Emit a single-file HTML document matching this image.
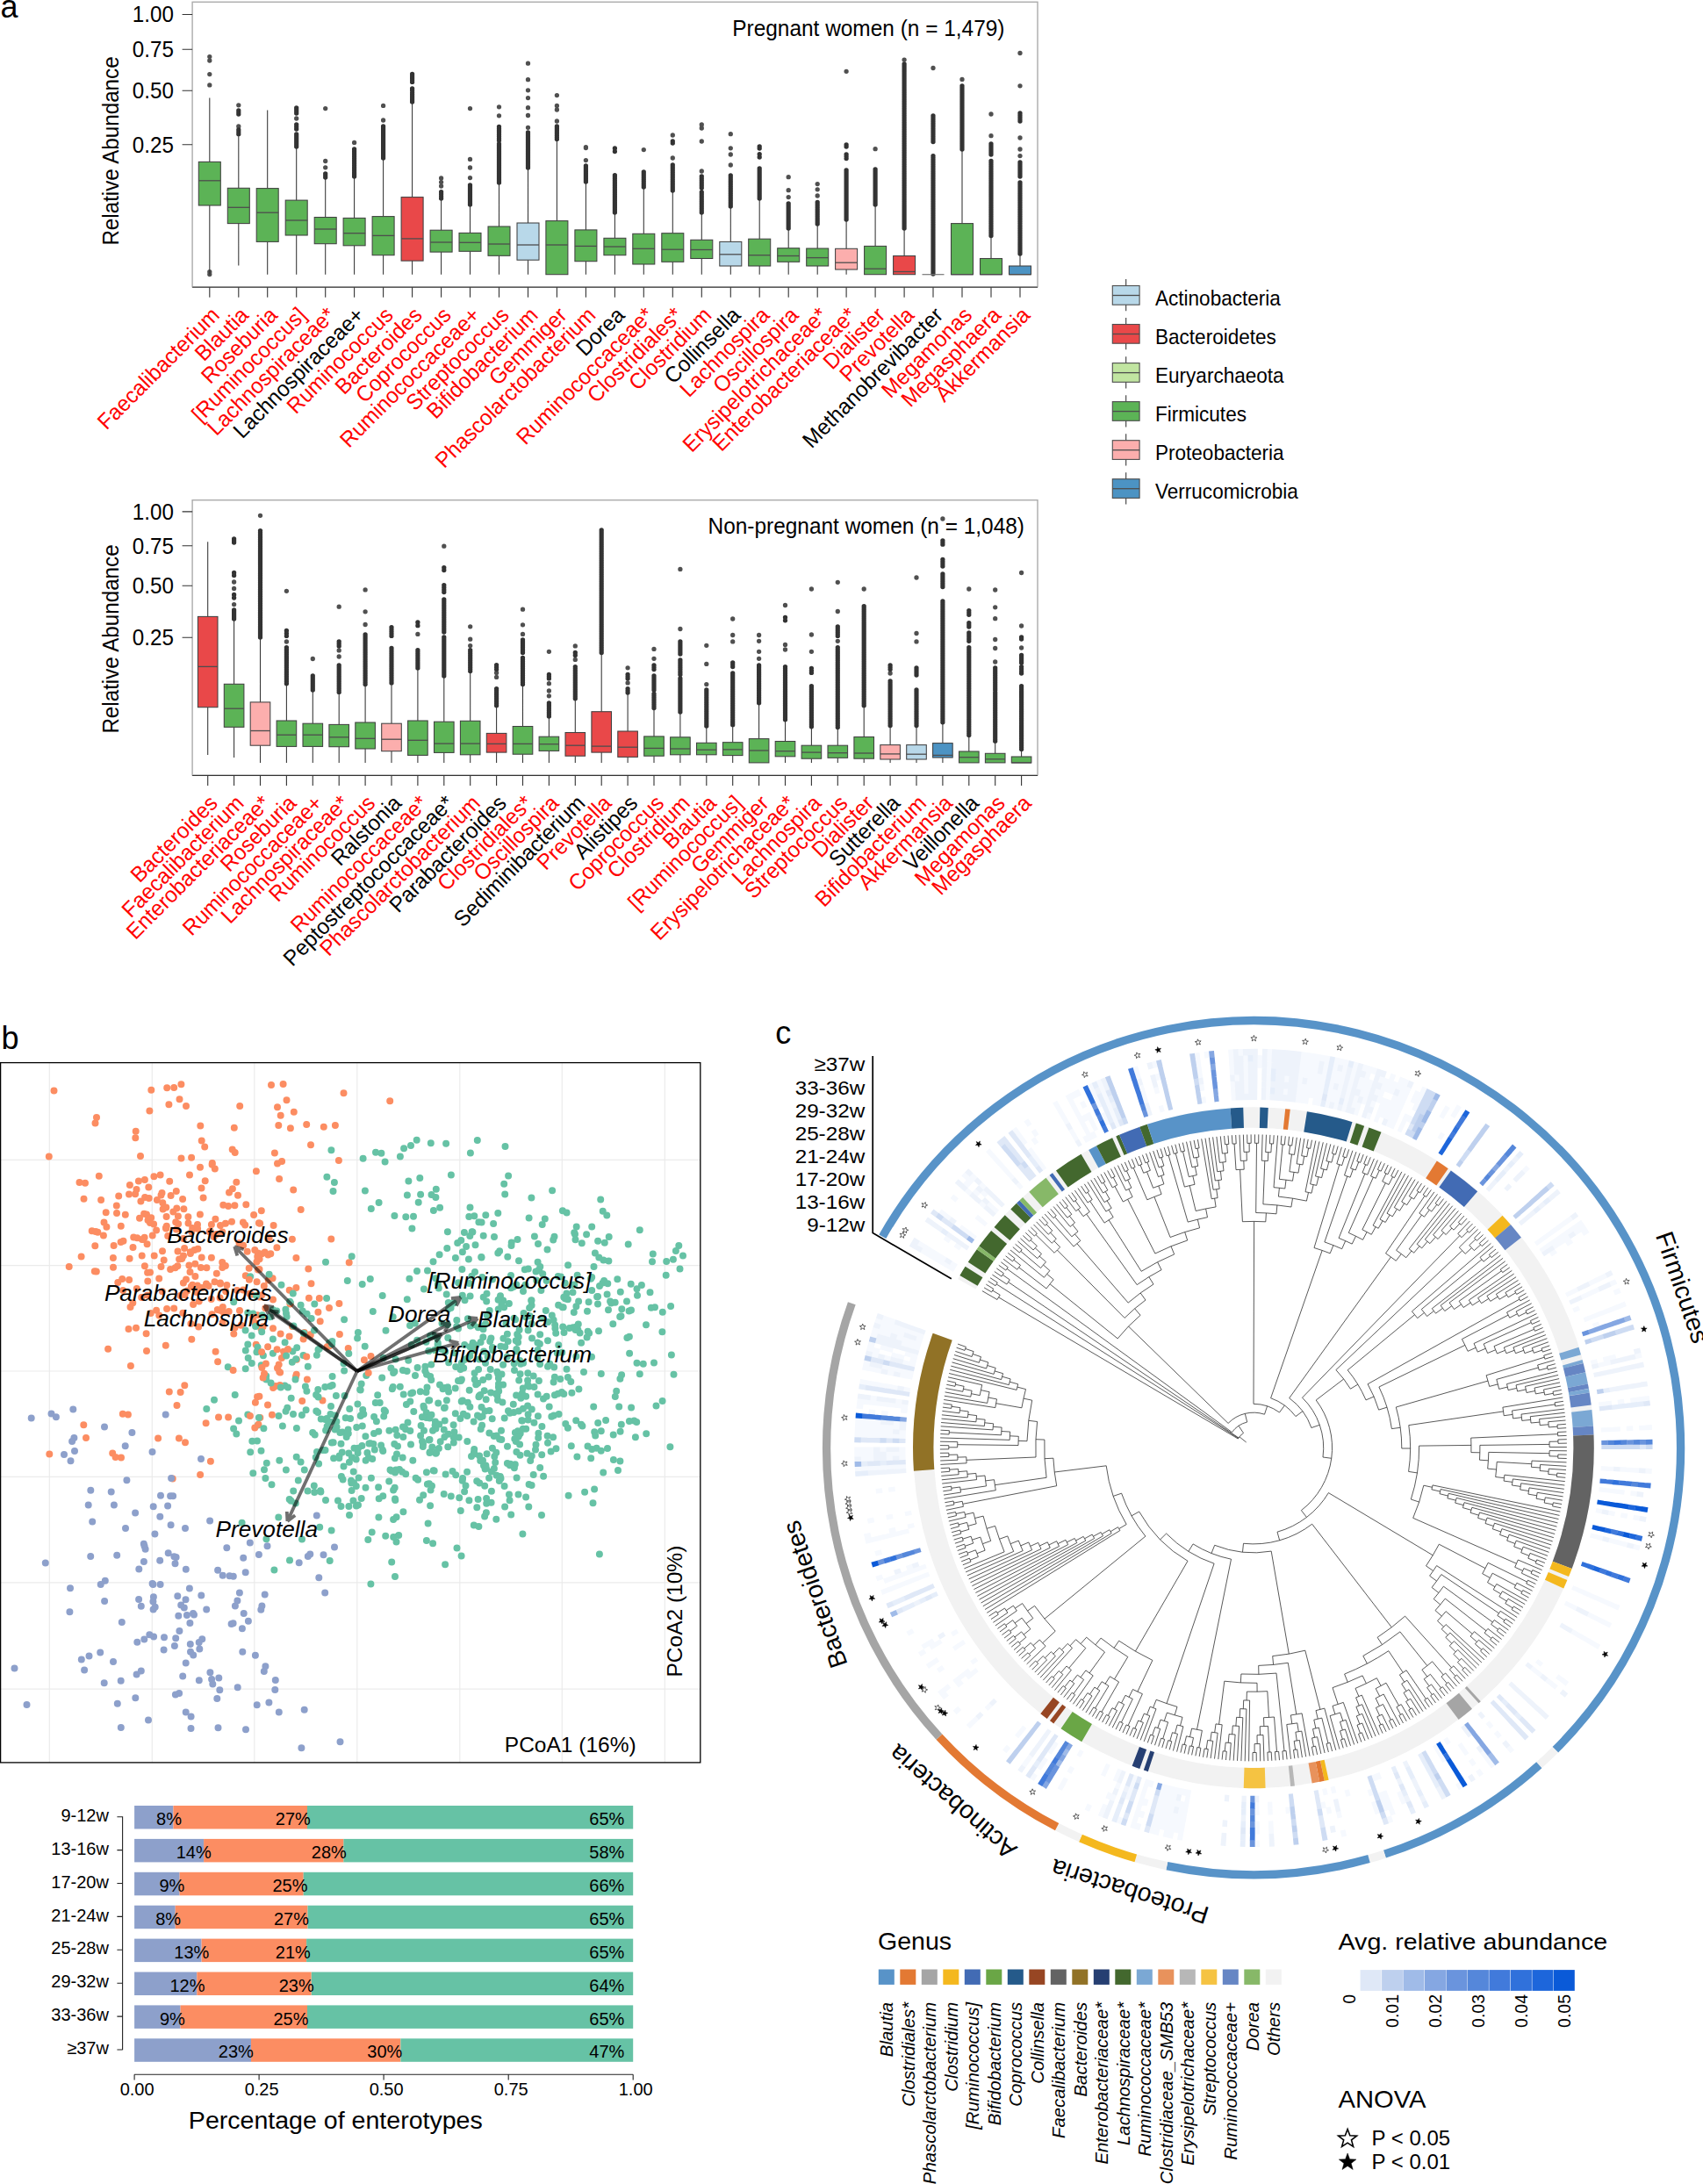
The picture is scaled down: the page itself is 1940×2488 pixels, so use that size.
<!DOCTYPE html>
<html><head><meta charset="utf-8"><title>Figure</title>
<style>html,body{margin:0;padding:0;background:#fff}svg{display:block}text{font-family:"Liberation Sans",Arial,sans-serif}</style>
</head><body>
<svg width="1940" height="2488" viewBox="0 0 1940 2488">
<rect width="1940" height="2488" fill="#fff"/>
<text x="0.5" y="19.5" font-size="36">a</text>
<rect x="219.1" y="2.3" width="962.9" height="324.5" fill="none" stroke="#ababab" stroke-width="1.4"/>
<line x1="219.1" y1="327.3" x2="1182" y2="327.3" stroke="#333" stroke-width="1.1"/>
<text transform="translate(197.9 25.4) scale(0.968 1)" font-size="25" text-anchor="end">1.00</text>
<text transform="translate(197.9 65.2) scale(0.968 1)" font-size="25" text-anchor="end">0.75</text>
<text transform="translate(197.9 112.2) scale(0.968 1)" font-size="25" text-anchor="end">0.50</text>
<text transform="translate(197.9 173.6) scale(0.968 1)" font-size="25" text-anchor="end">0.25</text>
<path d="M207.6 16.5H219.1M207.6 56.2H219.1M207.6 103.3H219.1M207.6 164.7H219.1M238.8 327.3V338.8M271.8 327.3V338.8M304.7 327.3V338.8M337.7 327.3V338.8M370.7 327.3V338.8M403.6 327.3V338.8M436.6 327.3V338.8M469.6 327.3V338.8M502.6 327.3V338.8M535.5 327.3V338.8M568.5 327.3V338.8M601.5 327.3V338.8M634.4 327.3V338.8M667.4 327.3V338.8M700.4 327.3V338.8M733.3 327.3V338.8M766.3 327.3V338.8M799.3 327.3V338.8M832.3 327.3V338.8M865.2 327.3V338.8M898.2 327.3V338.8M931.2 327.3V338.8M964.1 327.3V338.8M997.1 327.3V338.8M1030.1 327.3V338.8M1063 327.3V338.8M1096 327.3V338.8M1129 327.3V338.8M1162 327.3V338.8" stroke="#333" stroke-width="1.1" fill="none"/>
<path d="M238.8 111.6V184.4M238.8 234V312.7M271.8 152.7V214.3M271.8 254.6V302.4M304.7 125.4V214.6M304.7 275.4V312.7M337.7 167.4V228.1M337.7 268V312.7M370.7 202.6V247.5M370.7 277.7V312.7M403.6 201V248.4M403.6 279.8V312.7M436.6 180.6V246.6M436.6 290.7V312.7M469.6 116V224.6M469.6 297.1V312.7M502.6 226V262.2M502.6 287.1V312.7M535.5 233.4V265.4M535.5 286.3V312.7M568.5 208.5V258M568.5 291.3V312.7M601.5 190.8V254M601.5 296.2V312.7M634.4 158.5V251.6M667.4 207V261.9M667.4 297.7V312.7M700.4 242.2V271.3M700.4 290.7V312.7M733.3 213.4V266.3M733.3 301V312.7M766.3 217.3V265.7M766.3 298.3V312.7M799.3 242.2V273.3M799.3 294.5V312.7M832.3 234.9V275.4M832.3 303V312.7M865.2 226V272.2M865.2 303V312.7M898.2 259.8V282.7M898.2 298.3V312.7M931.2 254.8V283M931.2 303V312.7M964.1 249.6V283.3M964.1 307V312.7M997.1 233.4V280.4M1030.1 259.8V291.5M1096 169.7V254.6M1129 268.6V294.5M1162 289.2V303" stroke="#333" stroke-width="1.05" fill="none"/>
<path d="M271.8 126h0M271.8 128h0M271.8 130h0M271.8 148h0M271.8 150.3h0M271.8 152.7h0M337.7 123h0M337.7 125h0M337.7 127h0M337.7 129h0M337.7 142h0M337.7 144.5h0M337.7 147h0M337.7 153h0M337.7 155h0M337.7 157h0M337.7 159h0M337.7 161h0M337.7 163h0M337.7 165h0M337.7 167h0M370.7 198h0M370.7 200h0M370.7 202h0M403.6 170h0M403.6 172.1h0M403.6 174.1h0M403.6 176.2h0M403.6 178.3h0M403.6 180.3h0M403.6 182.4h0M403.6 184.5h0M403.6 186.5h0M403.6 188.6h0M403.6 190.7h0M403.6 192.7h0M403.6 194.8h0M403.6 196.9h0M403.6 198.9h0M403.6 201h0M436.6 144h0M436.6 146h0M436.6 148h0M436.6 150h0M436.6 152h0M436.6 154h0M436.6 156h0M436.6 158h0M436.6 160h0M436.6 162h0M436.6 164h0M436.6 166h0M436.6 168h0M436.6 170h0M436.6 172h0M436.6 174h0M436.6 176h0M436.6 178h0M436.6 180h0M469.6 84.5h0M469.6 86.7h0M469.6 89h0M469.6 91.2h0M469.6 93.4h0M469.6 101h0M469.6 103.1h0M469.6 105.3h0M469.6 107.4h0M469.6 109.6h0M469.6 111.7h0M469.6 113.9h0M469.6 116h0M502.6 218.7h0M502.6 221.1h0M502.6 223.6h0M502.6 226h0M535.5 211h0M535.5 213h0M535.5 215h0M535.5 217h0M535.5 219h0M535.5 221h0M535.5 223h0M535.5 225h0M535.5 227h0M535.5 229h0M535.5 231h0M535.5 233h0M568.5 144.5h0M568.5 146.7h0M568.5 148.9h0M568.5 151.1h0M568.5 153.4h0M568.5 155.6h0M568.5 157.8h0M568.5 160h0M568.5 164h0M568.5 166h0M568.5 168h0M568.5 170h0M568.5 172h0M568.5 174h0M568.5 176h0M568.5 178h0M568.5 180h0M568.5 182h0M568.5 184h0M568.5 186h0M568.5 188h0M568.5 190h0M568.5 192h0M568.5 194h0M568.5 196h0M568.5 198h0M568.5 200h0M568.5 202h0M568.5 204h0M568.5 206h0M568.5 208h0M601.5 151h0M601.5 153h0M601.5 155h0M601.5 157h0M601.5 159h0M601.5 161h0M601.5 163h0M601.5 165h0M601.5 167h0M601.5 169h0M601.5 171h0M601.5 173h0M601.5 175h0M601.5 177h0M601.5 179h0M601.5 181h0M601.5 183h0M601.5 185h0M601.5 187h0M601.5 189h0M601.5 191h0M634.4 144h0M634.4 146.1h0M634.4 148.1h0M634.4 150.2h0M634.4 152.3h0M634.4 154.4h0M634.4 156.4h0M634.4 158.5h0M667.4 189h0M667.4 191h0M667.4 193h0M667.4 195h0M667.4 197h0M667.4 199h0M667.4 201h0M667.4 203h0M667.4 205h0M667.4 207h0M700.4 169h0M700.4 172.6h0M700.4 199.6h0M700.4 201.6h0M700.4 203.6h0M700.4 205.7h0M700.4 207.7h0M700.4 209.7h0M700.4 211.7h0M700.4 213.7h0M700.4 215.8h0M700.4 217.8h0M700.4 219.8h0M700.4 221.8h0M700.4 223.8h0M700.4 225.8h0M700.4 227.9h0M700.4 229.9h0M700.4 231.9h0M700.4 233.9h0M700.4 235.9h0M700.4 238h0M700.4 240h0M700.4 242h0M733.3 196h0M733.3 198.1h0M733.3 200.2h0M733.3 202.4h0M733.3 204.5h0M733.3 206.6h0M733.3 208.8h0M733.3 210.9h0M733.3 213h0M766.3 161h0M766.3 163h0M766.3 188h0M766.3 190.1h0M766.3 192.1h0M766.3 194.2h0M766.3 196.3h0M766.3 198.4h0M766.3 200.4h0M766.3 202.5h0M766.3 204.6h0M766.3 206.6h0M766.3 208.7h0M766.3 210.8h0M766.3 212.9h0M766.3 214.9h0M766.3 217h0M799.3 201h0M799.3 203.2h0M799.3 205.3h0M799.3 207.5h0M799.3 209.7h0M799.3 211.8h0M799.3 214h0M799.3 219h0M799.3 221.1h0M799.3 223.2h0M799.3 225.3h0M799.3 227.4h0M799.3 229.5h0M799.3 231.5h0M799.3 233.6h0M799.3 235.7h0M799.3 237.8h0M799.3 239.9h0M799.3 242h0M832.3 200h0M832.3 202.1h0M832.3 204.1h0M832.3 206.2h0M832.3 208.2h0M832.3 210.3h0M832.3 212.4h0M832.3 214.4h0M832.3 216.5h0M832.3 218.5h0M832.3 220.6h0M832.3 222.6h0M832.3 224.7h0M832.3 226.8h0M832.3 228.8h0M832.3 230.9h0M832.3 232.9h0M832.3 235h0M865.2 167h0M865.2 169h0M865.2 175.6h0M865.2 179h0M865.2 192h0M865.2 194h0M865.2 196h0M865.2 198h0M865.2 200h0M865.2 202h0M865.2 204h0M865.2 206h0M865.2 208h0M865.2 210h0M865.2 212h0M865.2 214h0M865.2 216h0M865.2 218h0M865.2 220h0M865.2 222h0M865.2 224h0M865.2 226h0M898.2 232h0M898.2 234h0M898.2 236h0M898.2 238h0M898.2 240h0M898.2 242h0M898.2 244h0M898.2 246h0M898.2 248h0M898.2 250h0M898.2 252h0M898.2 254h0M898.2 256h0M898.2 258h0M898.2 260h0M931.2 230.5h0M931.2 232.5h0M931.2 234.6h0M931.2 236.6h0M931.2 238.7h0M931.2 240.7h0M931.2 242.8h0M931.2 244.8h0M931.2 246.8h0M931.2 248.9h0M931.2 250.9h0M931.2 253h0M931.2 255h0M964.1 165h0M964.1 167h0M964.1 176h0M964.1 178.3h0M964.1 180.6h0M964.1 194h0M964.1 196h0M964.1 198h0M964.1 200h0M964.1 202h0M964.1 204h0M964.1 206h0M964.1 208h0M964.1 210h0M964.1 212h0M964.1 214h0M964.1 216h0M964.1 218h0M964.1 220h0M964.1 222h0M964.1 224h0M964.1 226h0M964.1 228h0M964.1 230h0M964.1 232h0M964.1 234h0M964.1 236h0M964.1 238h0M964.1 240h0M964.1 242h0M964.1 244h0M964.1 246h0M964.1 248h0M964.1 250h0M997.1 193h0M997.1 195h0M997.1 197h0M997.1 199h0M997.1 201h0M997.1 203h0M997.1 205h0M997.1 207h0M997.1 209h0M997.1 211h0M997.1 213h0M997.1 215h0M997.1 217h0M997.1 219h0M997.1 221h0M997.1 223h0M997.1 225h0M997.1 227h0M997.1 229h0M997.1 231h0M997.1 233h0M1030.1 73h0M1030.1 75h0M1030.1 77h0M1030.1 79h0M1030.1 81h0M1030.1 83.1h0M1030.1 85.1h0M1030.1 87.1h0M1030.1 89.1h0M1030.1 91.1h0M1030.1 93.1h0M1030.1 95.1h0M1030.1 97.1h0M1030.1 99.1h0M1030.1 101.2h0M1030.1 103.2h0M1030.1 105.2h0M1030.1 107.2h0M1030.1 109.2h0M1030.1 111.2h0M1030.1 113.2h0M1030.1 115.2h0M1030.1 117.2h0M1030.1 119.2h0M1030.1 121.3h0M1030.1 123.3h0M1030.1 125.3h0M1030.1 127.3h0M1030.1 129.3h0M1030.1 131.3h0M1030.1 133.3h0M1030.1 135.3h0M1030.1 137.3h0M1030.1 139.4h0M1030.1 141.4h0M1030.1 143.4h0M1030.1 145.4h0M1030.1 147.4h0M1030.1 149.4h0M1030.1 151.4h0M1030.1 153.4h0M1030.1 155.4h0M1030.1 157.5h0M1030.1 159.5h0M1030.1 161.5h0M1030.1 163.5h0M1030.1 165.5h0M1030.1 167.5h0M1030.1 169.5h0M1030.1 171.5h0M1030.1 173.5h0M1030.1 175.5h0M1030.1 177.6h0M1030.1 179.6h0M1030.1 181.6h0M1030.1 183.6h0M1030.1 185.6h0M1030.1 187.6h0M1030.1 189.6h0M1030.1 191.6h0M1030.1 193.6h0M1030.1 195.7h0M1030.1 197.7h0M1030.1 199.7h0M1030.1 201.7h0M1030.1 203.7h0M1030.1 205.7h0M1030.1 207.7h0M1030.1 209.7h0M1030.1 211.7h0M1030.1 213.8h0M1030.1 215.8h0M1030.1 217.8h0M1030.1 219.8h0M1030.1 221.8h0M1030.1 223.8h0M1030.1 225.8h0M1030.1 227.8h0M1030.1 229.8h0M1030.1 231.8h0M1030.1 233.9h0M1030.1 235.9h0M1030.1 237.9h0M1030.1 239.9h0M1030.1 241.9h0M1030.1 243.9h0M1030.1 245.9h0M1030.1 247.9h0M1030.1 249.9h0M1030.1 252h0M1030.1 254h0M1030.1 256h0M1030.1 258h0M1030.1 260h0M1063 132h0M1063 134.1h0M1063 136.2h0M1063 138.3h0M1063 140.4h0M1063 142.5h0M1063 144.6h0M1063 146.8h0M1063 148.9h0M1063 151h0M1063 153.1h0M1063 155.2h0M1063 157.3h0M1063 159.4h0M1063 161.5h0M1063 177.6h0M1063 179.6h0M1063 181.6h0M1063 183.6h0M1063 185.6h0M1063 187.6h0M1063 189.6h0M1063 191.6h0M1063 193.6h0M1063 195.7h0M1063 197.7h0M1063 199.7h0M1063 201.7h0M1063 203.7h0M1063 205.7h0M1063 207.7h0M1063 209.7h0M1063 211.7h0M1063 213.7h0M1063 215.7h0M1063 217.7h0M1063 219.7h0M1063 221.7h0M1063 223.7h0M1063 225.7h0M1063 227.7h0M1063 229.8h0M1063 231.8h0M1063 233.8h0M1063 235.8h0M1063 237.8h0M1063 239.8h0M1063 241.8h0M1063 243.8h0M1063 245.8h0M1063 247.8h0M1063 249.8h0M1063 251.8h0M1063 253.8h0M1063 255.8h0M1063 257.8h0M1063 259.8h0M1063 261.9h0M1063 263.9h0M1063 265.9h0M1063 267.9h0M1063 269.9h0M1063 271.9h0M1063 273.9h0M1063 275.9h0M1063 277.9h0M1063 279.9h0M1063 281.9h0M1063 283.9h0M1063 285.9h0M1063 287.9h0M1063 289.9h0M1063 291.9h0M1063 293.9h0M1063 296h0M1063 298h0M1063 300h0M1063 302h0M1063 304h0M1063 306h0M1063 308h0M1063 310h0M1063 312h0M1096 98h0M1096 100h0M1096 102h0M1096 104h0M1096 106h0M1096 108h0M1096 110h0M1096 112h0M1096 114h0M1096 116h0M1096 118h0M1096 120h0M1096 122h0M1096 124h0M1096 126h0M1096 128h0M1096 130h0M1096 132h0M1096 134h0M1096 136h0M1096 138h0M1096 140h0M1096 142h0M1096 144h0M1096 146h0M1096 148h0M1096 150h0M1096 152h0M1096 154h0M1096 156h0M1096 158h0M1096 160h0M1096 162h0M1096 164h0M1096 166h0M1096 168h0M1096 170h0M1129 164h0M1129 166h0M1129 168h0M1129 170h0M1129 172h0M1129 174h0M1129 176h0M1129 183.5h0M1129 185.5h0M1129 187.6h0M1129 189.6h0M1129 191.6h0M1129 193.6h0M1129 195.7h0M1129 197.7h0M1129 199.7h0M1129 201.7h0M1129 203.8h0M1129 205.8h0M1129 207.8h0M1129 209.8h0M1129 211.9h0M1129 213.9h0M1129 215.9h0M1129 217.9h0M1129 220h0M1129 222h0M1129 224h0M1129 226.1h0M1129 228.1h0M1129 230.1h0M1129 232.1h0M1129 234.2h0M1129 236.2h0M1129 238.2h0M1129 240.2h0M1129 242.3h0M1129 244.3h0M1129 246.3h0M1129 248.3h0M1129 250.4h0M1129 252.4h0M1129 254.4h0M1129 256.4h0M1129 258.5h0M1129 260.5h0M1129 262.5h0M1129 264.5h0M1129 266.6h0M1129 268.6h0M1162 129h0M1162 131.2h0M1162 133.5h0M1162 135.8h0M1162 138h0M1162 185h0M1162 187h0M1162 189h0M1162 191h0M1162 193h0M1162 195h0M1162 197h0M1162 199h0M1162 201h0M1162 208h0M1162 210h0M1162 212.1h0M1162 214.1h0M1162 216.1h0M1162 218.1h0M1162 220.2h0M1162 222.2h0M1162 224.2h0M1162 226.2h0M1162 228.2h0M1162 230.3h0M1162 232.3h0M1162 234.3h0M1162 236.3h0M1162 238.4h0M1162 240.4h0M1162 242.4h0M1162 244.4h0M1162 246.5h0M1162 248.5h0M1162 250.5h0M1162 252.6h0M1162 254.6h0M1162 256.6h0M1162 258.6h0M1162 260.6h0M1162 262.7h0M1162 264.7h0M1162 266.7h0M1162 268.8h0M1162 270.8h0M1162 272.8h0M1162 274.8h0M1162 276.9h0M1162 278.9h0M1162 280.9h0M1162 282.9h0M1162 284.9h0M1162 287h0M1162 289h0" stroke="#333" stroke-width="5.3" stroke-linecap="round" fill="none"/>
<path d="M238.8 64.6h0M238.8 69h0M238.8 84.6h0M238.8 96.9h0M238.8 309.7h0M238.8 312.5h0M271.8 119.8h0M271.8 144h0M337.7 135h0M370.7 123.6h0M370.7 183.5h0M370.7 190.8h0M403.6 162.4h0M436.6 120.4h0M436.6 137h0M502.6 203h0M502.6 207.6h0M502.6 212h0M535.5 123.6h0M535.5 181.4h0M535.5 191h0M535.5 202.6h0M568.5 121.8h0M568.5 131.8h0M601.5 72.2h0M601.5 90.7h0M601.5 102.8h0M601.5 111.6h0M601.5 122.7h0M601.5 131.5h0M601.5 145.3h0M634.4 108.6h0M634.4 120.4h0M634.4 125h0M634.4 138h0M667.4 167.6h0M667.4 168.5h0M667.4 182.6h0M733.3 170.6h0M766.3 154h0M766.3 180h0M799.3 142h0M799.3 146h0M799.3 161h0M799.3 195h0M832.3 152.7h0M832.3 168.8h0M832.3 176h0M832.3 188h0M898.2 201.7h0M898.2 216.7h0M898.2 224.6h0M931.2 209.6h0M931.2 215.8h0M931.2 223h0M964.1 81.3h0M997.1 169.7h0M1030.1 68.1h0M1063 77.5h0M1096 90.4h0M1129 130h0M1129 154.7h0M1162 60.5h0M1162 97.8h0M1162 157h0M1162 170h0M1162 177.6h0" stroke="#333" stroke-opacity="0.86" stroke-width="5.3" stroke-linecap="round" fill="none"/>
<rect x="226.3" y="184.4" width="25" height="49.6" fill="#5CB356" stroke="#404040" stroke-width="1.05"/>
<path d="M226.3 205.8H251.3" stroke="#4d4d4d" stroke-width="1.3"/>
<rect x="259.3" y="214.3" width="25" height="40.3" fill="#5CB356" stroke="#404040" stroke-width="1.05"/>
<path d="M259.3 236.3H284.3" stroke="#4d4d4d" stroke-width="1.3"/>
<rect x="292.2" y="214.6" width="25" height="60.8" fill="#5CB356" stroke="#404040" stroke-width="1.05"/>
<path d="M292.2 242.2H317.2" stroke="#4d4d4d" stroke-width="1.3"/>
<rect x="325.2" y="228.1" width="25" height="39.9" fill="#5CB356" stroke="#404040" stroke-width="1.05"/>
<path d="M325.2 251H350.2" stroke="#4d4d4d" stroke-width="1.3"/>
<rect x="358.2" y="247.5" width="25" height="30.2" fill="#5CB356" stroke="#404040" stroke-width="1.05"/>
<path d="M358.2 261H383.2" stroke="#4d4d4d" stroke-width="1.3"/>
<rect x="391.1" y="248.4" width="25" height="31.4" fill="#5CB356" stroke="#404040" stroke-width="1.05"/>
<path d="M391.1 265.7H416.1" stroke="#4d4d4d" stroke-width="1.3"/>
<rect x="424.1" y="246.6" width="25" height="44.1" fill="#5CB356" stroke="#404040" stroke-width="1.05"/>
<path d="M424.1 268.4H449.1" stroke="#4d4d4d" stroke-width="1.3"/>
<rect x="457.1" y="224.6" width="25" height="72.5" fill="#E94849" stroke="#404040" stroke-width="1.05"/>
<path d="M457.1 271.9H482.1" stroke="#4d4d4d" stroke-width="1.3"/>
<rect x="490.1" y="262.2" width="25" height="24.9" fill="#5CB356" stroke="#404040" stroke-width="1.05"/>
<path d="M490.1 276H515.1" stroke="#4d4d4d" stroke-width="1.3"/>
<rect x="523" y="265.4" width="25" height="20.9" fill="#5CB356" stroke="#404040" stroke-width="1.05"/>
<path d="M523 276.3H548" stroke="#4d4d4d" stroke-width="1.3"/>
<rect x="556" y="258" width="25" height="33.3" fill="#5CB356" stroke="#404040" stroke-width="1.05"/>
<path d="M556 278H581" stroke="#4d4d4d" stroke-width="1.3"/>
<rect x="589" y="254" width="25" height="42.2" fill="#B8D8E9" stroke="#404040" stroke-width="1.05"/>
<path d="M589 279H614" stroke="#4d4d4d" stroke-width="1.3"/>
<rect x="621.9" y="251.6" width="25" height="61.1" fill="#5CB356" stroke="#404040" stroke-width="1.05"/>
<path d="M621.9 279H646.9" stroke="#4d4d4d" stroke-width="1.3"/>
<rect x="654.9" y="261.9" width="25" height="35.8" fill="#5CB356" stroke="#404040" stroke-width="1.05"/>
<path d="M654.9 280.4H679.9" stroke="#4d4d4d" stroke-width="1.3"/>
<rect x="687.9" y="271.3" width="25" height="19.4" fill="#5CB356" stroke="#404040" stroke-width="1.05"/>
<path d="M687.9 281H712.9" stroke="#4d4d4d" stroke-width="1.3"/>
<rect x="720.8" y="266.3" width="25" height="34.7" fill="#5CB356" stroke="#404040" stroke-width="1.05"/>
<path d="M720.8 283.3H745.8" stroke="#4d4d4d" stroke-width="1.3"/>
<rect x="753.8" y="265.7" width="25" height="32.6" fill="#5CB356" stroke="#404040" stroke-width="1.05"/>
<path d="M753.8 284.2H778.8" stroke="#4d4d4d" stroke-width="1.3"/>
<rect x="786.8" y="273.3" width="25" height="21.2" fill="#5CB356" stroke="#404040" stroke-width="1.05"/>
<path d="M786.8 284.5H811.8" stroke="#4d4d4d" stroke-width="1.3"/>
<rect x="819.8" y="275.4" width="25" height="27.6" fill="#B8D8E9" stroke="#404040" stroke-width="1.05"/>
<path d="M819.8 289.8H844.8" stroke="#4d4d4d" stroke-width="1.3"/>
<rect x="852.7" y="272.2" width="25" height="30.8" fill="#5CB356" stroke="#404040" stroke-width="1.05"/>
<path d="M852.7 290.7H877.7" stroke="#4d4d4d" stroke-width="1.3"/>
<rect x="885.7" y="282.7" width="25" height="15.6" fill="#5CB356" stroke="#404040" stroke-width="1.05"/>
<path d="M885.7 291.5H910.7" stroke="#4d4d4d" stroke-width="1.3"/>
<rect x="918.7" y="283" width="25" height="20" fill="#5CB356" stroke="#404040" stroke-width="1.05"/>
<path d="M918.7 293.6H943.7" stroke="#4d4d4d" stroke-width="1.3"/>
<rect x="951.6" y="283.3" width="25" height="23.7" fill="#FCAEAD" stroke="#404040" stroke-width="1.05"/>
<path d="M951.6 299.2H976.6" stroke="#4d4d4d" stroke-width="1.3"/>
<rect x="984.6" y="280.4" width="25" height="32.3" fill="#5CB356" stroke="#404040" stroke-width="1.05"/>
<path d="M984.6 306.2H1009.6" stroke="#4d4d4d" stroke-width="1.3"/>
<rect x="1017.6" y="291.5" width="25" height="21.2" fill="#E94849" stroke="#404040" stroke-width="1.05"/>
<path d="M1017.6 309.5H1042.6" stroke="#4d4d4d" stroke-width="1.3"/>
<path d="M1050.5 312.7H1075.5" stroke="#777" stroke-width="1.2"/>
<rect x="1083.5" y="254.6" width="25" height="58.1" fill="#5CB356" stroke="#404040" stroke-width="1.05"/>
<path d="M1083.5 312.7H1108.5" stroke="#4d4d4d" stroke-width="1.3"/>
<rect x="1116.5" y="294.5" width="25" height="18.2" fill="#5CB356" stroke="#404040" stroke-width="1.05"/>
<path d="M1116.5 312.7H1141.5" stroke="#4d4d4d" stroke-width="1.3"/>
<rect x="1149.5" y="303" width="25" height="9.7" fill="#4C93C3" stroke="#404040" stroke-width="1.05"/>
<path d="M1149.5 312.7H1174.5" stroke="#4d4d4d" stroke-width="1.3"/>
<text transform="translate(251.5 360.5) rotate(-45) scale(0.968 1)" font-size="25" text-anchor="end" fill="#FF0000">Faecalibacterium</text>
<text transform="translate(284.5 360.5) rotate(-45) scale(0.968 1)" font-size="25" text-anchor="end" fill="#FF0000">Blautia</text>
<text transform="translate(317.4 360.5) rotate(-45) scale(0.968 1)" font-size="25" text-anchor="end" fill="#FF0000">Roseburia</text>
<text transform="translate(350.4 360.5) rotate(-45) scale(0.968 1)" font-size="25" text-anchor="end" fill="#FF0000">[Ruminococcus]</text>
<text transform="translate(383.4 360.5) rotate(-45) scale(0.968 1)" font-size="25" text-anchor="end" fill="#FF0000">Lachnospiraceae*</text>
<text transform="translate(416.3 360.5) rotate(-45) scale(0.968 1)" font-size="25" text-anchor="end" fill="#000">Lachnospiraceae+</text>
<text transform="translate(449.3 360.5) rotate(-45) scale(0.968 1)" font-size="25" text-anchor="end" fill="#FF0000">Ruminococcus</text>
<text transform="translate(482.3 360.5) rotate(-45) scale(0.968 1)" font-size="25" text-anchor="end" fill="#FF0000">Bacteroides</text>
<text transform="translate(515.3 360.5) rotate(-45) scale(0.968 1)" font-size="25" text-anchor="end" fill="#FF0000">Coprococcus</text>
<text transform="translate(548.2 360.5) rotate(-45) scale(0.968 1)" font-size="25" text-anchor="end" fill="#FF0000">Ruminococcaceae+</text>
<text transform="translate(581.2 360.5) rotate(-45) scale(0.968 1)" font-size="25" text-anchor="end" fill="#FF0000">Streptococcus</text>
<text transform="translate(614.2 360.5) rotate(-45) scale(0.968 1)" font-size="25" text-anchor="end" fill="#FF0000">Bifidobacterium</text>
<text transform="translate(647.1 360.5) rotate(-45) scale(0.968 1)" font-size="25" text-anchor="end" fill="#FF0000">Gemmiger</text>
<text transform="translate(680.1 360.5) rotate(-45) scale(0.968 1)" font-size="25" text-anchor="end" fill="#FF0000">Phascolarctobacterium</text>
<text transform="translate(713.1 360.5) rotate(-45) scale(0.968 1)" font-size="25" text-anchor="end" fill="#000">Dorea</text>
<text transform="translate(746 360.5) rotate(-45) scale(0.968 1)" font-size="25" text-anchor="end" fill="#FF0000">Ruminococcaceae*</text>
<text transform="translate(779 360.5) rotate(-45) scale(0.968 1)" font-size="25" text-anchor="end" fill="#FF0000">Clostridiales*</text>
<text transform="translate(812 360.5) rotate(-45) scale(0.968 1)" font-size="25" text-anchor="end" fill="#FF0000">Clostridium</text>
<text transform="translate(845 360.5) rotate(-45) scale(0.968 1)" font-size="25" text-anchor="end" fill="#000">Collinsella</text>
<text transform="translate(877.9 360.5) rotate(-45) scale(0.968 1)" font-size="25" text-anchor="end" fill="#FF0000">Lachnospira</text>
<text transform="translate(910.9 360.5) rotate(-45) scale(0.968 1)" font-size="25" text-anchor="end" fill="#FF0000">Oscillospira</text>
<text transform="translate(943.9 360.5) rotate(-45) scale(0.968 1)" font-size="25" text-anchor="end" fill="#FF0000">Erysipelotrichaceae*</text>
<text transform="translate(976.8 360.5) rotate(-45) scale(0.968 1)" font-size="25" text-anchor="end" fill="#FF0000">Enterobacteriaceae*</text>
<text transform="translate(1009.8 360.5) rotate(-45) scale(0.968 1)" font-size="25" text-anchor="end" fill="#FF0000">Dialister</text>
<text transform="translate(1042.8 360.5) rotate(-45) scale(0.968 1)" font-size="25" text-anchor="end" fill="#FF0000">Prevotella</text>
<text transform="translate(1075.8 360.5) rotate(-45) scale(0.968 1)" font-size="25" text-anchor="end" fill="#000">Methanobrevibacter</text>
<text transform="translate(1108.7 360.5) rotate(-45) scale(0.968 1)" font-size="25" text-anchor="end" fill="#FF0000">Megamonas</text>
<text transform="translate(1141.7 360.5) rotate(-45) scale(0.968 1)" font-size="25" text-anchor="end" fill="#FF0000">Megasphaera</text>
<text transform="translate(1174.7 360.5) rotate(-45) scale(0.968 1)" font-size="25" text-anchor="end" fill="#FF0000">Akkermansia</text>
<text transform="translate(1144.5 41) scale(0.966 1)" font-size="25.3" text-anchor="end">Pregnant women (n = 1,479)</text>
<text transform="translate(134.6 172) rotate(-90) scale(0.968 1)" font-size="25" text-anchor="middle">Relative Abundance</text>
<rect x="219.1" y="569.7" width="962.9" height="313.3" fill="none" stroke="#ababab" stroke-width="1.4"/>
<line x1="219.1" y1="883.5" x2="1182" y2="883.5" stroke="#333" stroke-width="1.1"/>
<text transform="translate(197.9 591.9) scale(0.968 1)" font-size="25" text-anchor="end">1.00</text>
<text transform="translate(197.9 630.7) scale(0.968 1)" font-size="25" text-anchor="end">0.75</text>
<text transform="translate(197.9 676.2) scale(0.968 1)" font-size="25" text-anchor="end">0.50</text>
<text transform="translate(197.9 735.2) scale(0.968 1)" font-size="25" text-anchor="end">0.25</text>
<path d="M207.6 582.9H219.1M207.6 621.7H219.1M207.6 667.2H219.1M207.6 726.2H219.1M236.7 883.5V895M266.6 883.5V895M296.5 883.5V895M326.4 883.5V895M356.3 883.5V895M386.2 883.5V895M416.1 883.5V895M446 883.5V895M475.9 883.5V895M505.8 883.5V895M535.7 883.5V895M565.6 883.5V895M595.5 883.5V895M625.4 883.5V895M655.3 883.5V895M685.2 883.5V895M715.1 883.5V895M745 883.5V895M774.9 883.5V895M804.8 883.5V895M834.7 883.5V895M864.6 883.5V895M894.5 883.5V895M924.4 883.5V895M954.3 883.5V895M984.2 883.5V895M1014.1 883.5V895M1044 883.5V895M1073.9 883.5V895M1103.8 883.5V895M1133.7 883.5V895M1163.6 883.5V895" stroke="#333" stroke-width="1.1" fill="none"/>
<path d="M236.7 617.3V702.4M236.7 805.7V860M266.6 705.3V779.3M266.6 828.3V863M296.5 725.9V799.9M296.5 849.2V868.9M326.4 778.7V821M326.4 850.4V868.9M356.3 786V824.2M356.3 850.4V868.9M386.2 788.4V825.4M386.2 850.7V868.9M416.1 779.6V823M416.1 853V868.9M446 777.9V824.2M446 855.7V868.9M475.9 762V821M475.9 860.4V868.9M505.8 769.9V822.2M505.8 857.4V868.9M535.7 764.6V821.3M535.7 859.8V868.9M565.6 803.7V835.4M565.6 857.1V868.9M595.5 779.6V827.5M595.5 859.2V868.9M625.4 816V839.2M625.4 855.4V868.9M655.3 795.8V834.5M655.3 861.2V868.9M685.2 743.5V810.7M685.2 857.1V868.9M715.1 789V833M715.1 862.4V868.9M745 806.6V838.9M745 861.2V868.9M774.9 811V839.8M774.9 859.8V868.9M804.8 827.2V846.3M804.8 859.8V868.9M834.7 825.7V845.7M834.7 860.6V868.9M864.6 800.8V841.6M894.5 819.8V844.5M894.5 861.8V868.9M924.4 827.8V849.2M924.4 864.2V868.9M954.3 828.6V849.2M954.3 863.3V868.9M984.2 803.7V839.5M984.2 864.2V868.9M1014.1 826.6V848.6M1014.1 865V868.9M1044 826.6V848.6M1044 865V868.9M1073.9 822.8V846.6M1073.9 863V868.9M1103.8 837.5V856M1133.7 844.2V858.3M1163.6 853.6V862" stroke="#333" stroke-width="1.05" fill="none"/>
<path d="M266.6 614h0M266.6 616h0M266.6 618h0M266.6 652.5h0M266.6 655.4h0M266.6 677.4h0M266.6 681h0M266.6 695h0M266.6 697h0M266.6 699h0M266.6 701h0M266.6 703h0M266.6 705h0M296.5 604.6h0M296.5 606.6h0M296.5 608.6h0M296.5 610.7h0M296.5 612.7h0M296.5 614.7h0M296.5 616.7h0M296.5 618.8h0M296.5 620.8h0M296.5 622.8h0M296.5 624.8h0M296.5 626.9h0M296.5 628.9h0M296.5 630.9h0M296.5 632.9h0M296.5 635h0M296.5 637h0M296.5 639h0M296.5 641h0M296.5 643h0M296.5 645.1h0M296.5 647.1h0M296.5 649.1h0M296.5 651.1h0M296.5 653.2h0M296.5 655.2h0M296.5 657.2h0M296.5 659.2h0M296.5 661.3h0M296.5 663.3h0M296.5 665.3h0M296.5 667.3h0M296.5 669.3h0M296.5 671.4h0M296.5 673.4h0M296.5 675.4h0M296.5 677.4h0M296.5 679.5h0M296.5 681.5h0M296.5 683.5h0M296.5 685.5h0M296.5 687.6h0M296.5 689.6h0M296.5 691.6h0M296.5 693.6h0M296.5 695.6h0M296.5 697.7h0M296.5 699.7h0M296.5 701.7h0M296.5 703.7h0M296.5 705.8h0M296.5 707.8h0M296.5 709.8h0M296.5 711.8h0M296.5 713.9h0M296.5 715.9h0M296.5 717.9h0M296.5 719.9h0M296.5 722h0M296.5 724h0M296.5 726h0M326.4 718.5h0M326.4 721.5h0M326.4 724.4h0M326.4 737.6h0M326.4 739.7h0M326.4 741.7h0M326.4 743.8h0M326.4 745.8h0M326.4 747.9h0M326.4 749.9h0M326.4 752h0M326.4 754h0M326.4 756.1h0M326.4 758.2h0M326.4 760.2h0M326.4 762.3h0M326.4 764.3h0M326.4 766.4h0M326.4 768.4h0M326.4 770.5h0M326.4 772.5h0M326.4 774.6h0M326.4 776.6h0M326.4 778.7h0M356.3 770h0M356.3 772h0M356.3 774h0M356.3 776h0M356.3 778h0M356.3 780h0M356.3 782h0M356.3 784h0M356.3 786h0M386.2 731h0M386.2 733.5h0M386.2 736h0M386.2 758h0M386.2 760h0M386.2 762.1h0M386.2 764.1h0M386.2 766.1h0M386.2 768.1h0M386.2 770.2h0M386.2 772.2h0M386.2 774.2h0M386.2 776.2h0M386.2 778.3h0M386.2 780.3h0M386.2 782.3h0M386.2 784.3h0M386.2 786.4h0M386.2 788.4h0M416.1 723h0M416.1 725h0M416.1 727h0M416.1 729.1h0M416.1 731.1h0M416.1 733.1h0M416.1 735.1h0M416.1 737.1h0M416.1 739.2h0M416.1 741.2h0M416.1 743.2h0M416.1 745.2h0M416.1 747.3h0M416.1 749.3h0M416.1 751.3h0M416.1 753.3h0M416.1 755.3h0M416.1 757.4h0M416.1 759.4h0M416.1 761.4h0M416.1 763.4h0M416.1 765.5h0M416.1 767.5h0M416.1 769.5h0M416.1 771.5h0M416.1 773.5h0M416.1 775.6h0M416.1 777.6h0M416.1 779.6h0M446 714.7h0M446 717.1h0M446 719.5h0M446 722h0M446 724.4h0M446 738.5h0M446 740.6h0M446 742.6h0M446 744.7h0M446 746.8h0M446 748.9h0M446 750.9h0M446 753h0M446 755.1h0M446 757.2h0M446 759.2h0M446 761.3h0M446 763.4h0M446 765.5h0M446 767.5h0M446 769.6h0M446 771.7h0M446 773.8h0M446 775.8h0M446 777.9h0M475.9 709h0M475.9 712.7h0M475.9 740.6h0M475.9 742.6h0M475.9 744.7h0M475.9 746.7h0M475.9 748.8h0M475.9 750.8h0M475.9 752.8h0M475.9 754.9h0M475.9 756.9h0M475.9 759h0M475.9 761h0M505.8 646.6h0M505.8 649.5h0M505.8 666.6h0M505.8 669.2h0M505.8 671.9h0M505.8 674.5h0M505.8 683h0M505.8 685.1h0M505.8 687.1h0M505.8 689.2h0M505.8 691.2h0M505.8 693.3h0M505.8 695.3h0M505.8 697.4h0M505.8 699.4h0M505.8 701.5h0M505.8 703.6h0M505.8 705.6h0M505.8 707.7h0M505.8 709.7h0M505.8 711.8h0M505.8 713.8h0M505.8 715.9h0M505.8 717.9h0M505.8 720h0M505.8 726h0M505.8 728h0M505.8 730h0M505.8 732h0M505.8 734h0M505.8 736h0M505.8 738h0M505.8 740h0M505.8 742h0M505.8 744h0M505.8 746h0M505.8 748h0M505.8 750h0M505.8 752h0M505.8 754h0M505.8 756h0M505.8 758h0M505.8 760h0M505.8 762h0M505.8 764h0M505.8 766h0M505.8 768h0M505.8 770h0M535.7 740.6h0M535.7 742.6h0M535.7 744.6h0M535.7 746.6h0M535.7 748.6h0M535.7 750.6h0M535.7 752.6h0M535.7 754.6h0M535.7 756.6h0M535.7 758.6h0M535.7 760.6h0M535.7 762.6h0M535.7 764.6h0M565.6 757.6h0M565.6 760.1h0M565.6 762.6h0M565.6 784.6h0M565.6 786.7h0M565.6 788.8h0M565.6 791h0M565.6 793.1h0M565.6 795.2h0M565.6 797.3h0M565.6 799.5h0M565.6 801.6h0M565.6 803.7h0M595.5 728.8h0M595.5 730.9h0M595.5 733h0M595.5 735.1h0M595.5 737.2h0M595.5 739.3h0M595.5 741.4h0M595.5 743.5h0M595.5 749.4h0M595.5 751.4h0M595.5 753.4h0M595.5 755.4h0M595.5 757.5h0M595.5 759.5h0M595.5 761.5h0M595.5 763.5h0M595.5 765.5h0M595.5 767.5h0M595.5 769.5h0M595.5 771.5h0M595.5 773.6h0M595.5 775.6h0M595.5 777.6h0M595.5 779.6h0M625.4 768.5h0M625.4 770.7h0M625.4 772.9h0M625.4 800.8h0M625.4 803h0M625.4 805.1h0M625.4 807.3h0M625.4 809.5h0M625.4 811.7h0M625.4 813.8h0M625.4 816h0M655.3 743.5h0M655.3 746.4h0M655.3 759.6h0M655.3 761.6h0M655.3 763.6h0M655.3 765.6h0M655.3 767.6h0M655.3 769.7h0M655.3 771.7h0M655.3 773.7h0M655.3 775.7h0M655.3 777.7h0M655.3 779.7h0M655.3 781.7h0M655.3 783.7h0M655.3 785.7h0M655.3 787.8h0M655.3 789.8h0M655.3 791.8h0M655.3 793.8h0M655.3 795.8h0M685.2 604h0M685.2 606h0M685.2 608h0M685.2 610.1h0M685.2 612.1h0M685.2 614.1h0M685.2 616.1h0M685.2 618.2h0M685.2 620.2h0M685.2 622.2h0M685.2 624.2h0M685.2 626.2h0M685.2 628.3h0M685.2 630.3h0M685.2 632.3h0M685.2 634.3h0M685.2 636.3h0M685.2 638.4h0M685.2 640.4h0M685.2 642.4h0M685.2 644.4h0M685.2 646.5h0M685.2 648.5h0M685.2 650.5h0M685.2 652.5h0M685.2 654.5h0M685.2 656.6h0M685.2 658.6h0M685.2 660.6h0M685.2 662.6h0M685.2 664.7h0M685.2 666.7h0M685.2 668.7h0M685.2 670.7h0M685.2 672.7h0M685.2 674.8h0M685.2 676.8h0M685.2 678.8h0M685.2 680.8h0M685.2 682.8h0M685.2 684.9h0M685.2 686.9h0M685.2 688.9h0M685.2 690.9h0M685.2 693h0M685.2 695h0M685.2 697h0M685.2 699h0M685.2 701h0M685.2 703.1h0M685.2 705.1h0M685.2 707.1h0M685.2 709.1h0M685.2 711.2h0M685.2 713.2h0M685.2 715.2h0M685.2 717.2h0M685.2 719.2h0M685.2 721.3h0M685.2 723.3h0M685.2 725.3h0M685.2 727.3h0M685.2 729.3h0M685.2 731.4h0M685.2 733.4h0M685.2 735.4h0M685.2 737.4h0M685.2 739.5h0M685.2 741.5h0M685.2 743.5h0M715.1 768.5h0M715.1 770.8h0M715.1 773h0M715.1 784.6h0M715.1 786.8h0M715.1 789h0M745 758h0M745 760.3h0M745 762.6h0M745 770h0M745 772h0M745 774h0M745 776h0M745 778h0M745 780h0M745 782h0M745 784h0M745 786h0M745 790.5h0M745 792.5h0M745 794.5h0M745 796.5h0M745 798.5h0M745 800.6h0M745 802.6h0M745 804.6h0M745 806.6h0M774.9 730.9h0M774.9 732.9h0M774.9 734.9h0M774.9 736.9h0M774.9 739h0M774.9 741h0M774.9 743h0M774.9 745h0M774.9 752h0M774.9 754.1h0M774.9 756.1h0M774.9 758.2h0M774.9 760.2h0M774.9 762.3h0M774.9 764.4h0M774.9 766.4h0M774.9 768.5h0M774.9 773h0M774.9 775h0M774.9 777h0M774.9 779h0M774.9 781h0M774.9 783h0M774.9 785h0M774.9 787h0M774.9 789h0M774.9 791h0M774.9 793h0M774.9 795h0M774.9 797h0M774.9 799h0M774.9 801h0M774.9 803h0M774.9 805h0M774.9 807h0M774.9 809h0M774.9 811h0M804.8 786h0M804.8 788h0M804.8 790.1h0M804.8 792.1h0M804.8 794.2h0M804.8 796.2h0M804.8 798.3h0M804.8 800.4h0M804.8 802.4h0M804.8 804.5h0M804.8 806.5h0M804.8 808.5h0M804.8 810.6h0M804.8 812.6h0M804.8 814.7h0M804.8 816.8h0M804.8 818.8h0M804.8 820.9h0M804.8 822.9h0M804.8 825h0M804.8 827h0M834.7 755h0M834.7 757.3h0M834.7 759.6h0M834.7 767h0M834.7 769h0M834.7 771h0M834.7 773.1h0M834.7 775.1h0M834.7 777.1h0M834.7 779.1h0M834.7 781.2h0M834.7 783.2h0M834.7 785.2h0M834.7 787.2h0M834.7 789.3h0M834.7 791.3h0M834.7 793.3h0M834.7 795.3h0M834.7 797.4h0M834.7 799.4h0M834.7 801.4h0M834.7 803.4h0M834.7 805.5h0M834.7 807.5h0M834.7 809.5h0M834.7 811.5h0M834.7 813.6h0M834.7 815.6h0M834.7 817.6h0M834.7 819.6h0M834.7 821.7h0M834.7 823.7h0M834.7 825.7h0M864.6 758h0M864.6 760h0M864.6 762.1h0M864.6 764.1h0M864.6 766.2h0M864.6 768.2h0M864.6 770.2h0M864.6 772.3h0M864.6 774.3h0M864.6 776.3h0M864.6 778.4h0M864.6 780.4h0M864.6 782.5h0M864.6 784.5h0M864.6 786.5h0M864.6 788.6h0M864.6 790.6h0M864.6 792.6h0M864.6 794.7h0M864.6 796.7h0M864.6 798.8h0M864.6 800.8h0M894.5 703.3h0M894.5 706.8h0M894.5 759.6h0M894.5 761.6h0M894.5 763.6h0M894.5 765.6h0M894.5 767.6h0M894.5 769.6h0M894.5 771.6h0M894.5 773.6h0M894.5 775.7h0M894.5 777.7h0M894.5 779.7h0M894.5 781.7h0M894.5 783.7h0M894.5 785.7h0M894.5 787.7h0M894.5 789.7h0M894.5 791.7h0M894.5 793.7h0M894.5 795.7h0M894.5 797.7h0M894.5 799.7h0M894.5 801.7h0M894.5 803.7h0M894.5 805.8h0M894.5 807.8h0M894.5 809.8h0M894.5 811.8h0M894.5 813.8h0M894.5 815.8h0M894.5 817.8h0M894.5 819.8h0M924.4 761.4h0M924.4 763.9h0M924.4 766.4h0M924.4 781.7h0M924.4 783.7h0M924.4 785.7h0M924.4 787.7h0M924.4 789.7h0M924.4 791.7h0M924.4 793.7h0M924.4 795.7h0M924.4 797.7h0M924.4 799.7h0M924.4 801.7h0M924.4 803.7h0M924.4 805.8h0M924.4 807.8h0M924.4 809.8h0M924.4 811.8h0M924.4 813.8h0M924.4 815.8h0M924.4 817.8h0M924.4 819.8h0M924.4 821.8h0M924.4 823.8h0M924.4 825.8h0M924.4 827.8h0M954.3 714h0M954.3 716.1h0M954.3 718.2h0M954.3 720.2h0M954.3 722.3h0M954.3 724.4h0M954.3 737.6h0M954.3 739.7h0M954.3 741.9h0M954.3 744h0M954.3 746.2h0M954.3 748.3h0M954.3 750.5h0M954.3 752.6h0M954.3 754.8h0M954.3 756.9h0M954.3 759.1h0M954.3 761.2h0M954.3 763.4h0M954.3 765.5h0M954.3 767h0M954.3 769.1h0M954.3 771.1h0M954.3 773.2h0M954.3 775.2h0M954.3 777.3h0M954.3 779.3h0M954.3 781.4h0M954.3 783.4h0M954.3 785.5h0M954.3 787.5h0M954.3 789.6h0M954.3 791.6h0M954.3 793.7h0M954.3 795.7h0M954.3 797.8h0M954.3 799.9h0M954.3 801.9h0M954.3 804h0M954.3 806h0M954.3 808.1h0M954.3 810.1h0M954.3 812.2h0M954.3 814.2h0M954.3 816.3h0M954.3 818.3h0M954.3 820.4h0M954.3 822.4h0M954.3 824.5h0M954.3 826.5h0M954.3 828.6h0M984.2 690.7h0M984.2 692.7h0M984.2 694.7h0M984.2 696.8h0M984.2 698.8h0M984.2 700.8h0M984.2 702.8h0M984.2 704.8h0M984.2 706.8h0M984.2 708.9h0M984.2 710.9h0M984.2 712.9h0M984.2 714.9h0M984.2 716.9h0M984.2 719h0M984.2 721h0M984.2 723h0M984.2 725h0M984.2 727h0M984.2 729h0M984.2 731.1h0M984.2 733.1h0M984.2 735.1h0M984.2 737.1h0M984.2 739.1h0M984.2 741.1h0M984.2 743.2h0M984.2 745.2h0M984.2 747.2h0M984.2 749.2h0M984.2 751.2h0M984.2 753.3h0M984.2 755.3h0M984.2 757.3h0M984.2 759.3h0M984.2 761.3h0M984.2 763.3h0M984.2 765.4h0M984.2 767.4h0M984.2 769.4h0M984.2 771.4h0M984.2 773.4h0M984.2 775.5h0M984.2 777.5h0M984.2 779.5h0M984.2 781.5h0M984.2 783.5h0M984.2 785.5h0M984.2 787.6h0M984.2 789.6h0M984.2 791.6h0M984.2 793.6h0M984.2 795.6h0M984.2 797.6h0M984.2 799.7h0M984.2 801.7h0M984.2 803.7h0M1014.1 758h0M1014.1 760.3h0M1014.1 762.6h0M1014.1 775.8h0M1014.1 777.8h0M1014.1 779.9h0M1014.1 781.9h0M1014.1 783.9h0M1014.1 786h0M1014.1 788h0M1014.1 790h0M1014.1 792.1h0M1014.1 794.1h0M1014.1 796.1h0M1014.1 798.2h0M1014.1 800.2h0M1014.1 802.2h0M1014.1 804.2h0M1014.1 806.3h0M1014.1 808.3h0M1014.1 810.3h0M1014.1 812.4h0M1014.1 814.4h0M1014.1 816.4h0M1014.1 818.5h0M1014.1 820.5h0M1014.1 822.5h0M1014.1 824.6h0M1014.1 826.6h0M1044 761h0M1044 763h0M1044 765h0M1044 767h0M1044 769h0M1044 786h0M1044 788h0M1044 790.1h0M1044 792.1h0M1044 794.1h0M1044 796.1h0M1044 798.2h0M1044 800.2h0M1044 802.2h0M1044 804.3h0M1044 806.3h0M1044 808.3h0M1044 810.4h0M1044 812.4h0M1044 814.4h0M1044 816.5h0M1044 818.5h0M1044 820.5h0M1044 822.5h0M1044 824.6h0M1044 826.6h0M1073.9 615.8h0M1073.9 618h0M1073.9 620.2h0M1073.9 637.5h0M1073.9 640h0M1073.9 642.5h0M1073.9 645h0M1073.9 654h0M1073.9 656.1h0M1073.9 658.2h0M1073.9 660.3h0M1073.9 662.3h0M1073.9 664.4h0M1073.9 666.5h0M1073.9 668.6h0M1073.9 684.8h0M1073.9 686.8h0M1073.9 688.8h0M1073.9 690.8h0M1073.9 692.8h0M1073.9 694.8h0M1073.9 696.8h0M1073.9 698.8h0M1073.9 700.8h0M1073.9 702.8h0M1073.9 704.8h0M1073.9 706.8h0M1073.9 708.8h0M1073.9 710.8h0M1073.9 712.8h0M1073.9 714.8h0M1073.9 716.8h0M1073.9 718.8h0M1073.9 720.8h0M1073.9 722.8h0M1073.9 724.8h0M1073.9 726.8h0M1073.9 728.8h0M1073.9 730.8h0M1073.9 732.8h0M1073.9 734.8h0M1073.9 736.8h0M1073.9 738.8h0M1073.9 740.8h0M1073.9 742.8h0M1073.9 744.8h0M1073.9 746.8h0M1073.9 748.8h0M1073.9 750.8h0M1073.9 752.8h0M1073.9 754.8h0M1073.9 756.8h0M1073.9 758.8h0M1073.9 760.8h0M1073.9 762.8h0M1073.9 764.8h0M1073.9 766.8h0M1073.9 768.8h0M1073.9 770.8h0M1073.9 772.8h0M1073.9 774.8h0M1073.9 776.8h0M1073.9 778.8h0M1073.9 780.8h0M1073.9 782.8h0M1073.9 784.8h0M1073.9 786.8h0M1073.9 788.8h0M1073.9 790.8h0M1073.9 792.8h0M1073.9 794.8h0M1073.9 796.8h0M1073.9 798.8h0M1073.9 800.8h0M1073.9 802.8h0M1073.9 804.8h0M1073.9 806.8h0M1073.9 808.8h0M1073.9 810.8h0M1073.9 812.8h0M1073.9 814.8h0M1073.9 816.8h0M1073.9 818.8h0M1073.9 820.8h0M1073.9 822.8h0M1103.8 695.6h0M1103.8 698h0M1103.8 700.3h0M1103.8 709.7h0M1103.8 711.9h0M1103.8 714h0M1103.8 721h0M1103.8 723.3h0M1103.8 725.6h0M1103.8 728h0M1103.8 730.3h0M1103.8 737.6h0M1103.8 739.6h0M1103.8 741.7h0M1103.8 743.7h0M1103.8 745.8h0M1103.8 747.8h0M1103.8 749.8h0M1103.8 751.9h0M1103.8 753.9h0M1103.8 755.9h0M1103.8 758h0M1103.8 760h0M1103.8 762.1h0M1103.8 764.1h0M1103.8 766.1h0M1103.8 768.2h0M1103.8 770.2h0M1103.8 772.3h0M1103.8 774.3h0M1103.8 776.3h0M1103.8 778.4h0M1103.8 780.4h0M1103.8 782.5h0M1103.8 784.5h0M1103.8 786.5h0M1103.8 788.6h0M1103.8 790.6h0M1103.8 792.6h0M1103.8 794.7h0M1103.8 796.7h0M1103.8 798.8h0M1103.8 800.8h0M1103.8 802.8h0M1103.8 804.9h0M1103.8 806.9h0M1103.8 809h0M1103.8 811h0M1103.8 813h0M1103.8 815.1h0M1103.8 817.1h0M1103.8 819.2h0M1103.8 821.2h0M1103.8 823.2h0M1103.8 825.3h0M1103.8 827.3h0M1103.8 829.3h0M1103.8 831.4h0M1103.8 833.4h0M1103.8 835.5h0M1103.8 837.5h0M1133.7 761h0M1133.7 763.1h0M1133.7 765.2h0M1133.7 767.2h0M1133.7 769.3h0M1133.7 771.4h0M1133.7 773.5h0M1133.7 775.6h0M1133.7 777.7h0M1133.7 779.8h0M1133.7 781.8h0M1133.7 783.9h0M1133.7 786h0M1133.7 789h0M1133.7 791h0M1133.7 793.1h0M1133.7 795.1h0M1133.7 797.2h0M1133.7 799.2h0M1133.7 801.3h0M1133.7 803.3h0M1133.7 805.4h0M1133.7 807.4h0M1133.7 809.4h0M1133.7 811.5h0M1133.7 813.5h0M1133.7 815.6h0M1133.7 817.6h0M1133.7 819.7h0M1133.7 821.7h0M1133.7 823.8h0M1133.7 825.8h0M1133.7 827.8h0M1133.7 829.9h0M1133.7 831.9h0M1133.7 834h0M1133.7 836h0M1133.7 838.1h0M1133.7 840.1h0M1133.7 842.2h0M1133.7 844.2h0M1163.6 725.9h0M1163.6 728h0M1163.6 746.4h0M1163.6 748.5h0M1163.6 750.7h0M1163.6 752.9h0M1163.6 755h0M1163.6 759.6h0M1163.6 762.1h0M1163.6 764.5h0M1163.6 767h0M1163.6 781.7h0M1163.6 783.8h0M1163.6 785.8h0M1163.6 787.9h0M1163.6 789.9h0M1163.6 792h0M1163.6 794h0M1163.6 796.1h0M1163.6 798.1h0M1163.6 800.2h0M1163.6 802.2h0M1163.6 804.3h0M1163.6 806.4h0M1163.6 808.4h0M1163.6 810.5h0M1163.6 812.5h0M1163.6 814.6h0M1163.6 816.6h0M1163.6 818.7h0M1163.6 820.7h0M1163.6 822.8h0M1163.6 824.8h0M1163.6 826.9h0M1163.6 828.9h0M1163.6 831h0M1163.6 833.1h0M1163.6 835.1h0M1163.6 837.2h0M1163.6 839.2h0M1163.6 841.3h0M1163.6 843.3h0M1163.6 845.4h0M1163.6 847.4h0M1163.6 849.5h0M1163.6 851.5h0M1163.6 853.6h0" stroke="#333" stroke-width="5.3" stroke-linecap="round" fill="none"/>
<path d="M266.6 663h0M266.6 670.4h0M266.6 688.6h0M296.5 587.3h0M326.4 673.3h0M326.4 731h0M356.3 750.5h0M386.2 691.2h0M386.2 740.9h0M386.2 748h0M416.1 671.9h0M416.1 696.8h0M416.1 711.5h0M475.9 722.4h0M505.8 622.2h0M535.7 713.8h0M535.7 728.2h0M535.7 735.6h0M565.6 766.4h0M565.6 771.4h0M595.5 694.2h0M595.5 711.8h0M595.5 722.4h0M625.4 742.3h0M625.4 778.7h0M625.4 787h0M625.4 792.8h0M655.3 735.9h0M655.3 751.4h0M715.1 760.8h0M715.1 777.9h0M745 739.4h0M745 750.3h0M774.9 648.4h0M774.9 716.5h0M804.8 735.3h0M804.8 756.4h0M804.8 779.6h0M834.7 705h0M834.7 723.5h0M834.7 730.9h0M864.6 723.5h0M864.6 730.3h0M864.6 742.3h0M864.6 750.3h0M894.5 689.5h0M894.5 734.4h0M894.5 740h0M924.4 671h0M924.4 723h0M924.4 742.3h0M954.3 663.3h0M954.3 696.5h0M954.3 730.3h0M984.2 671h0M1014.1 767h0M1044 658h0M1044 721.5h0M1044 730.9h0M1073.9 591h0M1103.8 671h0M1133.7 672h0M1133.7 691.8h0M1133.7 704.7h0M1133.7 728.5h0M1133.7 738.5h0M1133.7 754h0M1163.6 652.5h0M1163.6 713h0M1163.6 738h0" stroke="#333" stroke-opacity="0.86" stroke-width="5.3" stroke-linecap="round" fill="none"/>
<rect x="225.4" y="702.4" width="22.6" height="103.3" fill="#E94849" stroke="#404040" stroke-width="1.05"/>
<path d="M225.4 759.4H248" stroke="#4d4d4d" stroke-width="1.3"/>
<rect x="255.3" y="779.3" width="22.6" height="49" fill="#5CB356" stroke="#404040" stroke-width="1.05"/>
<path d="M255.3 807.2H277.9" stroke="#4d4d4d" stroke-width="1.3"/>
<rect x="285.2" y="799.9" width="22.6" height="49.3" fill="#FCAEAD" stroke="#404040" stroke-width="1.05"/>
<path d="M285.2 832.5H307.8" stroke="#4d4d4d" stroke-width="1.3"/>
<rect x="315.1" y="821" width="22.6" height="29.4" fill="#5CB356" stroke="#404040" stroke-width="1.05"/>
<path d="M315.1 837.2H337.7" stroke="#4d4d4d" stroke-width="1.3"/>
<rect x="345" y="824.2" width="22.6" height="26.2" fill="#5CB356" stroke="#404040" stroke-width="1.05"/>
<path d="M345 837.2H367.6" stroke="#4d4d4d" stroke-width="1.3"/>
<rect x="374.9" y="825.4" width="22.6" height="25.3" fill="#5CB356" stroke="#404040" stroke-width="1.05"/>
<path d="M374.9 839.8H397.5" stroke="#4d4d4d" stroke-width="1.3"/>
<rect x="404.8" y="823" width="22.6" height="30" fill="#5CB356" stroke="#404040" stroke-width="1.05"/>
<path d="M404.8 841.3H427.4" stroke="#4d4d4d" stroke-width="1.3"/>
<rect x="434.7" y="824.2" width="22.6" height="31.5" fill="#FCAEAD" stroke="#404040" stroke-width="1.05"/>
<path d="M434.7 842.2H457.3" stroke="#4d4d4d" stroke-width="1.3"/>
<rect x="464.6" y="821" width="22.6" height="39.4" fill="#5CB356" stroke="#404040" stroke-width="1.05"/>
<path d="M464.6 843.3H487.2" stroke="#4d4d4d" stroke-width="1.3"/>
<rect x="494.5" y="822.2" width="22.6" height="35.2" fill="#5CB356" stroke="#404040" stroke-width="1.05"/>
<path d="M494.5 847.1H517.1" stroke="#4d4d4d" stroke-width="1.3"/>
<rect x="524.4" y="821.3" width="22.6" height="38.5" fill="#5CB356" stroke="#404040" stroke-width="1.05"/>
<path d="M524.4 847.1H547" stroke="#4d4d4d" stroke-width="1.3"/>
<rect x="554.3" y="835.4" width="22.6" height="21.7" fill="#E94849" stroke="#404040" stroke-width="1.05"/>
<path d="M554.3 847.4H576.9" stroke="#4d4d4d" stroke-width="1.3"/>
<rect x="584.2" y="827.5" width="22.6" height="31.7" fill="#5CB356" stroke="#404040" stroke-width="1.05"/>
<path d="M584.2 847.4H606.8" stroke="#4d4d4d" stroke-width="1.3"/>
<rect x="614.1" y="839.2" width="22.6" height="16.2" fill="#5CB356" stroke="#404040" stroke-width="1.05"/>
<path d="M614.1 847.7H636.7" stroke="#4d4d4d" stroke-width="1.3"/>
<rect x="644" y="834.5" width="22.6" height="26.7" fill="#E94849" stroke="#404040" stroke-width="1.05"/>
<path d="M644 849.2H666.6" stroke="#4d4d4d" stroke-width="1.3"/>
<rect x="673.9" y="810.7" width="22.6" height="46.4" fill="#E94849" stroke="#404040" stroke-width="1.05"/>
<path d="M673.9 850.1H696.5" stroke="#4d4d4d" stroke-width="1.3"/>
<rect x="703.8" y="833" width="22.6" height="29.4" fill="#E94849" stroke="#404040" stroke-width="1.05"/>
<path d="M703.8 851.2H726.4" stroke="#4d4d4d" stroke-width="1.3"/>
<rect x="733.7" y="838.9" width="22.6" height="22.3" fill="#5CB356" stroke="#404040" stroke-width="1.05"/>
<path d="M733.7 852.4H756.3" stroke="#4d4d4d" stroke-width="1.3"/>
<rect x="763.6" y="839.8" width="22.6" height="20" fill="#5CB356" stroke="#404040" stroke-width="1.05"/>
<path d="M763.6 853H786.2" stroke="#4d4d4d" stroke-width="1.3"/>
<rect x="793.5" y="846.3" width="22.6" height="13.5" fill="#5CB356" stroke="#404040" stroke-width="1.05"/>
<path d="M793.5 854.2H816.1" stroke="#4d4d4d" stroke-width="1.3"/>
<rect x="823.4" y="845.7" width="22.6" height="14.9" fill="#5CB356" stroke="#404040" stroke-width="1.05"/>
<path d="M823.4 853.9H846" stroke="#4d4d4d" stroke-width="1.3"/>
<rect x="853.3" y="841.6" width="22.6" height="27.3" fill="#5CB356" stroke="#404040" stroke-width="1.05"/>
<path d="M853.3 855H875.9" stroke="#4d4d4d" stroke-width="1.3"/>
<rect x="883.2" y="844.5" width="22.6" height="17.3" fill="#5CB356" stroke="#404040" stroke-width="1.05"/>
<path d="M883.2 855.7H905.8" stroke="#4d4d4d" stroke-width="1.3"/>
<rect x="913.1" y="849.2" width="22.6" height="15" fill="#5CB356" stroke="#404040" stroke-width="1.05"/>
<path d="M913.1 857.1H935.7" stroke="#4d4d4d" stroke-width="1.3"/>
<rect x="943" y="849.2" width="22.6" height="14.1" fill="#5CB356" stroke="#404040" stroke-width="1.05"/>
<path d="M943 857.7H965.6" stroke="#4d4d4d" stroke-width="1.3"/>
<rect x="972.9" y="839.5" width="22.6" height="24.7" fill="#5CB356" stroke="#404040" stroke-width="1.05"/>
<path d="M972.9 858H995.5" stroke="#4d4d4d" stroke-width="1.3"/>
<rect x="1002.8" y="848.6" width="22.6" height="16.4" fill="#FCAEAD" stroke="#404040" stroke-width="1.05"/>
<path d="M1002.8 858.9H1025.4" stroke="#4d4d4d" stroke-width="1.3"/>
<rect x="1032.7" y="848.6" width="22.6" height="16.4" fill="#B8D8E9" stroke="#404040" stroke-width="1.05"/>
<path d="M1032.7 859.2H1055.3" stroke="#4d4d4d" stroke-width="1.3"/>
<rect x="1062.6" y="846.6" width="22.6" height="16.4" fill="#4C93C3" stroke="#404040" stroke-width="1.05"/>
<path d="M1062.6 860.4H1085.2" stroke="#4d4d4d" stroke-width="1.3"/>
<rect x="1092.5" y="856" width="22.6" height="12.9" fill="#5CB356" stroke="#404040" stroke-width="1.05"/>
<path d="M1092.5 862.7H1115.1" stroke="#4d4d4d" stroke-width="1.3"/>
<rect x="1122.4" y="858.3" width="22.6" height="10.6" fill="#5CB356" stroke="#404040" stroke-width="1.05"/>
<path d="M1122.4 864.8H1145" stroke="#4d4d4d" stroke-width="1.3"/>
<rect x="1152.3" y="862" width="22.6" height="6.9" fill="#5CB356" stroke="#404040" stroke-width="1.05"/>
<path d="M1152.3 868.9H1174.9" stroke="#4d4d4d" stroke-width="1.3"/>
<text transform="translate(249.4 916.5) rotate(-45) scale(0.968 1)" font-size="25" text-anchor="end" fill="#FF0000">Bacteroides</text>
<text transform="translate(279.3 916.5) rotate(-45) scale(0.968 1)" font-size="25" text-anchor="end" fill="#FF0000">Faecalibacterium</text>
<text transform="translate(309.2 916.5) rotate(-45) scale(0.968 1)" font-size="25" text-anchor="end" fill="#FF0000">Enterobacteriaceae*</text>
<text transform="translate(339.1 916.5) rotate(-45) scale(0.968 1)" font-size="25" text-anchor="end" fill="#FF0000">Roseburia</text>
<text transform="translate(369 916.5) rotate(-45) scale(0.968 1)" font-size="25" text-anchor="end" fill="#FF0000">Ruminococcaceae+</text>
<text transform="translate(398.9 916.5) rotate(-45) scale(0.968 1)" font-size="25" text-anchor="end" fill="#FF0000">Lachnospiraceae*</text>
<text transform="translate(428.8 916.5) rotate(-45) scale(0.968 1)" font-size="25" text-anchor="end" fill="#FF0000">Ruminococcus</text>
<text transform="translate(458.7 916.5) rotate(-45) scale(0.968 1)" font-size="25" text-anchor="end" fill="#000">Ralstonia</text>
<text transform="translate(488.6 916.5) rotate(-45) scale(0.968 1)" font-size="25" text-anchor="end" fill="#FF0000">Ruminococcaceae*</text>
<text transform="translate(518.5 916.5) rotate(-45) scale(0.968 1)" font-size="25" text-anchor="end" fill="#000">Peptostreptococcaceae*</text>
<text transform="translate(548.4 916.5) rotate(-45) scale(0.968 1)" font-size="25" text-anchor="end" fill="#FF0000">Phascolarctobacterium</text>
<text transform="translate(578.3 916.5) rotate(-45) scale(0.968 1)" font-size="25" text-anchor="end" fill="#000">Parabacteroides</text>
<text transform="translate(608.2 916.5) rotate(-45) scale(0.968 1)" font-size="25" text-anchor="end" fill="#FF0000">Clostridiales*</text>
<text transform="translate(638.1 916.5) rotate(-45) scale(0.968 1)" font-size="25" text-anchor="end" fill="#FF0000">Oscillospira</text>
<text transform="translate(668 916.5) rotate(-45) scale(0.968 1)" font-size="25" text-anchor="end" fill="#000">Sediminibacterium</text>
<text transform="translate(697.9 916.5) rotate(-45) scale(0.968 1)" font-size="25" text-anchor="end" fill="#FF0000">Prevotella</text>
<text transform="translate(727.8 916.5) rotate(-45) scale(0.968 1)" font-size="25" text-anchor="end" fill="#000">Alistipes</text>
<text transform="translate(757.7 916.5) rotate(-45) scale(0.968 1)" font-size="25" text-anchor="end" fill="#FF0000">Coprococcus</text>
<text transform="translate(787.6 916.5) rotate(-45) scale(0.968 1)" font-size="25" text-anchor="end" fill="#FF0000">Clostridium</text>
<text transform="translate(817.5 916.5) rotate(-45) scale(0.968 1)" font-size="25" text-anchor="end" fill="#FF0000">Blautia</text>
<text transform="translate(847.4 916.5) rotate(-45) scale(0.968 1)" font-size="25" text-anchor="end" fill="#FF0000">[Ruminococcus]</text>
<text transform="translate(877.3 916.5) rotate(-45) scale(0.968 1)" font-size="25" text-anchor="end" fill="#FF0000">Gemmiger</text>
<text transform="translate(907.2 916.5) rotate(-45) scale(0.968 1)" font-size="25" text-anchor="end" fill="#FF0000">Erysipelotrichaceae*</text>
<text transform="translate(937.1 916.5) rotate(-45) scale(0.968 1)" font-size="25" text-anchor="end" fill="#FF0000">Lachnospira</text>
<text transform="translate(967 916.5) rotate(-45) scale(0.968 1)" font-size="25" text-anchor="end" fill="#FF0000">Streptococcus</text>
<text transform="translate(996.9 916.5) rotate(-45) scale(0.968 1)" font-size="25" text-anchor="end" fill="#FF0000">Dialister</text>
<text transform="translate(1026.8 916.5) rotate(-45) scale(0.968 1)" font-size="25" text-anchor="end" fill="#000">Sutterella</text>
<text transform="translate(1056.7 916.5) rotate(-45) scale(0.968 1)" font-size="25" text-anchor="end" fill="#FF0000">Bifidobacterium</text>
<text transform="translate(1086.6 916.5) rotate(-45) scale(0.968 1)" font-size="25" text-anchor="end" fill="#FF0000">Akkermansia</text>
<text transform="translate(1116.5 916.5) rotate(-45) scale(0.968 1)" font-size="25" text-anchor="end" fill="#000">Veillonella</text>
<text transform="translate(1146.4 916.5) rotate(-45) scale(0.968 1)" font-size="25" text-anchor="end" fill="#FF0000">Megamonas</text>
<text transform="translate(1176.3 916.5) rotate(-45) scale(0.968 1)" font-size="25" text-anchor="end" fill="#FF0000">Megasphaera</text>
<text transform="translate(1167 607.9) scale(0.966 1)" font-size="25.3" text-anchor="end">Non-pregnant women (n = 1,048)</text>
<text transform="translate(134.6 728) rotate(-90) scale(0.968 1)" font-size="25" text-anchor="middle">Relative Abundance</text>
<path d="M1282.7 318.1V354.3" stroke="#3a3a3a" stroke-width="1.1"/>
<rect x="1267.3" y="325.5" width="30.8" height="21.7" fill="#B8D8E9" stroke="#4d4d4d" stroke-width="1.1"/>
<path d="M1267.3 336.5H1298.1" stroke="#4d4d4d" stroke-width="1.3"/>
<text transform="translate(1316 347.6) scale(0.932 1)" font-size="24.2">Actinobacteria</text>
<path d="M1282.7 362.1V398.3" stroke="#3a3a3a" stroke-width="1.1"/>
<rect x="1267.3" y="369.5" width="30.8" height="21.7" fill="#E94849" stroke="#4d4d4d" stroke-width="1.1"/>
<path d="M1267.3 380.5H1298.1" stroke="#4d4d4d" stroke-width="1.3"/>
<text transform="translate(1316 391.6) scale(0.932 1)" font-size="24.2">Bacteroidetes</text>
<path d="M1282.7 406.2V442.4" stroke="#3a3a3a" stroke-width="1.1"/>
<rect x="1267.3" y="413.6" width="30.8" height="21.7" fill="#C1E5A1" stroke="#4d4d4d" stroke-width="1.1"/>
<path d="M1267.3 424.6H1298.1" stroke="#4d4d4d" stroke-width="1.3"/>
<text transform="translate(1316 435.7) scale(0.932 1)" font-size="24.2">Euryarchaeota</text>
<path d="M1282.7 450.2V486.4" stroke="#3a3a3a" stroke-width="1.1"/>
<rect x="1267.3" y="457.6" width="30.8" height="21.7" fill="#5CB356" stroke="#4d4d4d" stroke-width="1.1"/>
<path d="M1267.3 468.6H1298.1" stroke="#4d4d4d" stroke-width="1.3"/>
<text transform="translate(1316 479.7) scale(0.932 1)" font-size="24.2">Firmicutes</text>
<path d="M1282.7 494.3V530.5" stroke="#3a3a3a" stroke-width="1.1"/>
<rect x="1267.3" y="501.7" width="30.8" height="21.7" fill="#FCAEAD" stroke="#4d4d4d" stroke-width="1.1"/>
<path d="M1267.3 512.7H1298.1" stroke="#4d4d4d" stroke-width="1.3"/>
<text transform="translate(1316 523.8) scale(0.932 1)" font-size="24.2">Proteobacteria</text>
<path d="M1282.7 538.3V574.5" stroke="#3a3a3a" stroke-width="1.1"/>
<rect x="1267.3" y="545.7" width="30.8" height="21.7" fill="#4C93C3" stroke="#4d4d4d" stroke-width="1.1"/>
<path d="M1267.3 556.7H1298.1" stroke="#4d4d4d" stroke-width="1.3"/>
<text transform="translate(1316 567.8) scale(0.932 1)" font-size="24.2">Verrucomicrobia</text>
<text x="1.5" y="1194.7" font-size="36">b</text>
<path d="M56.3 1210.6V2007.9M173.3 1210.6V2007.9M289.8 1210.6V2007.9M406.8 1210.6V2007.9M523.8 1210.6V2007.9M640.3 1210.6V2007.9M757.3 1210.6V2007.9M0.6 1321.3H797.8M0.6 1441.7H797.8M0.6 1562H797.8M0.6 1682.4H797.8M0.6 1802.8H797.8M0.6 1924.1H797.8" stroke="#EBEBEB" stroke-width="1.2" fill="none"/>
<path d="M245.6 1539.7h0M151.3 1484.3h0M210.3 1578.3h0M351.9 1478.8h0M178.1 1492.7h0M264.7 1309.4h0M216.9 1426.2h0M163.3 1412.1h0M270 1470h0M61.5 1242.5h0M208.3 1495.7h0M349.2 1281.1h0M245.4 1388.7h0M214.5 1393.5h0M164.6 1409.7h0M256.9 1393.8h0M293.3 1498.2h0M138 1660.5h0M199.6 1444.3h0M167 1383.4h0M210.1 1421.9h0M354.5 1462.2h0M414.9 1549.3h0M175.4 1340.2h0M129 1443.7h0M241.6 1326.7h0M342.7 1378h0M290.9 1597.7h0M185.6 1377.6h0M139.2 1456.9h0M147.6 1433.7h0M180.1 1638.4h0M271 1361.8h0M204.5 1252.3h0M171 1449.6h0M168.1 1449.8h0M362.4 1494.8h0M318.1 1342.9h0M231.6 1364.5h0M377.3 1411.6h0M367.5 1595.5h0M297.8 1379.3h0M110 1272.9h0M212 1260h0M273 1493.1h0M193.2 1345.8h0M135.2 1362.6h0M117.9 1407.5h0M146.5 1514.1h0M253.2 1437.9h0M205.6 1585.9h0M228.3 1282.6h0M115.1 1366.9h0M397.7 1438.3h0M218.3 1525.8h0M55.8 1317.6h0M337.9 1548.7h0M155.8 1468h0M295.6 1434.2h0M239.5 1402.2h0M294.9 1393.2h0M346.8 1518.1h0M337.7 1565.8h0M194.1 1446.1h0M289.1 1383.9h0M293.8 1427.5h0M218.3 1403.3h0M120.7 1381.3h0M330.9 1285.3h0M329.6 1522.4h0M258.4 1464h0M175.1 1394.4h0M290 1506.7h0M321.1 1322.9h0M240.9 1432.8h0M250.8 1492.8h0M104.7 1402.2h0M208.9 1461.5h0M200.2 1392.2h0M227.9 1383.4h0M298 1475.4h0M264 1391.8h0M319.7 1270.8h0M219.2 1398.9h0M184.9 1471.3h0M260.1 1374h0" stroke="#FC8D62" stroke-width="8" stroke-linecap="round" fill="none"/>
<path d="M400.3 1689.5h0M567 1594.9h0M684.8 1565.1h0M592.2 1550h0M452 1656.6h0M327.3 1603.7h0M593.3 1592.7h0M598.9 1500.2h0M688.8 1415.7h0M463.8 1480.3h0M315.3 1493.4h0M379.5 1357h0M715.7 1417.4h0M679.6 1649.7h0M269.3 1633.4h0M451.6 1728.3h0M489.2 1595.2h0M612.6 1538h0M495.9 1619.6h0M479.1 1360.7h0M324.6 1529.2h0M570 1476.2h0M521.2 1416.1h0M350.5 1698.4h0M706.2 1500.1h0M532.8 1546.9h0M551.7 1584.3h0M462.3 1386.2h0M571.3 1639.9h0M541.5 1418.3h0M624 1556.7h0M693.7 1409.1h0M293.8 1623.6h0M537.4 1453.8h0M418.4 1654.9h0M425.4 1645h0M553.9 1723.2h0M588.5 1539.3h0M488.7 1640.5h0M585.6 1501.8h0M410.8 1613h0M288.3 1678.3h0M465.4 1345.5h0M478 1708.7h0M310.9 1541.7h0M557.1 1683.7h0M580.8 1669.3h0M582.7 1415.5h0M583.3 1466.6h0M589.5 1411.9h0M543.3 1717.3h0M337.2 1548.3h0M390 1631.4h0M698.9 1662.9h0M559.2 1586.6h0M344 1753.4h0M642.5 1517.9h0M324.4 1578.4h0M630.9 1612.6h0M503.5 1507.6h0M414.3 1611h0M616.4 1469.9h0M683 1465h0M538.2 1538.6h0M458.9 1561h0M403.5 1649.8h0M716.6 1493.5h0M478.3 1342h0M301 1674.3h0M592.6 1565.3h0M601.1 1572.6h0M432.7 1598h0M612.3 1546.7h0M407.9 1518h0M508.7 1474.6h0M485.7 1609.2h0M394.7 1637.1h0M631.9 1589.3h0M513.6 1490.1h0M681.1 1413.8h0M501.1 1375.8h0M532.2 1612.9h0M331 1484.2h0M605.5 1507.9h0M732.8 1553.7h0M569.6 1480.3h0M450 1795.9h0M496.5 1655.7h0M596 1470.9h0M702.2 1584.8h0M266.2 1483.2h0M573.1 1577.6h0M344.7 1493.6h0M538.6 1529.8h0M547.3 1588.9h0M358.3 1485.4h0M582 1452.9h0M471.3 1607.9h0M463.6 1562.1h0M329.7 1708.1h0M333.4 1539.4h0M334 1610.9h0M431.6 1370.1h0M519.2 1680.3h0M540.2 1650.9h0M631.9 1568.7h0M547.6 1529h0M435.8 1651.8h0M589.9 1630.3h0M543.2 1687.3h0M726 1475.8h0M725.5 1552.7h0M640.8 1489.3h0M677.1 1696.5h0M766.9 1434.8h0M422.9 1683.8h0M493.5 1437.3h0M510.3 1648.2h0M510.1 1508.9h0M463.9 1361.4h0M615.2 1520.2h0M526.9 1426.3h0M317.5 1613h0M655.5 1412.2h0M452.3 1635h0M416.6 1663.8h0M468 1645.4h0M339.8 1686.5h0M412.7 1463h0M325.9 1674.5h0M503.1 1537.1h0M417.2 1567.1h0M725.2 1619.9h0M518.9 1433h0M570.5 1684.3h0M660.6 1518.5h0M434.1 1646.6h0M553.4 1669.6h0M690.1 1617.9h0M591.1 1635h0M650.8 1647.2h0M449.4 1385h0M397.9 1665.7h0M545.9 1548.4h0M309.5 1691.2h0M506 1603.9h0M443.4 1629.8h0M602.6 1690.9h0M559.4 1524.5h0M510.9 1491.2h0M400 1686.8h0M605.4 1364.5h0M449.4 1562.4h0M705.2 1602.4h0M695.1 1482.4h0M328 1580.5h0M651.4 1586.7h0M360.9 1543.8h0M506.7 1618.4h0M674.2 1397.4h0M422.4 1804.6h0M321.9 1624.6h0M410.7 1583.6h0M625.7 1602.6h0M555.6 1545.5h0M773.3 1419h0M370.5 1652.1h0M586.9 1632.1h0M552.2 1692.7h0M468.2 1587.6h0M563.3 1659.3h0M374.3 1620.6h0M691.6 1474.5h0M436.3 1653.1h0M562.1 1394h0M439.2 1749.7h0M552.1 1727.6h0M510.8 1483.9h0M539.6 1619.6h0M656.7 1397.4h0M519.2 1556.9h0M624.3 1506.1h0M439 1608h0M522 1513.4h0M558.7 1560.1h0M647.6 1703.7h0M654.3 1463.5h0M507.2 1540h0M515.5 1676h0M286.7 1521.4h0M645.4 1473.4h0M545.4 1392.2h0M605.6 1487h0M483 1603.8h0M415.7 1533.7h0M356.2 1631.9h0M646.9 1480.2h0M704 1674.9h0M669.6 1516.8h0M730.9 1464h0M488.9 1690.3h0M412.4 1647h0M601.8 1445.6h0M479.6 1624.1h0M577.7 1545.8h0M506.3 1581.1h0M470.3 1663.8h0M486 1565.8h0M575.2 1360.5h0M434.4 1313.8h0M370.3 1579.9h0M639.9 1586h0M534.6 1462h0M621.8 1492.9h0M641.7 1489.3h0M636.1 1486.8h0M412.8 1624.5h0M365.4 1699.5h0M450.7 1628.8h0M332.8 1551.8h0M570.4 1533.8h0M743 1437.2h0M554.5 1473.8h0M563 1409.1h0M668.6 1523.5h0M303.2 1567.5h0M513.9 1338.5h0M615.2 1672h0M288.2 1496.5h0M656.2 1618.3h0M530.5 1692.4h0M337.9 1627.1h0M561.4 1538.1h0M415.9 1356.5h0M507.6 1679.6h0M376.8 1619.7h0M526.7 1686.7h0M527 1595.4h0M431.7 1707.2h0M754.6 1595.9h0M493.5 1521h0M392.1 1503.2h0M475.2 1526.8h0M578 1647.8h0M696.2 1484.6h0M597.8 1446.3h0M585.3 1608.9h0M586 1561.1h0M505.7 1702h0M619 1593.6h0M545.1 1560h0M646.9 1569.1h0M673.1 1456.8h0M601.3 1564.2h0" stroke="#66C2A5" stroke-width="8" stroke-linecap="round" fill="none"/>
<path d="M103.3 1697.8h0M114.7 1805.1h0M350.8 1772.9h0M114.2 1882.4h0M241.1 1913h0M194.1 1704.3h0M211.5 1822.2h0M165.6 1764.7h0M249.3 1911.5h0M138.8 1848h0M156.3 1870.8h0M191.1 1715.6h0M187 1865.3h0M103.2 1772.9h0M169 1959.4h0M301.7 1816.5h0M203.3 1840.7h0M229.3 1817.5h0M267.9 1829.6h0M173.6 1804.1h0M209.8 1831.6h0M119.8 1800.8h0M126.7 1699.5h0M290.9 1885.7h0M270.7 1922.2h0M206.2 1828.6h0M230.3 1867.3h0M175.1 1864.4h0M235.2 1833.6h0M261.5 1795.3h0M381 1762.6h0M80.5 1664.2h0M133.8 1940.7h0M173.5 1654h0M313.3 1924.9h0M129.9 1714.4h0M164.6 1761.4h0M163.9 1778.9h0M272.9 1814.5h0M142.7 1647.3h0M263.6 1850h0M211.7 1950.5h0" stroke="#8DA0CB" stroke-width="8" stroke-linecap="round" fill="none"/>
<path d="M202.3 1442.3h0M320.9 1546.9h0M164.1 1382.8h0M305 1600.4h0M368.8 1283.7h0M330.4 1485.6h0M172.3 1241.8h0M353.8 1520.7h0M123.1 1536.8h0M294 1446.4h0M109.8 1448.6h0M254.3 1372.8h0M159 1387.7h0M132.8 1373.4h0M344.2 1595.9h0M151.5 1421.1h0M168.5 1390h0M173.7 1407.5h0M233.2 1306.5h0M244.5 1460.3h0M267.4 1373.2h0M277.1 1418.7h0M229.7 1432.6h0M200.9 1400.5h0M250.9 1461.4h0M250.6 1478.5h0M244.8 1331.5h0M168.3 1459.6h0M247.8 1492.1h0M337 1568.2h0M299.6 1511.2h0M309 1236h0M164.9 1343.9h0M111.4 1403.8h0M108.8 1402.9h0M154.1 1360.2h0M188.8 1532.8h0M147.9 1350.1h0M332.9 1411.8h0M311 1513.3h0M316 1325.5h0M228.8 1444h0M305.1 1534.2h0M223.8 1471.9h0M168.1 1475.4h0M251 1396h0M186.7 1435.5h0M216.9 1428h0M314 1579h0M353.6 1520.3h0M337.4 1467.1h0M375 1533.6h0M172.2 1387.2h0M243.6 1409.1h0M197.3 1380.4h0M422.5 1545h0M253.8 1489.1h0M240.9 1395h0M381.9 1281.9h0M224.9 1464.4h0M228 1329.7h0M161.2 1478.1h0M229.5 1353.4h0M137.6 1415h0M284.3 1473.7h0M316 1558.5h0M178.9 1367h0M233.7 1345.3h0M302.3 1490.2h0M266.3 1519.5h0M253.3 1403.5h0M118.5 1392.6h0M291.7 1531.8h0M216.5 1449.1h0M161.8 1411.9h0M276.9 1392.6h0M208.1 1366.1h0M155 1512.7h0M98 1638h0M171.7 1496h0M364.7 1505.3h0M312.9 1313.6h0M200.8 1356.9h0M290.3 1626.5h0M246.5 1406.1h0M351.3 1445.4h0M212 1457.5h0M95.5 1365.7h0M183.5 1443.1h0M175.7 1430.6h0M160.4 1368.5h0M246.8 1450.7h0M279.8 1453.2h0M349.9 1571.4h0M208.8 1411h0M315.4 1421.2h0M235 1462.6h0M363.8 1479h0M221.5 1424.1h0M167 1539.1h0M147.1 1457.9h0M291.9 1334.3h0M329.7 1469.7h0M148.9 1556.1h0M273.2 1259.9h0M311.6 1395.9h0M269.3 1346.7h0M238.7 1403.2h0M225 1394.9h0" stroke="#FC8D62" stroke-width="8" stroke-linecap="round" fill="none"/>
<path d="M451.5 1756.4h0M508.1 1302.7h0M407.1 1524.4h0M537.6 1403.3h0M407.6 1655.3h0M589.2 1520h0M310.9 1525.5h0M505.8 1628.8h0M614.3 1447.4h0M378.7 1577.9h0M617 1725.9h0M605.8 1658.5h0M674 1545.8h0M413.2 1606.1h0M707.8 1622.8h0M381.6 1628.4h0M579 1607.3h0M397.3 1655.4h0M446.2 1675.8h0M359.7 1660.2h0M362.3 1583.1h0M559.9 1676.5h0M588.1 1589.4h0M614.9 1531.1h0M459 1625.4h0M516.9 1637.8h0M474.7 1298.8h0M499.8 1467.4h0M688.1 1459h0M591 1436.2h0M365.7 1616.6h0M378.4 1527.9h0M493.7 1675.2h0M628.8 1498.5h0M592.5 1657.8h0M303.3 1571.6h0M547.2 1664.1h0M549.1 1623.8h0M574.2 1489.2h0M488.2 1595.6h0M377 1602.1h0M436.3 1704.3h0M501 1577.5h0M652.6 1464.1h0M367.7 1651.9h0M498.8 1530h0M659.4 1582.4h0M606 1524.6h0M617.1 1501.7h0M686.5 1461.4h0M631.5 1408.7h0M553.7 1594.3h0M605.4 1481.2h0M480.9 1614.2h0M372.6 1625h0M595.4 1747.5h0M599.2 1627.7h0M448.1 1731.1h0M310.8 1492h0M655 1406.1h0M652.7 1512.3h0M410.2 1583h0M393.7 1615.3h0M431.3 1630.8h0M562.7 1636h0M303.4 1753.3h0M580.6 1709.3h0M568 1576.5h0M405.9 1715.4h0M687.2 1677.5h0M728.8 1565.3h0M641.2 1511.6h0M574.6 1693h0M392.1 1561.4h0M550.2 1571.9h0M299.9 1544.2h0M559.6 1711.8h0M698.3 1508.3h0M673.2 1661.2h0M493 1629.8h0M439.5 1515.7h0M541 1448.9h0M630.1 1637.2h0M669 1493.7h0M652.5 1472.2h0M546.2 1689.5h0M533.9 1434.6h0M579.9 1484.9h0M585.3 1465.8h0M464.5 1620.6h0M443.2 1687.4h0M759.2 1437h0M594.9 1618.5h0M490.2 1567.9h0M510.3 1524.1h0M584.8 1599.8h0M282.3 1611.6h0M764.1 1488.1h0M235.3 1605.1h0M700.8 1591.1h0M630.6 1503.7h0M350.8 1556.8h0M587.1 1503.2h0M431.1 1694.3h0M767.5 1565.7h0M371 1437.7h0M292.4 1540.2h0M681 1485.6h0M535.3 1544.8h0M485.9 1677.3h0M674.2 1469.9h0M421.9 1644.3h0M575.1 1716.4h0M525 1572.9h0M259.7 1557.3h0M460.1 1308.2h0M451 1674.6h0M716.9 1522.7h0M293 1641.4h0M675.5 1712.2h0M459.7 1588.6h0M500.3 1622.5h0M684.8 1630.3h0M778 1430.5h0M348.6 1606.2h0M662 1622.8h0M607.7 1680h0M567.7 1491.4h0M462 1628.2h0M532.3 1642.1h0M565.3 1730.8h0M630.6 1574.4h0M608.5 1580.1h0M286.8 1553h0M557.5 1607h0M575.5 1305.9h0M674.2 1455.1h0M333.8 1473.4h0M677.9 1427.4h0M592.7 1633.1h0M684.2 1366.4h0M378.6 1568h0M426.1 1614.1h0M458.1 1676.7h0M560.9 1534.9h0M517.5 1631.3h0M527.1 1683.9h0M677.2 1631.3h0M648.7 1513.1h0M571.5 1565.5h0M622.6 1459h0M718.7 1462.7h0M544.2 1575.7h0M624 1527.2h0M557.4 1632.4h0M317.3 1728.5h0M475 1448.1h0M385 1709.6h0M719.1 1603.6h0M682.9 1770.6h0M471 1385.8h0M706.4 1570.8h0M657.7 1452.7h0M540.7 1571.6h0M574.2 1348.7h0M585.9 1672.2h0M511.2 1552.2h0M590.1 1529.2h0M659.1 1482.4h0M303.8 1666.8h0M361 1654.1h0M577.9 1666.9h0M758.7 1452.7h0M400.9 1660.3h0M467.3 1596.4h0M450.3 1709h0M601.6 1617.4h0M601.3 1577.8h0M561 1457.4h0M548.3 1431.9h0M496.5 1627.4h0M345.5 1543.9h0M565.6 1680.7h0M645.5 1559.7h0M465.2 1549.8h0M610.5 1645.7h0M551 1669.4h0M613.9 1573.1h0M447.7 1500.3h0M644.1 1479.6h0M462.9 1599.9h0M722.4 1618.6h0M450.1 1677.4h0M719 1492.5h0M362.6 1591.4h0M579.1 1339.6h0M325.4 1491.7h0M419.3 1754h0M529.1 1699.2h0M522.7 1637.4h0M526.8 1475.7h0M681.2 1620.9h0M358.7 1634.5h0M506.8 1603.5h0M577.9 1519.7h0M640.3 1540.7h0M567.3 1381.9h0M494.9 1538.1h0M573.2 1481.6h0M615.1 1554.1h0M544.6 1707.9h0M510 1580.3h0M546.1 1658.6h0M542.5 1532.4h0M745 1552.5h0M285.1 1454.2h0M525.7 1596.5h0M267.7 1589.1h0M287.3 1641.8h0M632.2 1509.6h0M388.5 1644.7h0M485.5 1586h0M472.8 1507.5h0M613.2 1447.3h0M293.5 1534.8h0M610.5 1448.6h0M297.7 1555.2h0M550.3 1523.2h0M632.4 1513.2h0M467 1509.9h0M674.3 1651h0M482 1644.7h0" stroke="#66C2A5" stroke-width="8" stroke-linecap="round" fill="none"/>
<path d="M248.5 1968.2h0M174.4 1824.6h0M198.9 1874.9h0M340.7 1780.2h0M217.5 1969.1h0M16.5 1900.5h0M253.7 1794.7h0M216.4 1849h0M199.9 1930.4h0M265.8 1795.8h0M174.4 1805.1h0M160.8 1829.7h0M212.9 1839.9h0M215.9 1809.4h0M129 1893.1h0M217.6 1955.4h0M84.4 1637.9h0M85 1653.1h0M387.5 1984.3h0M194.6 1737.3h0M58.5 1610.5h0M80 1809.3h0M101.5 1886.6h0M30.5 1942h0M174.6 1833.6h0M304.5 1761.3h0M297.3 1833.7h0M292.7 1942.2h0M137.8 1967.9h0M302.4 1898.3h0M258.3 1763.3h0M368.5 1771.2h0M119 1625.4h0M276.3 1881.7h0M242.3 1918.4h0M300.8 1904h0M200.2 1866.3h0M119.1 1824.1h0M118.7 1917.3h0M277.2 1774.7h0M188.7 1611.5h0" stroke="#8DA0CB" stroke-width="8" stroke-linecap="round" fill="none"/>
<path d="M170.4 1265.4h0M315.6 1537.2h0M220.1 1486h0M56.3 1656.5h0M345.6 1525.5h0M129.6 1419.1h0M201.5 1601h0M206.4 1235.2h0M319.6 1519.6h0M260.1 1614.6h0M323.1 1539.8h0M214.4 1386.3h0M225.1 1399.7h0M298.1 1540.2h0M301.7 1426.5h0M142.8 1383.7h0M202.5 1425.4h0M265.6 1561.1h0M206.5 1319.6h0M266.8 1284.7h0M305.4 1429.6h0M160 1317h0M295.4 1590.7h0M386.9 1520.1h0M444.2 1254.3h0M128.2 1655.6h0M169.3 1352.5h0M248.1 1551.2h0M108.3 1419.3h0M333.1 1510.9h0M198.2 1490.4h0M298.3 1428.3h0M184.5 1358.9h0M131.6 1660.1h0M240.7 1480h0M241.5 1497.2h0M250.9 1462.6h0M318.2 1562.7h0M354 1304.2h0M293.1 1591.2h0M295.5 1446.1h0M207.4 1433.4h0M215.4 1441.5h0M296.1 1393.7h0M322.6 1235.1h0M210.5 1474.9h0M181.2 1456.6h0M201.3 1376.6h0M249 1614.4h0M183.5 1361.4h0M145.9 1611.6h0M267.7 1312.9h0M217.9 1465.4h0M147 1360.5h0M157.9 1345.5h0M283.7 1444.7h0M284.9 1612.9h0M283.9 1457.7h0M334.2 1355.4h0M154.7 1288.8h0M319.1 1563.4h0M277 1469.4h0M328 1537.1h0M171 1393.1h0M107.8 1448.2h0M288.3 1500.7h0M386.4 1485h0M280.3 1372.3h0M309.9 1611.8h0M219.2 1463.8h0M337.4 1433h0M190.2 1239.2h0M92.6 1431.6h0M279.2 1395.5h0M272.5 1416.1h0M317.3 1282h0M209 1430.6h0M190.1 1491h0M375 1489.9h0M209.4 1377.2h0M301 1564.7h0M192.4 1258.2h0M260.7 1493.9h0M226.2 1511.5h0M140.1 1469.9h0M217.4 1507.9h0M254.2 1494.5h0M293.3 1431.4h0M264.9 1354.2h0M165.1 1364h0M191.2 1407.9h0M161.7 1430.4h0M189.2 1399.4h0M140.5 1413.7h0M235.4 1444.2h0M290.3 1423.9h0M185 1425.2h0M167.6 1417.3h0M286.3 1474.8h0M297.4 1513.4h0M281.7 1425.7h0M181.3 1498.6h0M295.8 1477.6h0M241.8 1325.1h0M300.8 1464.9h0M108.5 1279.6h0" stroke="#FC8D62" stroke-width="8" stroke-linecap="round" fill="none"/>
<path d="M411.7 1612.1h0M535.4 1602.8h0M377.4 1310.2h0M363.8 1536.6h0M398.2 1605h0M499.9 1649.9h0M496.4 1364h0M297.5 1652.7h0M623.5 1423.6h0M588.3 1463.5h0M567.3 1427.6h0M491.5 1361.1h0M489.7 1654.3h0M525.8 1552.7h0M485.7 1614.9h0M669.5 1647.5h0M706.6 1630.7h0M326.1 1544.5h0M636.3 1532.2h0M342.6 1665.6h0M535.6 1476.5h0M543.8 1299.1h0M535.9 1313.4h0M608.9 1408.5h0M547.7 1628h0M693.4 1436.6h0M423.7 1745.5h0M617.4 1624.9h0M416.4 1636.3h0M491.3 1554.5h0M476.1 1685.8h0M591.2 1572.6h0M638.3 1570.9h0M326 1496.2h0M275.6 1734.8h0M728.8 1401.2h0M534.7 1583.8h0M426 1633h0M567.3 1565.3h0M645.6 1381.6h0M666.1 1699.7h0M603.1 1489.9h0M392.5 1590.1h0M644.3 1622.1h0M391.5 1670.5h0M585.6 1553.3h0M601.6 1611.3h0M657.4 1659.4h0M476.7 1369.7h0M547.2 1614.6h0M586.8 1668.2h0M613.4 1632.8h0M656.3 1545.2h0M527.9 1610.8h0M544.8 1512.3h0M617.7 1395h0M566.3 1562.7h0M509.3 1422h0M633.5 1650.3h0M487.6 1735.6h0M455.9 1317.5h0M406.2 1625.9h0M620.8 1388.5h0M522 1573h0M629.1 1356.3h0M490.6 1697.4h0M554.9 1498.5h0M405.8 1692.9h0M462.2 1679.3h0M549.7 1613.6h0M484.3 1561.7h0M656.4 1488.2h0M402.4 1709.5h0M723.9 1637.2h0M557.7 1493h0M559.9 1698.8h0M386.6 1658.4h0M630.2 1412.5h0M478.8 1585.2h0M708.1 1566.2h0M635.6 1587.8h0M346 1518.7h0M658.4 1514.9h0M362.5 1537.4h0M564.2 1666h0M518.8 1610.2h0M653.8 1495h0M360.1 1589.1h0M611.2 1458.4h0M420.4 1644.4h0M497.2 1654.7h0M571.4 1486.6h0M376.5 1610.9h0M736 1509.3h0M508.9 1595.3h0M475.6 1557.9h0M484.4 1556.8h0M613 1416.9h0M529.5 1481.3h0M386.4 1661h0M566.5 1589.7h0M647.1 1441.2h0M468.8 1532h0M540.3 1385.2h0M343.9 1611.9h0M244 1594.7h0M431.4 1728.6h0M376.2 1579.2h0M489.5 1640h0M272 1618.4h0M550 1663.8h0M548.5 1432.4h0M590.7 1523h0M531.1 1420.1h0M516.8 1484.6h0M402.7 1676.4h0M682.3 1432.5h0M285.2 1654.3h0M569.1 1639.4h0M495.6 1623.7h0M569.8 1682.1h0M578.3 1431.8h0M582.5 1419h0M574.7 1615.5h0M279.7 1559.2h0M388.5 1716h0M554.2 1712.7h0M516.8 1643.6h0M580 1702.4h0M364.2 1739.8h0M590.9 1607.4h0M450.6 1548.5h0M774.5 1445.5h0M548.6 1392.5h0M693 1492.3h0M608.4 1620.8h0M571 1629.7h0M426.8 1651.6h0M491.3 1572.1h0M658.8 1508.6h0M568.8 1686.9h0M650.3 1573.9h0M741.8 1489.7h0M602.6 1387.5h0M560.7 1616.2h0M769.9 1424.9h0M540.6 1564.3h0M532.9 1597.8h0M408.6 1683.5h0M529.2 1532h0M708.3 1491.3h0M266.1 1627.5h0M405.7 1662.5h0M662.8 1416.2h0M567.9 1569.9h0M623.6 1635.8h0M612.6 1437.7h0M764.9 1543.5h0M575.3 1534.3h0M640.9 1379.2h0M567.6 1480.8h0M493.1 1758.2h0M539.9 1654.7h0M383.4 1619.6h0M535.9 1510.4h0M605.3 1481.8h0M468 1305.1h0M372.1 1479.1h0M506.4 1637.1h0M488.4 1538.9h0M605.6 1692.1h0M549.2 1455.1h0M525.3 1413h0M466.4 1456.8h0M602.6 1579.6h0M450 1707.4h0M492.3 1648.5h0M397.4 1715.9h0M535.3 1408.1h0M396.6 1628.5h0M447.7 1579.9h0M490.1 1715.3h0M594.3 1618.2h0M416.5 1694.8h0M551.1 1539.6h0M358 1515.4h0M437.7 1606.4h0M493.9 1379.1h0M513.8 1704.6h0M687.4 1435.4h0M610 1651.4h0M396.8 1633h0M743.8 1428.5h0M670.6 1483.3h0M681 1477.1h0M643.7 1461.7h0M714.4 1524.1h0M602.3 1716.5h0M498 1524.2h0M492 1692.7h0M336.5 1571.5h0M370.6 1616.9h0M573.4 1524.7h0M375.2 1529.8h0M607.7 1567.6h0M532.9 1502.3h0M438.6 1323.4h0M525.9 1571.5h0M399.1 1615.9h0M624 1643.7h0M455.8 1579.7h0M545.4 1591.3h0M691.3 1384.5h0M550.6 1511h0M446.2 1779.5h0M703.3 1457.3h0M600.5 1655.8h0M481.8 1647.9h0M535.5 1534.3h0M636.6 1610.9h0M453 1647.6h0M612.4 1529.4h0M482.2 1703.3h0M599.2 1590.8h0M663.4 1624.5h0M501.7 1642.3h0M395.8 1459.1h0M407.4 1599.4h0M692 1650.1h0M532.1 1676.8h0M682 1516.2h0M449.3 1644.9h0M510.9 1633.8h0M535.5 1375.4h0M403 1689.3h0M684.7 1652.7h0M553.3 1384.2h0M569.1 1425.3h0M520.2 1511.2h0M389.7 1654.5h0M499.2 1598.6h0M377.8 1643.5h0" stroke="#66C2A5" stroke-width="8" stroke-linecap="round" fill="none"/>
<path d="M277.7 1838h0M229 1662.1h0M280 1970.2h0M73 1657.1h0M226.8 1914.2h0M83.3 1605.6h0M204.1 1929.1h0M133.2 1771.8h0M51.8 1780.4h0M265.6 1849.2h0M200.6 1773.9h0M353.3 1770.4h0M247.3 1935h0M346.7 1947.8h0M186.6 1879.4h0M313.8 1914.1h0M250.3 1925.2h0M208.2 1909.4h0M211.7 1894.5h0M282.9 1846.8h0M182.6 1805.1h0M82.1 1642.1h0M211.8 1787.7h0M158.1 1821.9h0M154.3 1934.3h0M239.4 1905.2h0M363.3 1797.2h0M298.4 1829.4h0M154.1 1723.6h0M176.7 1830.8h0M170.3 1862.3h0M275.9 1855.2h0M220.2 1885.4h0M143 1741h0" stroke="#8DA0CB" stroke-width="8" stroke-linecap="round" fill="none"/>
<path d="M148.5 1489h0M202.9 1385.5h0M326.5 1253.3h0M204.1 1434.4h0M305.7 1458.6h0M218.1 1318.7h0M229.7 1299.4h0M112.8 1339.7h0M139.8 1610.7h0M213.2 1470.6h0M396.7 1535.9h0M419.7 1563.9h0M196.7 1684.5h0M306.6 1410h0M155.5 1355.1h0M302.9 1553.6h0M292.6 1460.2h0M121.4 1397.8h0M299.6 1569.4h0M189.3 1375.6h0M372.7 1534.2h0M385.9 1321.9h0M128.9 1432.9h0M152.2 1409.5h0M257.2 1471.1h0M97 1347.7h0M391.5 1245.2h0M216 1338.6h0M205.4 1476h0M294.4 1622.7h0M166.6 1519.3h0M188.9 1398.8h0M267.5 1512.6h0M298.4 1558h0M194.6 1362.1h0M222.3 1439.7h0M192.8 1585.5h0M261 1358.5h0M203.9 1638.6h0M317.7 1554.6h0M239.9 1664.7h0M137.8 1396.7h0M311 1480.6h0M310.6 1456.2h0M156.3 1410.3h0M253.3 1444h0M237.6 1465.1h0M222.4 1454.1h0M185.3 1370.3h0M274.6 1509.7h0M296.3 1614.9h0M253.5 1506.8h0M234.6 1621.2h0M311.1 1581.1h0M78.7 1443h0M182.6 1338.5h0M189.6 1385.9h0M292.4 1437.4h0M178.1 1401.4h0M189.8 1396.8h0M164.9 1442.3h0M211 1643.3h0M316 1261.3h0M318.9 1578.1h0M308.3 1428.2h0M169.7 1365h0M154.3 1296.3h0M226.7 1482.6h0M206.9 1433.9h0M256.9 1442h0M228.1 1680.1h0M334.8 1266.8h0M95.3 1623.2h0M198.2 1239h0M134.3 1461h0M203.1 1394.3h0M349.2 1545.5h0M225.4 1422.8h0M90.5 1347.1h0M230 1467h0M133 1382h0" stroke="#FC8D62" stroke-width="8" stroke-linecap="round" fill="none"/>
<path d="M391.5 1553.3h0M487 1447.5h0M428 1312.8h0M486.5 1580.5h0M331.5 1709.7h0M548.5 1603.1h0M428.9 1619.3h0M302.4 1683.9h0M282.3 1531.4h0M627.6 1653.6h0M408 1714.4h0M550.7 1477.8h0M449.9 1661.3h0M676.2 1602.4h0M525.6 1772.6h0M618.3 1451.3h0M331.7 1592.8h0M613.2 1638.1h0M437.2 1613.5h0M489.5 1615.4h0M306.6 1451.7h0M383.6 1625.8h0M365 1698.2h0M375.7 1778.1h0M534.4 1709.3h0M520.3 1504.1h0M398 1726.1h0M554 1673h0M599.1 1705.5h0M595.8 1627.7h0M336.8 1712.5h0M552.6 1607.6h0M539.8 1737.5h0M334.4 1510.5h0M479.1 1635.4h0M459.4 1722.2h0M381.8 1612.4h0M626.3 1553.7h0M435.2 1569.4h0M619.1 1681.8h0M528.9 1404h0M542.2 1577.2h0M754.4 1517.3h0M298.2 1517.3h0M587.7 1642.1h0M469.4 1399.6h0M698.7 1634.5h0M490.1 1521.8h0M400.7 1431.3h0M558.2 1527.9h0M553 1508.3h0M482.9 1468.4h0M326.6 1500.1h0M459.3 1637h0M470.1 1586.6h0M517.8 1541.2h0M622.7 1590.8h0M582.2 1725.5h0M656.5 1511.5h0M422.8 1377h0M593.2 1553.8h0M565 1587.7h0M604.2 1664.1h0M300.4 1627.3h0M435.7 1476h0M294.9 1614.9h0M671.1 1518.8h0M279.8 1538.6h0M320.5 1463.8h0M482.4 1601.8h0M631.2 1557.6h0M550.5 1514.2h0M642.3 1588h0M676.5 1443.1h0M642.3 1477.8h0M662.1 1529.8h0M446.8 1582.2h0M424.2 1662.1h0M330 1777.5h0M592.1 1645.5h0M483 1629.8h0M540.5 1656.2h0M491.5 1611.7h0M292 1475.9h0M307.7 1500.3h0M448.2 1751.1h0M539.7 1509.2h0M572.4 1597.4h0M598.5 1463.8h0M706.8 1471.7h0M529.1 1549h0M346.8 1674.5h0M601.6 1515.6h0M330.2 1482.7h0M633.2 1518.7h0M494.7 1675.5h0M473.6 1683.7h0M678.2 1635.5h0M390.6 1685.5h0M700.7 1483.7h0M496.8 1354.7h0M544 1612.5h0M379.7 1643.2h0M594.9 1587.2h0M668.1 1406.3h0M419.9 1660.4h0M500.6 1429.2h0M596.6 1496.1h0M516.6 1623.3h0M371.1 1629.4h0M707.5 1499.3h0M485.9 1755.1h0M427.8 1598h0M354.7 1501.9h0M325.5 1607.8h0M591.6 1515.1h0M573.1 1554.7h0M538.4 1403.5h0M526.4 1445.9h0M388.9 1682.1h0M523.2 1706.2h0M282.3 1495.6h0M763.4 1648.3h0M554.2 1482.4h0M486.9 1690.8h0M603.5 1499.2h0M537 1658.9h0M628.3 1613.8h0M586.3 1639.3h0M458.7 1660.6h0M605.8 1605.4h0M357.8 1692.4h0M318.3 1663.7h0M504.5 1582.3h0M534.3 1386h0M550.7 1407.8h0M298.7 1498.3h0M590.5 1636.7h0M520.5 1763.6h0M617.2 1657.3h0M634.8 1541.4h0M334.2 1698.4h0M467.3 1630h0M507.1 1782.2h0M635.8 1453.9h0M646.9 1626.8h0M488.5 1539h0M717.1 1541.8h0M588.4 1536.9h0M596.1 1552.8h0M319.8 1580.4h0M725.5 1468.3h0M568.2 1584.8h0M590.5 1702.6h0M706.4 1664.4h0M496.3 1456.2h0M638.9 1454.6h0M522.1 1461.3h0M565.8 1635.5h0M582 1467.2h0M518.7 1581.6h0M546 1589.9h0M554.1 1707h0M654.2 1404.3h0M524.4 1615.9h0M291.1 1511h0M511.1 1585.5h0M567.9 1580.3h0M372.3 1615.9h0M436.7 1546.9h0M601.1 1601.4h0M490.8 1302.2h0M655.6 1515.1h0M473 1567h0M714 1482.6h0M380.1 1661.2h0M554.6 1656.3h0M587.7 1527.3h0M455 1674.1h0M498.8 1463.3h0M692.3 1462.3h0M485.5 1528.8h0M716.9 1618.9h0M489.5 1655h0M372.4 1340.8h0M448.1 1697.5h0M430.2 1589.2h0M524.5 1559.9h0M481 1642.1h0M509.9 1403.2h0M360.3 1607.4h0M449.7 1694.8h0M552.6 1673.6h0M424.8 1494.1h0M411.7 1576.6h0M553 1552.7h0M342.6 1486.7h0M454.2 1749.1h0M578.7 1528.1h0M347.9 1579.5h0M371 1709.1h0M565.3 1654.7h0M358.2 1699.9h0M338.2 1535.2h0M312.4 1788.5h0M747.5 1601.4h0M588.6 1683.5h0M686.7 1379.7h0M448.1 1564.1h0M444.5 1674.4h0M400.6 1698h0M595.7 1581.6h0M612.9 1613.3h0M411.7 1707.1h0M545.4 1739.1h0M665 1563.1h0M556.6 1568.5h0M680.1 1477.3h0M528.2 1558.4h0M377.6 1743.5h0M588.4 1654.1h0M740.5 1472.3h0M397.3 1542.1h0M421.8 1457.1h0M524.8 1721h0M754.8 1494.7h0M562.9 1673h0M408.1 1649.8h0M380.9 1347h0M746 1489.3h0M612.6 1588.6h0M387.4 1632.1h0M349.4 1584.8h0M308.6 1575.5h0M279.6 1515.6h0M560.9 1649.7h0M349.6 1496.7h0M736.2 1633.3h0M580.8 1609.7h0M337.7 1659.7h0M445.4 1558.6h0M382.9 1589.9h0M581.4 1667.7h0M576.4 1507.9h0M413.6 1319.8h0M363.1 1667.4h0M595.9 1604.7h0M282.7 1547h0M362.1 1608.9h0M615.3 1442.9h0M378.2 1531.2h0M498.6 1531.9h0" stroke="#66C2A5" stroke-width="8" stroke-linecap="round" fill="none"/>
<path d="M174.9 1819.2h0M137.7 1914.8h0M79.4 1836.2h0M174.7 1716.2h0M270.4 1823.5h0M221 1839.4h0M183 1703.8h0M306.4 1939.6h0M202.3 1818.2h0M248.1 1788.7h0M155.6 1907.5h0M182.3 1727.7h0M317.8 1950.5h0M279.7 1791.2h0M343.4 1991.3h0M100.7 1714.4h0M158.3 1787.5h0M105.2 1733.4h0M204.4 1858.1h0M226.7 1871.1h0M370.2 1814.4h0M198.4 1773.3h0M227.3 1878.6h0M96.1 1902.6h0M216.8 1873h0M144.4 1686.2h0M150.4 1631.9h0M220 1838.1h0M284.8 1757.5h0M163.8 1758.7h0M176.4 1747.6h0M360.8 1726.4h0M92.8 1890.5h0M164.3 1867.4h0M199.5 1781.2h0M63.9 1614.3h0M294.9 1770.9h0M182.2 1777.8h0M217 1881.8h0M35.7 1615.6h0M195.1 1684.1h0M197.1 1704.3h0M239.1 1732.6h0M191.7 1769.2h0M211 1741h0M160.8 1903.6h0" stroke="#8DA0CB" stroke-width="8" stroke-linecap="round" fill="none"/>
<path d="M406.8 1562L267.2 1420M277.7 1423.3L267.2 1420M270.3 1430.5L267.2 1420" stroke="#000" stroke-opacity="0.56" stroke-width="3.8" stroke-linejoin="round" fill="none"/>
<path d="M406.8 1562L300.9 1487.4M311.8 1488.8L300.9 1487.4M305.9 1497.2L300.9 1487.4" stroke="#000" stroke-opacity="0.56" stroke-width="3.8" stroke-linejoin="round" fill="none"/>
<path d="M406.8 1562L306.7 1493.2M317.6 1494.4L306.7 1493.2M311.8 1502.9L306.7 1493.2" stroke="#000" stroke-opacity="0.56" stroke-width="3.8" stroke-linejoin="round" fill="none"/>
<path d="M406.8 1562L524.8 1477.8M519.9 1487.6L524.8 1477.8M513.9 1479.2L524.8 1477.8" stroke="#000" stroke-opacity="0.56" stroke-width="3.8" stroke-linejoin="round" fill="none"/>
<path d="M406.8 1562L512.8 1507.6M506.5 1516.6L512.8 1507.6M501.8 1507.5L512.8 1507.6" stroke="#000" stroke-opacity="0.56" stroke-width="3.8" stroke-linejoin="round" fill="none"/>
<path d="M406.8 1562L544.1 1501.8M537.2 1510.5L544.1 1501.8M533.1 1501L544.1 1501.8" stroke="#000" stroke-opacity="0.56" stroke-width="3.8" stroke-linejoin="round" fill="none"/>
<path d="M406.8 1562L522.4 1529.8M514.4 1537.3L522.4 1529.8M511.6 1527.4L522.4 1529.8" stroke="#000" stroke-opacity="0.56" stroke-width="3.8" stroke-linejoin="round" fill="none"/>
<path d="M406.8 1562L503.1 1520.1M496.3 1528.7L503.1 1520.1M492.2 1519.3L503.1 1520.1" stroke="#000" stroke-opacity="0.56" stroke-width="3.8" stroke-linejoin="round" fill="none"/>
<path d="M406.8 1562L327.4 1732.9M326.8 1722L327.4 1732.9M336.2 1726.3L327.4 1732.9" stroke="#000" stroke-opacity="0.56" stroke-width="3.8" stroke-linejoin="round" fill="none"/>
<text x="190.2" y="1416.1" font-size="26.2" font-style="italic">Bacteroides</text>
<text x="118.9" y="1481.6" font-size="26.2" font-style="italic">Parabacteroides</text>
<text x="163.7" y="1510.5" font-size="26.2" font-style="italic">Lachnospira</text>
<text x="487.2" y="1468.1" font-size="26.2" font-style="italic">[Ruminococcus]</text>
<text x="442" y="1505.7" font-size="26.2" font-style="italic">Dorea</text>
<text x="544.1" y="1512.4" font-size="26.2" font-style="italic">Blautia</text>
<text x="493.5" y="1552.4" font-size="26.2" font-style="italic">Bifidobacterium</text>
<text x="245.5" y="1750.8" font-size="26.2" font-style="italic">Prevotella</text>
<text x="724.6" y="1996.3" font-size="24.5" text-anchor="end">PCoA1 (16%)</text>
<text transform="translate(776.6 1910.5) rotate(-90)" font-size="24.5">PCoA2 (10%)</text>
<rect x="0.6" y="1210.6" width="797.2" height="797.3" fill="none" stroke="#000" stroke-width="1.3"/>
<rect x="153.1" y="2057" width="44.3" height="26.5" fill="#8DA0CB"/>
<rect x="197.4" y="2057" width="152.6" height="26.5" fill="#FC8D62"/>
<rect x="350" y="2057" width="371.2" height="26.5" fill="#66C2A5"/>
<text x="207" y="2079.1" font-size="20" text-anchor="end">8%</text>
<text x="353.9" y="2079.1" font-size="20" text-anchor="end">27%</text>
<text x="711.3" y="2079.1" font-size="20" text-anchor="end">65%</text>
<text x="123.9" y="2074.8" font-size="20" text-anchor="end">9-12w</text>
<rect x="153.1" y="2094.9" width="79" height="26.5" fill="#8DA0CB"/>
<rect x="232.1" y="2094.9" width="159.4" height="26.5" fill="#FC8D62"/>
<rect x="391.4" y="2094.9" width="329.8" height="26.5" fill="#66C2A5"/>
<text x="240.7" y="2117" font-size="20" text-anchor="end">14%</text>
<text x="394.8" y="2117" font-size="20" text-anchor="end">28%</text>
<text x="711.3" y="2117" font-size="20" text-anchor="end">58%</text>
<text x="123.9" y="2112.7" font-size="20" text-anchor="end">13-16w</text>
<rect x="153.1" y="2132.8" width="51.5" height="26.5" fill="#8DA0CB"/>
<rect x="204.6" y="2132.8" width="141.1" height="26.5" fill="#FC8D62"/>
<rect x="345.7" y="2132.8" width="375.5" height="26.5" fill="#66C2A5"/>
<text x="210.4" y="2154.9" font-size="20" text-anchor="end">9%</text>
<text x="350.5" y="2154.9" font-size="20" text-anchor="end">25%</text>
<text x="711.3" y="2154.9" font-size="20" text-anchor="end">66%</text>
<text x="123.9" y="2150.6" font-size="20" text-anchor="end">17-20w</text>
<rect x="153.1" y="2170.7" width="46.6" height="26.5" fill="#8DA0CB"/>
<rect x="199.7" y="2170.7" width="150.8" height="26.5" fill="#FC8D62"/>
<rect x="350.5" y="2170.7" width="370.7" height="26.5" fill="#66C2A5"/>
<text x="206.1" y="2192.8" font-size="20" text-anchor="end">8%</text>
<text x="352" y="2192.8" font-size="20" text-anchor="end">27%</text>
<text x="711.3" y="2192.8" font-size="20" text-anchor="end">65%</text>
<text x="123.9" y="2188.5" font-size="20" text-anchor="end">21-24w</text>
<rect x="153.1" y="2208.6" width="76.5" height="26.5" fill="#8DA0CB"/>
<rect x="229.6" y="2208.6" width="119.5" height="26.5" fill="#FC8D62"/>
<rect x="349.1" y="2208.6" width="372.1" height="26.5" fill="#66C2A5"/>
<text x="238.3" y="2230.7" font-size="20" text-anchor="end">13%</text>
<text x="353.9" y="2230.7" font-size="20" text-anchor="end">21%</text>
<text x="711.3" y="2230.7" font-size="20" text-anchor="end">65%</text>
<text x="123.9" y="2226.4" font-size="20" text-anchor="end">25-28w</text>
<rect x="153.1" y="2246.5" width="71.2" height="26.5" fill="#8DA0CB"/>
<rect x="224.3" y="2246.5" width="130.4" height="26.5" fill="#FC8D62"/>
<rect x="354.8" y="2246.5" width="366.4" height="26.5" fill="#66C2A5"/>
<text x="233.5" y="2268.6" font-size="20" text-anchor="end">12%</text>
<text x="357.7" y="2268.6" font-size="20" text-anchor="end">23%</text>
<text x="711.3" y="2268.6" font-size="20" text-anchor="end">64%</text>
<text x="123.9" y="2264.3" font-size="20" text-anchor="end">29-32w</text>
<rect x="153.1" y="2284.4" width="52.5" height="26.5" fill="#8DA0CB"/>
<rect x="205.6" y="2284.4" width="144.4" height="26.5" fill="#FC8D62"/>
<rect x="350" y="2284.4" width="371.2" height="26.5" fill="#66C2A5"/>
<text x="210.9" y="2306.5" font-size="20" text-anchor="end">9%</text>
<text x="351.5" y="2306.5" font-size="20" text-anchor="end">25%</text>
<text x="711.3" y="2306.5" font-size="20" text-anchor="end">65%</text>
<text x="123.9" y="2302.2" font-size="20" text-anchor="end">33-36w</text>
<rect x="153.1" y="2322.3" width="132.9" height="26.5" fill="#8DA0CB"/>
<rect x="286" y="2322.3" width="170.4" height="26.5" fill="#FC8D62"/>
<rect x="456.4" y="2322.3" width="264.8" height="26.5" fill="#66C2A5"/>
<text x="288.9" y="2344.4" font-size="20" text-anchor="end">23%</text>
<text x="458.4" y="2344.4" font-size="20" text-anchor="end">30%</text>
<text x="711.3" y="2344.4" font-size="20" text-anchor="end">47%</text>
<text x="123.9" y="2340.1" font-size="20" text-anchor="end">≥37w</text>
<text x="156.1" y="2387.2" font-size="20" text-anchor="middle">0.00</text>
<text x="298.1" y="2387.2" font-size="20" text-anchor="middle">0.25</text>
<text x="440.1" y="2387.2" font-size="20" text-anchor="middle">0.50</text>
<text x="582.2" y="2387.2" font-size="20" text-anchor="middle">0.75</text>
<text x="724.2" y="2387.2" font-size="20" text-anchor="middle">1.00</text>
<path d="M133.4 2069.7H139.6M133.4 2107.6H139.6M133.4 2145.5H139.6M133.4 2183.4H139.6M133.4 2221.3H139.6M133.4 2259.2H139.6M133.4 2297.1H139.6M133.4 2335H139.6M139.6 2069.3V2335.2M153.1 2363.2H721.2M153.1 2363.2V2369.6M295.1 2363.2V2369.6M437.1 2363.2V2369.6M579.2 2363.2V2369.6M721.2 2363.2V2369.6" stroke="#222" stroke-width="1.1" fill="none"/>
<text transform="translate(382.3 2424.8) scale(1.058 1)" font-size="27" text-anchor="middle">Percentage of enterotypes</text>
<text x="883.3" y="1188.5" font-size="36">c</text>
<path d="M1082.6 1447A400.2 400.2 0 0 1 1087.8 1438.4M1106.9 1410.3A400.2 400.2 0 0 1 1110 1406.2M1119 1394.9A400.2 400.2 0 0 1 1122.3 1391M1131.8 1380.2A400.2 400.2 0 0 1 1135.3 1376.3M1159.5 1352.5A400.2 400.2 0 0 1 1163.3 1349.1M1185.8 1330.7A400.2 400.2 0 0 1 1190 1327.6M1235 1298.8A400.2 400.2 0 0 1 1248.2 1291.8M1270.1 1281.6A400.2 400.2 0 0 1 1274.9 1279.6M1320.8 1263.8A400.2 400.2 0 0 1 1325.8 1262.4M1368.6 1253.6A400.2 400.2 0 0 1 1373.7 1252.9M1402.6 1250A400.2 400.2 0 0 1 1407.8 1249.7M1441.7 1249.4A400.2 400.2 0 0 1 1446.9 1249.6M1475.8 1252.1A400.2 400.2 0 0 1 1490.6 1254.1M1495.2 1254.9A400.2 400.2 0 0 1 1505.1 1256.7M1509.6 1257.6A400.2 400.2 0 0 1 1514.7 1258.7M1519.2 1259.7A400.2 400.2 0 0 1 1524.2 1260.9M1528.6 1262.1A400.2 400.2 0 0 1 1533.6 1263.4M1542.8 1266A400.2 400.2 0 0 1 1547.7 1267.5M1556.7 1270.5A400.2 400.2 0 0 1 1561.6 1272.2M1566 1273.7A400.2 400.2 0 0 1 1570.8 1275.6M1579.6 1279.1A400.2 400.2 0 0 1 1588.9 1283M1593.1 1284.9A400.2 400.2 0 0 1 1597.8 1287M1750.8 1412.9A400.2 400.2 0 0 1 1753.8 1417.1M1756.5 1420.9A400.2 400.2 0 0 1 1759.4 1425.1M1786.3 1471.3A400.2 400.2 0 0 1 1788.6 1476M1794.6 1489A400.2 400.2 0 0 1 1796.6 1493.8M1815.3 1549.1A400.2 400.2 0 0 1 1816.6 1554.1M1824.7 1597A400.2 400.2 0 0 1 1825.3 1602.2M1827.4 1626.2A400.2 400.2 0 0 1 1827.7 1631.4M1827.6 1670.2A400.2 400.2 0 0 1 1827.3 1675.4M1825.6 1694.6A400.2 400.2 0 0 1 1824.9 1699.7M1822.1 1718.8A400.2 400.2 0 0 1 1821.1 1723.8M1815.9 1747.4A400.2 400.2 0 0 1 1814.6 1752.4M1795.5 1807.6A400.2 400.2 0 0 1 1793.5 1812.3M1787.4 1825.3A400.2 400.2 0 0 1 1785.1 1830M1650.7 1981.9A400.2 400.2 0 0 1 1646.3 1984.7M1638.3 1989.8A400.2 400.2 0 0 1 1633.9 1992.5M1572.8 2022.5A400.2 400.2 0 0 1 1563.3 2026M1521.5 2038.5A400.2 400.2 0 0 1 1516.4 2039.7M1511.9 2040.7A400.2 400.2 0 0 1 1506.9 2041.8M1356.5 2043.2A400.2 400.2 0 0 1 1322.8 2035.6M1313.7 2033A400.2 400.2 0 0 1 1304.1 2030M1295.1 2026.9A400.2 400.2 0 0 1 1290.2 2025.2M1276.8 2020A400.2 400.2 0 0 1 1272 2018M1263.3 2014.2A400.2 400.2 0 0 1 1258.6 2012.1M1232.8 1998.8A400.2 400.2 0 0 1 1228.3 1996.3M1111.3 1894.3A400.2 400.2 0 0 1 1108.2 1890.1M1097 1874.5A400.2 400.2 0 0 1 1094.1 1870.2M1088.9 1862.2A400.2 400.2 0 0 1 1086.2 1857.8M1055.8 1796.9A400.2 400.2 0 0 1 1054 1792M1052.3 1787.7A400.2 400.2 0 0 1 1050.6 1782.9M1038.3 1740.9A400.2 400.2 0 0 1 1037.1 1735.9M1035.2 1726.6A400.2 400.2 0 0 1 1034.2 1721.5M1028.4 1673.3A400.2 400.2 0 0 1 1028.1 1668.1M1027.9 1663.5A400.2 400.2 0 0 1 1027.7 1648.6M1027.8 1639.1A400.2 400.2 0 0 1 1028.2 1629M1029.6 1609.8A400.2 400.2 0 0 1 1030.8 1599.8M1032.8 1585.6A400.2 400.2 0 0 1 1033.7 1580.5M1035.4 1571.1A400.2 400.2 0 0 1 1037.5 1561.3M1038.5 1556.8A400.2 400.2 0 0 1 1042.3 1542.3M1043.5 1537.9A400.2 400.2 0 0 1 1049.5 1519M1076.4 1443.3A407.5 407.5 0 0 1 1079.1 1438.8M1089.6 1422.3A407.5 407.5 0 0 1 1092.6 1417.9M1101.1 1406A407.5 407.5 0 0 1 1104.3 1401.8M1113.4 1390.3A407.5 407.5 0 0 1 1116.8 1386.3M1126.4 1375.3A407.5 407.5 0 0 1 1130 1371.4M1181.4 1324.9A407.5 407.5 0 0 1 1185.6 1321.8M1222.8 1297.3A407.5 407.5 0 0 1 1227.4 1294.7M1235.9 1290A407.5 407.5 0 0 1 1240.5 1287.6M1244.7 1285.5A407.5 407.5 0 0 1 1249.4 1283.1M1258.2 1279A407.5 407.5 0 0 1 1263 1276.8M1267.3 1274.9A407.5 407.5 0 0 1 1272.1 1272.9M1402.2 1242.8A407.5 407.5 0 0 1 1407.4 1242.5M1417.1 1242.1A407.5 407.5 0 0 1 1422.4 1242M1442 1242.2A407.5 407.5 0 0 1 1447.2 1242.4M1461.9 1243.4A407.5 407.5 0 0 1 1467.1 1243.8M1476.7 1244.9A407.5 407.5 0 0 1 1506.5 1249.6M1511.1 1250.5A407.5 407.5 0 0 1 1525.9 1253.9M1530.5 1255.1A407.5 407.5 0 0 1 1535.6 1256.4M1540.1 1257.7A407.5 407.5 0 0 1 1549.9 1260.6M1568.5 1267A407.5 407.5 0 0 1 1591.8 1276.4M1596.1 1278.3A407.5 407.5 0 0 1 1600.9 1280.5M1756.6 1408.6A407.5 407.5 0 0 1 1759.7 1412.9M1762.4 1416.7A407.5 407.5 0 0 1 1765.4 1421.1M1768 1425A407.5 407.5 0 0 1 1770.9 1429.4M1792.8 1468.1A407.5 407.5 0 0 1 1795.1 1472.8M1807 1499.9A407.5 407.5 0 0 1 1808.9 1504.8M1823.6 1552.1A407.5 407.5 0 0 1 1824.8 1557.2M1831.9 1596.1A407.5 407.5 0 0 1 1832.5 1601.3M1834.7 1625.8A407.5 407.5 0 0 1 1834.9 1631.1M1834.8 1670.6A407.5 407.5 0 0 1 1834.5 1675.8M1832.8 1695.4A407.5 407.5 0 0 1 1832.1 1700.6M1822.9 1749.2A407.5 407.5 0 0 1 1821.6 1754.3M1802.2 1810.4A407.5 407.5 0 0 1 1800.1 1815.3M1793.9 1828.5A407.5 407.5 0 0 1 1791.5 1833.2M1755.1 1892.2A407.5 407.5 0 0 1 1751.9 1896.4M1749.1 1900.1A407.5 407.5 0 0 1 1745.8 1904.3M1642.1 1996A407.5 407.5 0 0 1 1637.6 1998.7M1537.6 2041.8A407.5 407.5 0 0 1 1532.5 2043.2M1449.4 2056.3A407.5 407.5 0 0 1 1444.1 2056.5M1434.4 2056.8A407.5 407.5 0 0 1 1429.2 2056.9M1355.2 2050.3A407.5 407.5 0 0 1 1350 2049.3M1340.5 2047.4A407.5 407.5 0 0 1 1320.9 2042.6M1306.9 2038.5A407.5 407.5 0 0 1 1301.9 2036.9M1292.7 2033.8A407.5 407.5 0 0 1 1287.7 2032M1274.1 2026.7A407.5 407.5 0 0 1 1269.2 2024.7M1260.4 2020.8A407.5 407.5 0 0 1 1255.6 2018.6M1203.7 1989.6A407.5 407.5 0 0 1 1199.3 1986.7M1111.8 1906.5A407.5 407.5 0 0 1 1108.5 1902.4M1091 1878.5A407.5 407.5 0 0 1 1088 1874.2M1049.1 1799.5A407.5 407.5 0 0 1 1047.2 1794.6M1045.6 1790.2A407.5 407.5 0 0 1 1043.8 1785.3M1032.4 1747.4A407.5 407.5 0 0 1 1031.2 1742.3M1021.2 1673.7A407.5 407.5 0 0 1 1020.9 1668.5M1020.5 1658.8A407.5 407.5 0 0 1 1020.5 1653.5M1020.6 1638.9A407.5 407.5 0 0 1 1020.7 1633.6M1021 1628.9A407.5 407.5 0 0 1 1021.6 1618.7M1023 1604.1A407.5 407.5 0 0 1 1024.2 1594M1028.3 1569.7A407.5 407.5 0 0 1 1030.4 1559.7M1031.5 1555.1A407.5 407.5 0 0 1 1032.8 1550M1033.9 1545.5A407.5 407.5 0 0 1 1035.3 1540.4M1036.6 1535.9A407.5 407.5 0 0 1 1039.6 1526.1M1041 1521.6A407.5 407.5 0 0 1 1042.7 1516.6M1070.1 1439.7A414.7 414.7 0 0 1 1075.5 1430.7M1095.3 1401.7A414.7 414.7 0 0 1 1098.5 1397.4M1117.7 1374.2A414.7 414.7 0 0 1 1121.3 1370.2M1149.8 1341.8A414.7 414.7 0 0 1 1153.8 1338.2M1177.1 1319.2A414.7 414.7 0 0 1 1181.3 1316M1219.2 1291.1A414.7 414.7 0 0 1 1223.8 1288.4M1232.4 1283.7A414.7 414.7 0 0 1 1237.2 1281.2M1241.4 1279A414.7 414.7 0 0 1 1246.2 1276.6M1255.1 1272.4A414.7 414.7 0 0 1 1260 1270.2M1264.4 1268.3A414.7 414.7 0 0 1 1269.3 1266.2M1302.4 1254.2A414.7 414.7 0 0 1 1307.5 1252.6M1366.5 1239.3A414.7 414.7 0 0 1 1371.8 1238.5M1401.7 1235.5A414.7 414.7 0 0 1 1407.1 1235.2M1416.9 1234.8A414.7 414.7 0 0 1 1422.3 1234.7M1442.2 1234.9A414.7 414.7 0 0 1 1447.6 1235.2M1477.6 1237.7A414.7 414.7 0 0 1 1507.9 1242.5M1512.6 1243.4A414.7 414.7 0 0 1 1527.7 1246.9M1532.3 1248.1A414.7 414.7 0 0 1 1537.5 1249.4M1542.1 1250.7A414.7 414.7 0 0 1 1547.2 1252.2M1551.8 1253.6A414.7 414.7 0 0 1 1556.9 1255.3M1561.4 1256.8A414.7 414.7 0 0 1 1566.5 1258.5M1571 1260.2A414.7 414.7 0 0 1 1594.7 1269.7M1599.1 1271.7A414.7 414.7 0 0 1 1608.5 1276.1M1639.5 1292.7A414.7 414.7 0 0 1 1644.1 1295.5M1762.5 1404.4A414.7 414.7 0 0 1 1765.6 1408.7M1768.3 1412.6A414.7 414.7 0 0 1 1774.2 1421.2M1803.7 1474A414.7 414.7 0 0 1 1805.9 1478.9M1813.7 1497.3A414.7 414.7 0 0 1 1815.6 1502.3M1817.3 1506.7A414.7 414.7 0 0 1 1819.1 1511.8M1829.4 1545.4A414.7 414.7 0 0 1 1831.8 1555.5M1841.9 1625.4A414.7 414.7 0 0 1 1842.2 1630.7M1840 1696.2A414.7 414.7 0 0 1 1839.3 1701.5M1836.3 1721.3A414.7 414.7 0 0 1 1835.4 1726.5M1808.8 1813.3A414.7 414.7 0 0 1 1806.7 1818.2M1754.8 1904.6A414.7 414.7 0 0 1 1751.5 1908.8M1699 1963.2A414.7 414.7 0 0 1 1694.9 1966.7M1667.1 1988.2A414.7 414.7 0 0 1 1662.7 1991.2M1645.9 2002.2A414.7 414.7 0 0 1 1641.4 2004.9M1563.7 2041.2A414.7 414.7 0 0 1 1558.7 2042.9M1510 2055.9A414.7 414.7 0 0 1 1504.8 2056.9M1470 2062A414.7 414.7 0 0 1 1464.6 2062.5M1449.7 2063.5A414.7 414.7 0 0 1 1444.4 2063.8M1434.6 2064A414.7 414.7 0 0 1 1429.2 2064.1M1353.9 2057.4A414.7 414.7 0 0 1 1319 2049.6M1304.7 2045.4A414.7 414.7 0 0 1 1299.6 2043.8M1290.3 2040.6A414.7 414.7 0 0 1 1285.2 2038.8M1276 2035.3A414.7 414.7 0 0 1 1271.1 2033.3M1199.7 1995.7A414.7 414.7 0 0 1 1195.3 1992.7M1167 1971.8A414.7 414.7 0 0 1 1162.9 1968.4M1106.2 1911.1A414.7 414.7 0 0 1 1099.7 1902.9M1042.4 1802.2A414.7 414.7 0 0 1 1040.4 1797.2M1038.8 1792.7A414.7 414.7 0 0 1 1035.3 1782.9M1025.4 1749.2A414.7 414.7 0 0 1 1024.1 1744M1016.2 1699.4A414.7 414.7 0 0 1 1015.6 1694M1013.9 1674.1A414.7 414.7 0 0 1 1013.7 1668.8M1013.5 1664A414.7 414.7 0 0 1 1013.2 1653.6M1013.3 1638.7A414.7 414.7 0 0 1 1014 1623.2M1015.8 1603.3A414.7 414.7 0 0 1 1016.4 1598M1018.5 1583.2A414.7 414.7 0 0 1 1019.4 1578M1022.2 1563.3A414.7 414.7 0 0 1 1023.4 1558.1M1025.7 1548.5A414.7 414.7 0 0 1 1027 1543.3M1029.6 1533.8A414.7 414.7 0 0 1 1032.7 1523.9M1034.1 1519.3A414.7 414.7 0 0 1 1035.8 1514.3M1063.9 1436A421.9 421.9 0 0 1 1069.4 1426.9M1077.6 1414.2A421.9 421.9 0 0 1 1080.7 1409.7M1119.2 1361.7A421.9 421.9 0 0 1 1123 1357.8M1144.9 1336.4A421.9 421.9 0 0 1 1149 1332.8M1172.7 1313.4A421.9 421.9 0 0 1 1177 1310.1M1229 1277.3A421.9 421.9 0 0 1 1243.1 1270.1M1261.5 1261.6A421.9 421.9 0 0 1 1266.6 1259.5M1300.2 1247.3A421.9 421.9 0 0 1 1305.4 1245.6M1315 1242.8A421.9 421.9 0 0 1 1320.3 1241.4M1406.4 1228A421.9 421.9 0 0 1 1411.8 1227.8M1416.7 1227.6A421.9 421.9 0 0 1 1422.2 1227.5M1442.5 1227.7A421.9 421.9 0 0 1 1447.9 1227.9M1463.1 1228.9A421.9 421.9 0 0 1 1468.5 1229.4M1478.4 1230.5A421.9 421.9 0 0 1 1483.9 1231.2M1488.7 1231.9A421.9 421.9 0 0 1 1509.3 1235.4M1514 1236.3A421.9 421.9 0 0 1 1519.4 1237.5M1524.1 1238.6A421.9 421.9 0 0 1 1529.4 1239.9M1534.1 1241A421.9 421.9 0 0 1 1539.4 1242.5M1549 1245.2A421.9 421.9 0 0 1 1559.1 1248.4M1568.6 1251.6A421.9 421.9 0 0 1 1597.6 1263.1M1768.3 1400.1A421.9 421.9 0 0 1 1771.5 1404.5M1774.3 1408.5A421.9 421.9 0 0 1 1780.2 1417.3M1810.2 1470.9A421.9 421.9 0 0 1 1812.5 1475.9M1820.4 1494.6A421.9 421.9 0 0 1 1822.4 1499.7M1836.4 1543.6A421.9 421.9 0 0 1 1837.7 1548.9M1846.2 1594.2A421.9 421.9 0 0 1 1846.9 1599.6M1849.3 1671.3A421.9 421.9 0 0 1 1849 1676.8M1847.1 1697A421.9 421.9 0 0 1 1846.5 1702.4M1837 1752.8A421.9 421.9 0 0 1 1835.6 1758M1815.5 1816.2A421.9 421.9 0 0 1 1813.3 1821.2M1794.8 1857.7A421.9 421.9 0 0 1 1792.1 1862.4M1671.2 1994.1A421.9 421.9 0 0 1 1666.8 1997.2M1580.6 2042.7A421.9 421.9 0 0 1 1570.7 2046.4M1516.5 2061.9A421.9 421.9 0 0 1 1511.2 2063M1352.6 2064.6A421.9 421.9 0 0 1 1342.2 2062.5M1337.4 2061.5A421.9 421.9 0 0 1 1317.1 2056.5M1307.5 2053.8A421.9 421.9 0 0 1 1297.4 2050.6M1287.9 2047.4A421.9 421.9 0 0 1 1282.8 2045.6M1222.2 2017.8A421.9 421.9 0 0 1 1217.4 2015.1M1162.5 1977.4A421.9 421.9 0 0 1 1158.3 1973.9M1128.1 1946.3A421.9 421.9 0 0 1 1124.3 1942.4M1097.3 1911.6A421.9 421.9 0 0 1 1094 1907.3M1070.5 1873.7A421.9 421.9 0 0 1 1067.7 1869.1M1035.6 1804.9A421.9 421.9 0 0 1 1033.7 1799.8M1032 1795.2A421.9 421.9 0 0 1 1030.1 1790.1M1018.4 1750.9A421.9 421.9 0 0 1 1015.9 1740.6M1013.9 1730.8A421.9 421.9 0 0 1 1012.9 1725.4M1006.7 1674.6A421.9 421.9 0 0 1 1006.4 1669.1M1006 1654A421.9 421.9 0 0 1 1006 1648.5M1006.1 1638.5A421.9 421.9 0 0 1 1006.8 1622.8M1007.6 1612.8A421.9 421.9 0 0 1 1008.1 1607.3M1008.6 1602.5A421.9 421.9 0 0 1 1009.2 1597.1M1011.4 1582.1A421.9 421.9 0 0 1 1012.3 1576.7M1014.1 1566.9A421.9 421.9 0 0 1 1016.3 1556.5M1018.6 1546.8A421.9 421.9 0 0 1 1020 1541.5M1024.1 1526.9A421.9 421.9 0 0 1 1029 1511.9M1057.7 1432.3A429.2 429.2 0 0 1 1063.2 1423.1M1110.4 1360.7A429.2 429.2 0 0 1 1114.1 1356.6M1117.5 1353A429.2 429.2 0 0 1 1121.4 1349M1140.1 1331.1A429.2 429.2 0 0 1 1144.2 1327.4M1176.7 1301.4A429.2 429.2 0 0 1 1181.2 1298.2M1211.9 1278.5A429.2 429.2 0 0 1 1216.7 1275.8M1225.6 1270.9A429.2 429.2 0 0 1 1230.5 1268.3M1249.1 1259.2A429.2 429.2 0 0 1 1254.2 1257M1258.7 1255A429.2 429.2 0 0 1 1263.8 1252.8M1298 1240.4A429.2 429.2 0 0 1 1303.3 1238.7M1364.3 1225A429.2 429.2 0 0 1 1369.8 1224.2M1400.8 1221.1A429.2 429.2 0 0 1 1406.3 1220.8M1416.5 1220.4A429.2 429.2 0 0 1 1422.1 1220.3M1442.7 1220.5A429.2 429.2 0 0 1 1448.3 1220.7M1479.3 1223.3A429.2 429.2 0 0 1 1510.7 1228.3M1515.5 1229.3A429.2 429.2 0 0 1 1531.1 1232.8M1535.9 1234A429.2 429.2 0 0 1 1541.3 1235.5M1546.1 1236.8A429.2 429.2 0 0 1 1561.4 1241.5M1566.1 1243.1A429.2 429.2 0 0 1 1576.2 1246.7M1585.8 1250.3A429.2 429.2 0 0 1 1600.5 1256.5M1609.8 1260.7A429.2 429.2 0 0 1 1614.8 1263.1M1774.1 1395.8A429.2 429.2 0 0 1 1777.4 1400.3M1780.2 1404.3A429.2 429.2 0 0 1 1789.1 1417.7M1812.3 1458.4A429.2 429.2 0 0 1 1814.7 1463.4M1816.8 1467.9A429.2 429.2 0 0 1 1819.1 1472.9M1827.2 1492A429.2 429.2 0 0 1 1829.2 1497.1M1856.4 1624.5A429.2 429.2 0 0 1 1856.6 1630.1M1856.5 1671.7A429.2 429.2 0 0 1 1856.2 1677.2M1850.6 1723.8A429.2 429.2 0 0 1 1849.6 1729.2M1844 1754.5A429.2 429.2 0 0 1 1842.6 1759.9M1822.1 1819A429.2 429.2 0 0 1 1819.9 1824.1M1813.4 1838.1A429.2 429.2 0 0 1 1810.9 1843M1801.1 1861.3A429.2 429.2 0 0 1 1798.4 1866.1M1766.2 1913.5A429.2 429.2 0 0 1 1762.8 1917.9M1708.4 1974.2A429.2 429.2 0 0 1 1704.2 1977.8M1597.8 2043.5A429.2 429.2 0 0 1 1592.7 2045.7M1583.2 2049.5A429.2 429.2 0 0 1 1573.1 2053.3M1568.5 2054.9A429.2 429.2 0 0 1 1563.2 2056.7M1528.2 2066.7A429.2 429.2 0 0 1 1522.8 2067.9M1450.5 2078A429.2 429.2 0 0 1 1445 2078.2M1434.8 2078.5A429.2 429.2 0 0 1 1429.2 2078.6M1351.3 2071.7A429.2 429.2 0 0 1 1315.2 2063.5M1300.4 2059.2A429.2 429.2 0 0 1 1295.1 2057.5M1270.7 2048.8A429.2 429.2 0 0 1 1260.8 2044.7M1191.8 2007.8A429.2 429.2 0 0 1 1187.2 2004.7M1094.9 1920.2A429.2 429.2 0 0 1 1088.2 1911.7M1064.4 1877.6A429.2 429.2 0 0 1 1058.8 1868.4M1028.9 1807.5A429.2 429.2 0 0 1 1026.9 1802.4M1025.2 1797.7A429.2 429.2 0 0 1 1023.3 1792.5M1011.3 1752.6A429.2 429.2 0 0 1 1010 1747.3M1001.8 1701.1A429.2 429.2 0 0 1 1001.2 1695.6M999.5 1675A429.2 429.2 0 0 1 999.2 1669.5M998.9 1638.3A429.2 429.2 0 0 1 999.9 1617.1M1001.4 1601.7A429.2 429.2 0 0 1 1002 1596.2M1004.2 1580.9A429.2 429.2 0 0 1 1005.1 1575.5M1008.1 1560.3A429.2 429.2 0 0 1 1009.3 1554.9M1010.4 1550.1A429.2 429.2 0 0 1 1011.7 1544.7M1012.9 1539.9A429.2 429.2 0 0 1 1014.4 1534.6M1018.8 1519.8A429.2 429.2 0 0 1 1022.2 1509.5M1051.4 1428.7A436.4 436.4 0 0 1 1057.1 1419.3M1077.9 1388.7A436.4 436.4 0 0 1 1081.3 1384.2M1101.4 1359.8A436.4 436.4 0 0 1 1105.2 1355.6M1135.2 1325.7A436.4 436.4 0 0 1 1139.4 1321.9M1163.9 1301.9A436.4 436.4 0 0 1 1168.4 1298.5M1176.8 1292.4A436.4 436.4 0 0 1 1181.5 1289.2M1208.2 1272.3A436.4 436.4 0 0 1 1213.1 1269.5M1222.2 1264.5A436.4 436.4 0 0 1 1227.2 1261.9M1231.7 1259.6A436.4 436.4 0 0 1 1236.7 1257.1M1246.1 1252.7A436.4 436.4 0 0 1 1251.2 1250.3M1255.8 1248.3A436.4 436.4 0 0 1 1261 1246.1M1316.3 1227.5A436.4 436.4 0 0 1 1321.7 1226.1M1363.2 1217.8A436.4 436.4 0 0 1 1368.8 1217M1400.3 1213.9A436.4 436.4 0 0 1 1406 1213.5M1416.3 1213.1A436.4 436.4 0 0 1 1422 1213M1432.3 1213A436.4 436.4 0 0 1 1438 1213.1M1443 1213.2A436.4 436.4 0 0 1 1448.6 1213.5M1480.2 1216.1A436.4 436.4 0 0 1 1501.6 1219.2M1506.5 1220.1A436.4 436.4 0 0 1 1512.1 1221.2M1517 1222.2A436.4 436.4 0 0 1 1532.9 1225.8M1537.8 1227A436.4 436.4 0 0 1 1543.2 1228.5M1548 1229.8A436.4 436.4 0 0 1 1563.6 1234.6M1573.4 1238A436.4 436.4 0 0 1 1588.7 1243.7M1593.4 1245.6A436.4 436.4 0 0 1 1603.5 1249.8M1608 1251.9A436.4 436.4 0 0 1 1618 1256.5M1641.3 1268.7A436.4 436.4 0 0 1 1646.2 1271.5M1780 1391.5A436.4 436.4 0 0 1 1783.3 1396.1M1786.2 1400.2A436.4 436.4 0 0 1 1789.4 1404.9M1818.7 1455.2A436.4 436.4 0 0 1 1821.2 1460.3M1833.9 1489.3A436.4 436.4 0 0 1 1835.9 1494.6M1860.6 1592.3A436.4 436.4 0 0 1 1861.3 1597.9M1863.7 1672.1A436.4 436.4 0 0 1 1863.4 1677.7M1861.5 1698.7A436.4 436.4 0 0 1 1860.9 1704.2M1851 1756.3A436.4 436.4 0 0 1 1849.6 1761.8M1828.8 1821.9A436.4 436.4 0 0 1 1826.5 1827M1819.9 1841.3A436.4 436.4 0 0 1 1817.4 1846.3M1807.4 1864.8A436.4 436.4 0 0 1 1804.6 1869.7M1778.4 1909.5A436.4 436.4 0 0 1 1775 1914M1771.9 1918A436.4 436.4 0 0 1 1768.4 1922.4M1692.5 1996.5A436.4 436.4 0 0 1 1688 1999.9M1679.6 2005.9A436.4 436.4 0 0 1 1675 2009.2M1600.7 2050.2A436.4 436.4 0 0 1 1595.5 2052.4M1585.9 2056.2A436.4 436.4 0 0 1 1575.6 2060.1M1570.8 2061.7A436.4 436.4 0 0 1 1565.5 2063.6M1450.9 2085.2A436.4 436.4 0 0 1 1445.3 2085.5M1434.9 2085.8A436.4 436.4 0 0 1 1429.3 2085.8M1350 2078.8A436.4 436.4 0 0 1 1313.3 2070.5M1303.4 2067.7A436.4 436.4 0 0 1 1292.9 2064.4M1215.1 2030.4A436.4 436.4 0 0 1 1210.2 2027.7M1187.8 2013.8A436.4 436.4 0 0 1 1183.1 2010.7M1174.6 2004.8A436.4 436.4 0 0 1 1170 2001.5M1073.1 1903.6A436.4 436.4 0 0 1 1069.9 1899M1067 1894.8A436.4 436.4 0 0 1 1063.9 1890.1M1055.5 1876.9A436.4 436.4 0 0 1 1052.6 1872.1M1022.2 1810.2A436.4 436.4 0 0 1 1020.1 1804.9M1018.4 1800.2A436.4 436.4 0 0 1 1016.5 1794.9M1004.3 1754.4A436.4 436.4 0 0 1 1003 1748.9M992.3 1675.4A436.4 436.4 0 0 1 992 1669.8M991.8 1664.8A436.4 436.4 0 0 1 991.5 1648.5M991.6 1638.1A436.4 436.4 0 0 1 992.7 1616.5M993.1 1611.5A436.4 436.4 0 0 1 993.7 1605.9M994.2 1600.9A436.4 436.4 0 0 1 995.5 1590M997.1 1579.8A436.4 436.4 0 0 1 998 1574.2M999.9 1564A436.4 436.4 0 0 1 1001 1558.5M1005.9 1538.1A436.4 436.4 0 0 1 1007.4 1532.6M1010.3 1522.7A436.4 436.4 0 0 1 1017.1 1502.1M1047.9 1420.4A443.7 443.7 0 0 1 1050.9 1415.5M1072.1 1384.4A443.7 443.7 0 0 1 1075.5 1379.8M1085.5 1367.3A443.7 443.7 0 0 1 1089.1 1362.9M1099.7 1350.9A443.7 443.7 0 0 1 1111 1338.9M1130.3 1320.3A443.7 443.7 0 0 1 1134.6 1316.5M1159.5 1296.1A443.7 443.7 0 0 1 1164.1 1292.7M1204.6 1266A443.7 443.7 0 0 1 1209.6 1263.2M1218.8 1258.1A443.7 443.7 0 0 1 1223.9 1255.4M1243.1 1246.1A443.7 443.7 0 0 1 1248.3 1243.7M1253 1241.7A443.7 443.7 0 0 1 1258.3 1239.5M1293.6 1226.6A443.7 443.7 0 0 1 1299.1 1224.9M1362.2 1210.6A443.7 443.7 0 0 1 1367.8 1209.8M1399.9 1206.6A443.7 443.7 0 0 1 1405.6 1206.3M1416.1 1205.9A443.7 443.7 0 0 1 1421.9 1205.8M1432.4 1205.8A443.7 443.7 0 0 1 1438.1 1205.9M1443.2 1206A443.7 443.7 0 0 1 1449 1206.2M1481 1208.9A443.7 443.7 0 0 1 1502.8 1212.1M1507.8 1213A443.7 443.7 0 0 1 1513.5 1214.1M1518.5 1215.1A443.7 443.7 0 0 1 1524.1 1216.3M1529.1 1217.4A443.7 443.7 0 0 1 1534.6 1218.8M1539.6 1220A443.7 443.7 0 0 1 1545.1 1221.5M1555.2 1224.4A443.7 443.7 0 0 1 1560.7 1226.1M1570.7 1229.4A443.7 443.7 0 0 1 1606.4 1243.2M1611 1245.3A443.7 443.7 0 0 1 1621.1 1250M1644.9 1262.4A443.7 443.7 0 0 1 1649.9 1265.3M1654.3 1267.8A443.7 443.7 0 0 1 1659.2 1270.8M1736 1330.2A443.7 443.7 0 0 1 1740.1 1334.2M1785.8 1387.2A443.7 443.7 0 0 1 1789.2 1391.9M1792.1 1396.1A443.7 443.7 0 0 1 1798.4 1405.3M1825.2 1452A443.7 443.7 0 0 1 1827.7 1457.1M1840.6 1486.7A443.7 443.7 0 0 1 1842.7 1492M1867.7 1591.3A443.7 443.7 0 0 1 1868.5 1597M1870.8 1623.7A443.7 443.7 0 0 1 1871.1 1629.4M1864.8 1726.3A443.7 443.7 0 0 1 1863.8 1731.9M1835.4 1824.7A443.7 443.7 0 0 1 1833.1 1830M1826.4 1844.4A443.7 443.7 0 0 1 1823.8 1849.6M1813.7 1868.4A443.7 443.7 0 0 1 1810.9 1873.4M1784.2 1913.8A443.7 443.7 0 0 1 1780.7 1918.4M1696.9 2002.2A443.7 443.7 0 0 1 1692.3 2005.7M1588.5 2063A443.7 443.7 0 0 1 1583.1 2065M1348.7 2085.9A443.7 443.7 0 0 1 1311.4 2077.5M1296.1 2073A443.7 443.7 0 0 1 1290.7 2071.3M1260.4 2060.2A443.7 443.7 0 0 1 1255.1 2058M1211.6 2036.8A443.7 443.7 0 0 1 1206.6 2033.9M1170.4 2010.7A443.7 443.7 0 0 1 1165.7 2007.3M1148.8 1994.3A443.7 443.7 0 0 1 1144.4 1990.7M1112.7 1961.6A443.7 443.7 0 0 1 1108.7 1957.5M1080.3 1925.1A443.7 443.7 0 0 1 1076.8 1920.6M1061 1898.9A443.7 443.7 0 0 1 1057.9 1894.1M1052.1 1885.3A443.7 443.7 0 0 1 1049.1 1880.4M1038.4 1861.9A443.7 443.7 0 0 1 1035.7 1856.9M1015.5 1812.9A443.7 443.7 0 0 1 1013.4 1807.5M1011.6 1802.7A443.7 443.7 0 0 1 1009.6 1797.4M1001.5 1771.8A443.7 443.7 0 0 1 999.9 1766.3M997.3 1756.1A443.7 443.7 0 0 1 995.9 1750.6M992.6 1735A443.7 443.7 0 0 1 991.5 1729.3M985 1675.9A443.7 443.7 0 0 1 984.7 1670.1M984.5 1665A443.7 443.7 0 0 1 984.2 1648.5M984.4 1637.9A443.7 443.7 0 0 1 985.5 1616M987 1600.1A443.7 443.7 0 0 1 987.7 1594.4M989.9 1578.6A443.7 443.7 0 0 1 990.9 1573M992.8 1562.6A443.7 443.7 0 0 1 994 1557M996.3 1546.7A443.7 443.7 0 0 1 999 1535.9M1003.4 1520.6A443.7 443.7 0 0 1 1010.3 1499.7M1098 1342A450.9 450.9 0 0 1 1102 1337.8M1125.5 1314.9A450.9 450.9 0 0 1 1129.8 1311.1M1155.2 1290.3A450.9 450.9 0 0 1 1159.8 1286.8M1168.5 1280.6A450.9 450.9 0 0 1 1173.3 1277.3M1201 1259.8A450.9 450.9 0 0 1 1206 1256.9M1215.4 1251.7A450.9 450.9 0 0 1 1230.4 1244.1M1240.1 1239.5A450.9 450.9 0 0 1 1245.4 1237.1M1250.1 1235A450.9 450.9 0 0 1 1255.5 1232.8M1291.4 1219.7A450.9 450.9 0 0 1 1297 1217.9M1312.6 1213.5A450.9 450.9 0 0 1 1318.2 1212M1361.1 1203.5A450.9 450.9 0 0 1 1366.9 1202.7M1372 1202A450.9 450.9 0 0 1 1377.8 1201.3M1399.4 1199.4A450.9 450.9 0 0 1 1405.2 1199.1M1410.4 1198.8A450.9 450.9 0 0 1 1416.3 1198.7M1443.5 1198.8A450.9 450.9 0 0 1 1449.3 1199M1481.9 1201.7A450.9 450.9 0 0 1 1514.9 1207M1520 1208A450.9 450.9 0 0 1 1536.4 1211.7M1541.4 1213A450.9 450.9 0 0 1 1547 1214.5M1552 1215.9A450.9 450.9 0 0 1 1568.1 1220.9M1583.4 1226.2A450.9 450.9 0 0 1 1588.9 1228.2M1593.7 1230.1A450.9 450.9 0 0 1 1604.2 1234.4M1619 1241A450.9 450.9 0 0 1 1624.3 1243.5M1658 1261.6A450.9 450.9 0 0 1 1663 1264.6M1798.1 1391.9A450.9 450.9 0 0 1 1807.4 1405.9M1836.5 1458.7A450.9 450.9 0 0 1 1838.9 1464M1841 1468.7A450.9 450.9 0 0 1 1843.3 1474.1M1847.4 1484A450.9 450.9 0 0 1 1849.5 1489.4M1865.7 1541.7A450.9 450.9 0 0 1 1867.1 1547.4M1874.9 1590.4A450.9 450.9 0 0 1 1875.6 1596.2M1878 1623.3A450.9 450.9 0 0 1 1878.3 1629.1M1878.2 1672.8A450.9 450.9 0 0 1 1877.8 1678.7M1865.1 1759.9A450.9 450.9 0 0 1 1863.6 1765.5M1842.1 1827.6A450.9 450.9 0 0 1 1839.8 1832.9M1832.9 1847.6A450.9 450.9 0 0 1 1830.3 1852.8M1820 1872A450.9 450.9 0 0 1 1817.1 1877M1722.6 1990.6A450.9 450.9 0 0 1 1718.2 1994.4M1701.3 2008A450.9 450.9 0 0 1 1696.6 2011.5M1687.9 2017.8A450.9 450.9 0 0 1 1683.2 2021.1M1665 2032.9A450.9 450.9 0 0 1 1660 2036M1586 2071.7A450.9 450.9 0 0 1 1580.5 2073.7M1533.3 2087.8A450.9 450.9 0 0 1 1527.6 2089.1M1435.1 2100.2A450.9 450.9 0 0 1 1429.3 2100.3M1347.4 2093.1A450.9 450.9 0 0 1 1341.7 2092M1336.6 2091A450.9 450.9 0 0 1 1325.5 2088.5M1320.5 2087.3A450.9 450.9 0 0 1 1309.5 2084.5M1299.2 2081.6A450.9 450.9 0 0 1 1288.4 2078.2M1278.3 2074.8A450.9 450.9 0 0 1 1272.8 2072.8M1257.7 2066.9A450.9 450.9 0 0 1 1252.3 2064.7M1242.5 2060.4A450.9 450.9 0 0 1 1237.2 2058M1179.8 2025.9A450.9 450.9 0 0 1 1175 2022.7M1107.5 1966.7A450.9 450.9 0 0 1 1103.4 1962.5M1092.4 1950.6A450.9 450.9 0 0 1 1088.5 1946.3M1078.1 1933.9A450.9 450.9 0 0 1 1071 1925M1008.7 1815.5A450.9 450.9 0 0 1 1006.6 1810.1M1002.9 1800.1A450.9 450.9 0 0 1 1001 1794.6M990.2 1757.9A450.9 450.9 0 0 1 987.7 1746.8M977.8 1676.3A450.9 450.9 0 0 1 977.5 1670.5M977.1 1659.8A450.9 450.9 0 0 1 977 1648.5M977.2 1637.8A450.9 450.9 0 0 1 978.3 1615.4M979.2 1604.8A450.9 450.9 0 0 1 980.5 1593.5M982.8 1577.5A450.9 450.9 0 0 1 983.7 1571.7M985.7 1561.2A450.9 450.9 0 0 1 988.1 1550.1M990.5 1539.7A450.9 450.9 0 0 1 993.4 1528.8M994.9 1523.8A450.9 450.9 0 0 1 998.2 1512.9M999.8 1508A450.9 450.9 0 0 1 1001.6 1502.5" stroke="#F6F9FE" stroke-width="7.5" fill="none"/>
<path d="M1098.4 1422.3A400.2 400.2 0 0 1 1101.3 1418M1128.5 1383.8A400.2 400.2 0 0 1 1132 1379.9M1138.5 1373A400.2 400.2 0 0 1 1142.1 1369.3M1226.5 1303.6A400.2 400.2 0 0 1 1230.9 1301M1306.8 1268A400.2 400.2 0 0 1 1311.7 1266.4M1407.5 1249.7A400.2 400.2 0 0 1 1432.2 1249.2M1436.8 1249.3A400.2 400.2 0 0 1 1442 1249.4M1446.6 1249.6A400.2 400.2 0 0 1 1476.1 1252.1M1514.4 1258.6A400.2 400.2 0 0 1 1519.4 1259.8M1523.9 1260.9A400.2 400.2 0 0 1 1528.9 1262.1M1533.4 1263.3A400.2 400.2 0 0 1 1543 1266.1M1552.1 1268.9A400.2 400.2 0 0 1 1557 1270.6M1575.1 1277.2A400.2 400.2 0 0 1 1579.9 1279.2M1695.1 1351.4A400.2 400.2 0 0 1 1698.9 1354.9M1732.6 1389.9A400.2 400.2 0 0 1 1735.9 1393.9M1759.2 1424.9A400.2 400.2 0 0 1 1762.1 1429.2M1790.6 1480.1A400.2 400.2 0 0 1 1792.7 1484.8M1816.5 1553.8A400.2 400.2 0 0 1 1817.7 1558.8M1818.8 1563.3A400.2 400.2 0 0 1 1819.8 1568.4M1743.4 1895.7A400.2 400.2 0 0 1 1740.2 1899.7M1724.5 1918.1A400.2 400.2 0 0 1 1721 1921.9M1689.5 1952.3A400.2 400.2 0 0 1 1685.6 1955.6M1670.5 1967.7A400.2 400.2 0 0 1 1666.4 1970.8M1604.1 2008.7A400.2 400.2 0 0 1 1599.4 2011M1434.3 2049.6A400.2 400.2 0 0 1 1429.2 2049.6M1419.7 2049.5A400.2 400.2 0 0 1 1414.5 2049.4M1400.1 2048.7A400.2 400.2 0 0 1 1395 2048.3M1281.3 2021.8A400.2 400.2 0 0 1 1276.6 2019.9M1195.6 1975.3A400.2 400.2 0 0 1 1191.4 1972.3M1028.7 1678.2A400.2 400.2 0 0 1 1028.4 1673M1028.2 1629.3A400.2 400.2 0 0 1 1028.8 1619.3M1030.7 1600.1A400.2 400.2 0 0 1 1031.4 1594.9M1042.2 1542.6A400.2 400.2 0 0 1 1043.6 1537.6M1049.4 1519.2A400.2 400.2 0 0 1 1051.2 1514.4M1078.9 1439.1A407.5 407.5 0 0 1 1081.7 1434.6M1092.4 1418.1A407.5 407.5 0 0 1 1095.4 1413.8M1123.1 1379A407.5 407.5 0 0 1 1126.6 1375.1M1133.2 1368A407.5 407.5 0 0 1 1136.9 1364.2M1154.6 1347.2A407.5 407.5 0 0 1 1158.5 1343.7M1304.6 1261.1A407.5 407.5 0 0 1 1309.6 1259.5M1407.1 1242.5A407.5 407.5 0 0 1 1417.4 1242.1M1422.1 1242A407.5 407.5 0 0 1 1432.3 1242M1437 1242A407.5 407.5 0 0 1 1442.3 1242.2M1451.9 1242.6A407.5 407.5 0 0 1 1462.1 1243.4M1466.8 1243.8A407.5 407.5 0 0 1 1477 1244.9M1535.3 1256.3A407.5 407.5 0 0 1 1540.3 1257.8M1554.4 1262.1A407.5 407.5 0 0 1 1564 1265.4M1699.9 1346A407.5 407.5 0 0 1 1703.8 1349.6M1738.1 1385.2A407.5 407.5 0 0 1 1741.5 1389.2M1765.2 1420.8A407.5 407.5 0 0 1 1768.1 1425.2M1797.1 1477.1A407.5 407.5 0 0 1 1799.3 1481.9M1825.8 1561.8A407.5 407.5 0 0 1 1826.9 1566.9M1829.2 1720A407.5 407.5 0 0 1 1828.2 1725.2M1782.3 1850.5A407.5 407.5 0 0 1 1779.6 1855.1M1729.8 1923A407.5 407.5 0 0 1 1726.3 1926.9M1674.9 1973.4A407.5 407.5 0 0 1 1670.7 1976.6M1345.4 2048.4A407.5 407.5 0 0 1 1340.3 2047.3M1278.7 2028.6A407.5 407.5 0 0 1 1273.8 2026.6M1191.4 1981.2A407.5 407.5 0 0 1 1187.1 1978.1M1043.9 1785.5A407.5 407.5 0 0 1 1042.1 1780.6M1021.5 1678.7A407.5 407.5 0 0 1 1021.1 1673.4M1020.7 1663.8A407.5 407.5 0 0 1 1020.5 1658.5M1020.5 1653.8A407.5 407.5 0 0 1 1020.4 1648.5M1020.7 1633.9A407.5 407.5 0 0 1 1021 1628.6M1025.7 1584.4A407.5 407.5 0 0 1 1026.5 1579.2M1035.2 1540.6A407.5 407.5 0 0 1 1036.7 1535.6M1039.5 1526.3A407.5 407.5 0 0 1 1041.1 1521.3M1042.6 1516.9A407.5 407.5 0 0 1 1044.3 1511.9M1086.5 1414A414.7 414.7 0 0 1 1089.5 1409.6M1121.1 1370.4A414.7 414.7 0 0 1 1124.7 1366.5M1128 1363A414.7 414.7 0 0 1 1131.7 1359.1M1406.8 1235.2A414.7 414.7 0 0 1 1417.2 1234.8M1422 1234.7A414.7 414.7 0 0 1 1432.4 1234.7M1437.2 1234.8A414.7 414.7 0 0 1 1442.5 1235M1447.3 1235.2A414.7 414.7 0 0 1 1477.9 1237.7M1527.4 1246.8A414.7 414.7 0 0 1 1532.6 1248.1M1537.2 1249.4A414.7 414.7 0 0 1 1542.3 1250.8M1546.9 1252.1A414.7 414.7 0 0 1 1552.1 1253.7M1556.6 1255.2A414.7 414.7 0 0 1 1561.7 1256.9M1715.9 1351A414.7 414.7 0 0 1 1719.7 1354.7M1743.6 1380.5A414.7 414.7 0 0 1 1747.1 1384.6M1799.3 1464.9A414.7 414.7 0 0 1 1801.6 1469.7M1832.9 1560.2A414.7 414.7 0 0 1 1834 1565.4M1836.8 1580.1A414.7 414.7 0 0 1 1837.6 1585.4M1842 1671A414.7 414.7 0 0 1 1841.7 1676.3M1830 1751A414.7 414.7 0 0 1 1828.6 1756.2M1800.4 1831.7A414.7 414.7 0 0 1 1798 1836.5M1788.6 1854.1A414.7 414.7 0 0 1 1785.9 1858.8M1735.2 1927.9A414.7 414.7 0 0 1 1731.6 1931.8M1596.7 2028.2A414.7 414.7 0 0 1 1591.8 2030.3M1524.9 2052.6A414.7 414.7 0 0 1 1519.6 2053.8M1285.5 2038.9A414.7 414.7 0 0 1 1280.5 2037M1187.2 1987.1A414.7 414.7 0 0 1 1182.9 1984M1133.2 1941.2A414.7 414.7 0 0 1 1129.5 1937.4M1074 1865.6A414.7 414.7 0 0 1 1071.2 1861M1014.3 1679.2A414.7 414.7 0 0 1 1013.9 1673.8M1013.2 1653.9A414.7 414.7 0 0 1 1013.2 1648.5M1014 1623.5A414.7 414.7 0 0 1 1014.4 1618.2M1016.4 1598.3A414.7 414.7 0 0 1 1017.1 1593M1021.2 1568.3A414.7 414.7 0 0 1 1022.3 1563M1024.5 1553.4A414.7 414.7 0 0 1 1025.7 1548.2M1028.2 1538.7A414.7 414.7 0 0 1 1029.7 1533.6M1032.6 1524.1A414.7 414.7 0 0 1 1034.2 1519M1035.7 1514.5A414.7 414.7 0 0 1 1037.5 1509.5M1080.5 1409.9A421.9 421.9 0 0 1 1083.6 1405.5M1112.3 1369.4A421.9 421.9 0 0 1 1115.9 1365.3M1122.7 1358A421.9 421.9 0 0 1 1126.5 1354.1M1215.5 1284.8A421.9 421.9 0 0 1 1220.3 1282.1M1266.3 1259.6A421.9 421.9 0 0 1 1271.3 1257.6M1365.4 1232.1A421.9 421.9 0 0 1 1370.8 1231.3M1401.3 1228.3A421.9 421.9 0 0 1 1406.7 1228M1411.6 1227.8A421.9 421.9 0 0 1 1417 1227.6M1421.9 1227.5A421.9 421.9 0 0 1 1432.5 1227.5M1437.3 1227.6A421.9 421.9 0 0 1 1442.8 1227.7M1452.8 1228.2A421.9 421.9 0 0 1 1463.4 1229M1468.2 1229.4A421.9 421.9 0 0 1 1478.7 1230.5M1483.6 1231.1A421.9 421.9 0 0 1 1489 1231.9M1519.1 1237.4A421.9 421.9 0 0 1 1524.4 1238.6M1529.1 1239.8A421.9 421.9 0 0 1 1534.4 1241.1M1539.1 1242.4A421.9 421.9 0 0 1 1549.3 1245.3M1558.8 1248.3A421.9 421.9 0 0 1 1568.9 1251.7M1805.8 1461.7A421.9 421.9 0 0 1 1808.2 1466.6M1837.6 1548.6A421.9 421.9 0 0 1 1838.9 1553.9M1840 1558.7A421.9 421.9 0 0 1 1841.1 1564M1843.9 1578.9A421.9 421.9 0 0 1 1844.8 1584.3M1806.9 1834.9A421.9 421.9 0 0 1 1804.5 1839.8M1760.5 1909.1A421.9 421.9 0 0 1 1757.1 1913.3M1740.6 1932.7A421.9 421.9 0 0 1 1736.9 1936.7M1613.7 2028.2A421.9 421.9 0 0 1 1608.8 2030.6M1526.5 2059.6A421.9 421.9 0 0 1 1521.2 2060.9M1419.2 2071.3A421.9 421.9 0 0 1 1413.8 2071.1M1342.5 2062.6A421.9 421.9 0 0 1 1337.2 2061.5M1273.4 2042A421.9 421.9 0 0 1 1268.3 2040M1183 1993A421.9 421.9 0 0 1 1178.6 1989.8M1045.9 1828.5A421.9 421.9 0 0 1 1043.6 1823.6M1007.1 1679.7A421.9 421.9 0 0 1 1006.7 1674.3M1006.2 1664.3A421.9 421.9 0 0 1 1006 1653.7M1006.8 1623.1A421.9 421.9 0 0 1 1007.2 1617.6M1009.2 1597.4A421.9 421.9 0 0 1 1009.9 1592M1017.4 1551.8A421.9 421.9 0 0 1 1018.7 1546.5M1021.3 1536.8A421.9 421.9 0 0 1 1024.2 1526.6M1028.9 1512.2A421.9 421.9 0 0 1 1030.7 1507M1083.7 1393A429.2 429.2 0 0 1 1087 1388.6M1106.9 1364.6A429.2 429.2 0 0 1 1110.6 1360.4M1113.9 1356.8A429.2 429.2 0 0 1 1117.7 1352.8M1313.1 1235.9A429.2 429.2 0 0 1 1318.4 1234.4M1406 1220.8A429.2 429.2 0 0 1 1416.8 1220.4M1421.8 1220.3A429.2 429.2 0 0 1 1432.5 1220.2M1437.5 1220.3A429.2 429.2 0 0 1 1443 1220.5M1453.2 1221A429.2 429.2 0 0 1 1479.6 1223.3M1530.9 1232.8A429.2 429.2 0 0 1 1536.2 1234.1M1541 1235.4A429.2 429.2 0 0 1 1546.3 1236.9M1561.1 1241.4A429.2 429.2 0 0 1 1566.4 1243.2M1714.4 1329.9A429.2 429.2 0 0 1 1718.5 1333.6M1725.9 1340.6A429.2 429.2 0 0 1 1729.9 1344.4M1754.6 1371.1A429.2 429.2 0 0 1 1758.2 1375.4M1844.7 1546.9A429.2 429.2 0 0 1 1845.9 1552.3M1847 1557.1A429.2 429.2 0 0 1 1848.2 1562.5M1851 1577.7A429.2 429.2 0 0 1 1851.9 1583.1M1745.9 1937.6A429.2 429.2 0 0 1 1742.2 1941.7M1688.1 1990.7A429.2 429.2 0 0 1 1683.7 1994M1616.8 2034.7A429.2 429.2 0 0 1 1611.9 2037.2M1398.1 2077.5A429.2 429.2 0 0 1 1392.6 2077.1M1178.8 1998.9A429.2 429.2 0 0 1 1174.3 1995.6M1023.4 1792.8A429.2 429.2 0 0 1 1021.6 1787.6M999.8 1680.2A429.2 429.2 0 0 1 999.5 1674.7M999 1664.5A429.2 429.2 0 0 1 998.7 1648.5M1002 1596.5A429.2 429.2 0 0 1 1002.7 1591M1007 1565.5A429.2 429.2 0 0 1 1008.1 1560M1014.3 1534.9A429.2 429.2 0 0 1 1018.9 1519.5M1022.1 1509.8A429.2 429.2 0 0 1 1023.9 1504.6M1068.6 1401.7A436.4 436.4 0 0 1 1071.8 1397.1M1112.3 1348A436.4 436.4 0 0 1 1116.2 1343.9M1295.8 1233.5A436.4 436.4 0 0 1 1301.2 1231.8M1311.1 1228.9A436.4 436.4 0 0 1 1316.6 1227.4M1405.7 1213.5A436.4 436.4 0 0 1 1416.6 1213.1M1421.7 1213A436.4 436.4 0 0 1 1432.6 1213M1437.6 1213.1A436.4 436.4 0 0 1 1443.3 1213.3M1448.3 1213.5A436.4 436.4 0 0 1 1480.5 1216.2M1501.3 1219.2A436.4 436.4 0 0 1 1506.8 1220.2M1532.6 1225.7A436.4 436.4 0 0 1 1538.1 1227.1M1542.9 1228.4A436.4 436.4 0 0 1 1548.3 1229.9M1563.3 1234.5A436.4 436.4 0 0 1 1573.7 1238.1M1588.4 1243.6A436.4 436.4 0 0 1 1593.6 1245.7M1731 1335.4A436.4 436.4 0 0 1 1735 1339.3M1789.2 1404.6A436.4 436.4 0 0 1 1792.3 1409.3M1823.4 1464.8A436.4 436.4 0 0 1 1825.7 1469.9M1851.7 1545.2A436.4 436.4 0 0 1 1853 1550.6M1854.1 1555.5A436.4 436.4 0 0 1 1855.3 1561M1858.2 1576.5A436.4 436.4 0 0 1 1859.1 1582M1751.3 1942.4A436.4 436.4 0 0 1 1747.5 1946.6M1605.5 2048A436.4 436.4 0 0 1 1600.4 2050.3M1268.1 2055.5A436.4 436.4 0 0 1 1262.9 2053.4M1117.8 1956.5A436.4 436.4 0 0 1 1113.9 1952.5M992.6 1680.8A436.4 436.4 0 0 1 992.2 1675.1M1001 1558.8A436.4 436.4 0 0 1 1002.2 1553.3M1003.3 1548.4A436.4 436.4 0 0 1 1004.7 1542.9M1007.3 1532.9A436.4 436.4 0 0 1 1010.4 1522.4M1045.2 1425A443.7 443.7 0 0 1 1048.1 1420.1M1062.6 1397.6A443.7 443.7 0 0 1 1065.9 1392.9M1096 1355A443.7 443.7 0 0 1 1099.9 1350.7M1248 1243.8A443.7 443.7 0 0 1 1253.3 1241.6M1258 1239.6A443.7 443.7 0 0 1 1263.3 1237.4M1405.3 1206.3A443.7 443.7 0 0 1 1416.4 1205.9M1427 1205.7A443.7 443.7 0 0 1 1432.7 1205.8M1437.8 1205.9A443.7 443.7 0 0 1 1443.5 1206M1448.6 1206.2A443.7 443.7 0 0 1 1481.4 1209M1502.5 1212.1A443.7 443.7 0 0 1 1508.1 1213.1M1523.8 1216.2A443.7 443.7 0 0 1 1529.4 1217.5M1534.3 1218.7A443.7 443.7 0 0 1 1539.9 1220.1M1544.8 1221.4A443.7 443.7 0 0 1 1555.5 1224.5M1565.6 1227.6A443.7 443.7 0 0 1 1571 1229.5M1724.1 1319.1A443.7 443.7 0 0 1 1728.3 1322.9M1765.7 1361.7A443.7 443.7 0 0 1 1769.4 1366.1M1829.9 1461.8A443.7 443.7 0 0 1 1832.3 1467M1858.7 1543.4A443.7 443.7 0 0 1 1860 1549M1861.2 1554A443.7 443.7 0 0 1 1862.4 1559.6M1865.3 1575.3A443.7 443.7 0 0 1 1866.2 1580.9M1871 1672.5A443.7 443.7 0 0 1 1870.6 1678.2M1868.7 1699.5A443.7 443.7 0 0 1 1868 1705.2M1858 1758.1A443.7 443.7 0 0 1 1856.6 1763.6M1756.7 1947.3A443.7 443.7 0 0 1 1752.8 1951.5M1717.9 1985.1A443.7 443.7 0 0 1 1713.6 1988.9M1642.4 2037.7A443.7 443.7 0 0 1 1637.4 2040.5M1623.2 2047.8A443.7 443.7 0 0 1 1618.1 2050.2M1521.1 2083.2A443.7 443.7 0 0 1 1515.4 2084.3M1451.3 2092.4A443.7 443.7 0 0 1 1445.6 2092.7M1397.1 2092A443.7 443.7 0 0 1 1391.4 2091.6M1265.4 2062.2A443.7 443.7 0 0 1 1260.1 2060.1M987.6 1594.7A443.7 443.7 0 0 1 988.4 1589M993.9 1557.3A443.7 443.7 0 0 1 995.1 1551.7M1000.3 1531A443.7 443.7 0 0 1 1003.4 1520.3M1038.9 1421.4A450.9 450.9 0 0 1 1044.8 1411.7M1056.7 1393.5A450.9 450.9 0 0 1 1060 1388.7M1090.6 1350.2A450.9 450.9 0 0 1 1094.5 1345.8M1101.8 1338A450.9 450.9 0 0 1 1105.9 1333.8M1255.2 1232.9A450.9 450.9 0 0 1 1260.6 1230.7M1307.3 1214.9A450.9 450.9 0 0 1 1312.9 1213.4M1404.9 1199.1A450.9 450.9 0 0 1 1410.7 1198.8M1415.9 1198.7A450.9 450.9 0 0 1 1432.8 1198.5M1438 1198.6A450.9 450.9 0 0 1 1443.8 1198.8M1449 1199A450.9 450.9 0 0 1 1482.2 1201.8M1546.7 1214.4A450.9 450.9 0 0 1 1552.3 1216M1567.8 1220.8A450.9 450.9 0 0 1 1578.6 1224.4M1603.9 1234.3A450.9 450.9 0 0 1 1609.3 1236.6M1771.2 1357A450.9 450.9 0 0 1 1774.9 1361.5M1791.7 1383A450.9 450.9 0 0 1 1795.1 1387.7M1831.7 1448.8A450.9 450.9 0 0 1 1834.3 1454M1864.4 1536.4A450.9 450.9 0 0 1 1865.8 1542M1868.2 1552.4A450.9 450.9 0 0 1 1869.5 1558.1M1872.5 1574A450.9 450.9 0 0 1 1873.4 1579.8M1872 1727.5A450.9 450.9 0 0 1 1870.9 1733.3M1783.3 1926.9A450.9 450.9 0 0 1 1779.7 1931.4M1762 1952.2A450.9 450.9 0 0 1 1758.1 1956.5M1678.9 2024A450.9 450.9 0 0 1 1674 2027.2M1645.9 2044.1A450.9 450.9 0 0 1 1640.8 2046.9M1451.7 2099.7A450.9 450.9 0 0 1 1445.8 2099.9M1396.6 2099.2A450.9 450.9 0 0 1 1390.8 2098.8M1262.8 2069A450.9 450.9 0 0 1 1257.4 2066.8M1166.2 2016.6A450.9 450.9 0 0 1 1161.5 2013.2M977.3 1665.3A450.9 450.9 0 0 1 977.1 1659.5M980.4 1593.8A450.9 450.9 0 0 1 981.2 1588M989.2 1545.1A450.9 450.9 0 0 1 990.6 1539.4M998.1 1513.2A450.9 450.9 0 0 1 999.9 1507.7M1001.5 1502.8A450.9 450.9 0 0 1 1003.4 1497.3" stroke="#EEF3FB" stroke-width="7.5" fill="none"/>
<path d="M1504.8 1256.6A400.2 400.2 0 0 1 1509.9 1257.7M1621.4 1999.7A400.2 400.2 0 0 1 1616.9 2002.2M1590.8 2015A400.2 400.2 0 0 1 1586.1 2017M1065.5 1819.3A400.2 400.2 0 0 1 1063.4 1814.6M1177.5 1328A407.5 407.5 0 0 1 1181.7 1324.8M1262.7 1276.9A407.5 407.5 0 0 1 1267.5 1274.8M1271.8 1273A407.5 407.5 0 0 1 1276.7 1271M1447 1242.4A407.5 407.5 0 0 1 1452.2 1242.7M1525.6 1253.8A407.5 407.5 0 0 1 1530.7 1255.1M1829.6 1581.3A407.5 407.5 0 0 1 1830.5 1586.5M1716.1 1937.4A407.5 407.5 0 0 1 1712.4 1941.1M1624.9 2006A407.5 407.5 0 0 1 1620.3 2008.6M1607.3 2015.2A407.5 407.5 0 0 1 1602.5 2017.5M1419.5 2056.8A407.5 407.5 0 0 1 1414.2 2056.6M1173 1322.3A414.7 414.7 0 0 1 1177.3 1319M1259.8 1270.3A414.7 414.7 0 0 1 1264.7 1268.2M1269.1 1266.3A414.7 414.7 0 0 1 1274 1264.3M1507.6 1242.4A414.7 414.7 0 0 1 1512.8 1243.5M1704.7 1340.6A414.7 414.7 0 0 1 1708.7 1344.2M1839.7 1600.2A414.7 414.7 0 0 1 1840.3 1605.5M1628.4 2012.4A414.7 414.7 0 0 1 1623.7 2014.9M1610.5 2021.7A414.7 414.7 0 0 1 1605.6 2024.1M1419.4 2064A414.7 414.7 0 0 1 1414 2063.9M1052.4 1825.4A414.7 414.7 0 0 1 1050.2 1820.6M1256.8 1263.7A421.9 421.9 0 0 1 1261.8 1261.5M1447.6 1227.9A421.9 421.9 0 0 1 1453.1 1228.2M1509 1235.3A421.9 421.9 0 0 1 1514.3 1236.4M1709.6 1335.2A421.9 421.9 0 0 1 1713.6 1338.9M1749.1 1375.8A421.9 421.9 0 0 1 1752.6 1380M1846.9 1599.3A421.9 421.9 0 0 1 1847.5 1604.7M1631.9 2018.7A421.9 421.9 0 0 1 1627.2 2021.3M1283 2045.7A421.9 421.9 0 0 1 1277.9 2043.8M1006.4 1669.4A421.9 421.9 0 0 1 1006.2 1664M1074.5 1405.8A429.2 429.2 0 0 1 1077.7 1401.3M1253.9 1257.1A429.2 429.2 0 0 1 1259 1254.9M1263.5 1252.9A429.2 429.2 0 0 1 1268.7 1250.9M1448 1220.7A429.2 429.2 0 0 1 1453.5 1221M1510.4 1228.2A429.2 429.2 0 0 1 1515.8 1229.3M1854 1598.4A429.2 429.2 0 0 1 1854.7 1603.9M1731.5 1952.8A429.2 429.2 0 0 1 1727.5 1956.7M1635.4 2025.1A429.2 429.2 0 0 1 1630.6 2027.7M1602.6 2041.4A429.2 429.2 0 0 1 1597.5 2043.6M1419.1 2078.5A429.2 429.2 0 0 1 1413.5 2078.3M1039.3 1831.6A429.2 429.2 0 0 1 1037 1826.6M1250.9 1250.5A436.4 436.4 0 0 1 1256.1 1248.2M1511.8 1221.1A436.4 436.4 0 0 1 1517.3 1222.2M1719.2 1324.5A436.4 436.4 0 0 1 1723.4 1328.3M1760.2 1366.4A436.4 436.4 0 0 1 1763.8 1370.7M1861.2 1597.6A436.4 436.4 0 0 1 1861.9 1603.2M1638.9 2031.4A436.4 436.4 0 0 1 1634 2034.1M1620 2041.3A436.4 436.4 0 0 1 1615 2043.7M1278.1 2059.3A436.4 436.4 0 0 1 1272.8 2057.3M1183.4 2010.9A436.4 436.4 0 0 1 1178.7 2007.7M1032.8 1834.7A436.4 436.4 0 0 1 1030.4 1829.5M1028.3 1825A436.4 436.4 0 0 1 1026.1 1819.8M1421.6 1205.8A443.7 443.7 0 0 1 1427.3 1205.7M1513.2 1214A443.7 443.7 0 0 1 1518.8 1215.1M1868.4 1596.7A443.7 443.7 0 0 1 1869.1 1602.4M1418.8 2093A443.7 443.7 0 0 1 1413 2092.8M1275.6 2066.1A443.7 443.7 0 0 1 1270.2 2064.1M1021.7 1827.9A443.7 443.7 0 0 1 1019.4 1822.6M985.4 1681.3A443.7 443.7 0 0 1 985 1675.6M984.7 1670.5A443.7 443.7 0 0 1 984.5 1664.7M1245.1 1237.2A450.9 450.9 0 0 1 1250.4 1234.9M1514.6 1206.9A450.9 450.9 0 0 1 1520.3 1208.1M1536.1 1211.7A450.9 450.9 0 0 1 1541.7 1213.1M1728.9 1313.7A450.9 450.9 0 0 1 1733.2 1317.6M1626.4 2054.3A450.9 450.9 0 0 1 1621.2 2056.8M1611.4 2061.3A450.9 450.9 0 0 1 1606.1 2063.6M1418.6 2100.2A450.9 450.9 0 0 1 1412.8 2100M1273.1 2072.9A450.9 450.9 0 0 1 1267.6 2070.9M978.2 1681.8A450.9 450.9 0 0 1 977.8 1676M981.9 1582.9A450.9 450.9 0 0 1 982.8 1577.2" stroke="#E6EEFA" stroke-width="7.5" fill="none"/>
<path d="M1170.5 1342.9A400.2 400.2 0 0 1 1178.3 1336.5M1181.9 1333.7A400.2 400.2 0 0 1 1186 1330.5M1265.6 1283.6A400.2 400.2 0 0 1 1270.4 1281.5M1274.6 1279.7A400.2 400.2 0 0 1 1279.4 1277.7M1825.3 1601.9A400.2 400.2 0 0 1 1825.9 1607M1711 1932.3A400.2 400.2 0 0 1 1707.3 1935.9M1704 1939.1A400.2 400.2 0 0 1 1700.2 1942.7M1502.3 2042.6A400.2 400.2 0 0 1 1497.3 2043.6M1299.7 2028.5A400.2 400.2 0 0 1 1294.8 2026.9M1290.5 2025.3A400.2 400.2 0 0 1 1285.6 2023.5M1203.6 1980.9A400.2 400.2 0 0 1 1199.4 1978M1061.5 1810.4A400.2 400.2 0 0 1 1059.4 1805.6M1028.1 1668.4A400.2 400.2 0 0 1 1027.9 1663.2M1027.7 1644A400.2 400.2 0 0 1 1027.8 1638.8M1032.1 1590.4A400.2 400.2 0 0 1 1032.9 1585.3M1037.4 1561.5A400.2 400.2 0 0 1 1038.6 1556.5M1165.9 1337.4A407.5 407.5 0 0 1 1173.8 1330.9M1506.2 1249.5A407.5 407.5 0 0 1 1511.4 1250.6M1605.1 1282.5A407.5 407.5 0 0 1 1609.8 1284.8M1832.5 1601A407.5 407.5 0 0 1 1833.1 1606.2M1709 1944.4A407.5 407.5 0 0 1 1705.2 1948M1593.8 2021.6A407.5 407.5 0 0 1 1588.9 2023.7M1503.7 2049.7A407.5 407.5 0 0 1 1498.5 2050.7M1288 2032.1A407.5 407.5 0 0 1 1283.1 2030.3M1199.6 1986.9A407.5 407.5 0 0 1 1195.2 1983.9M1059 1822.4A407.5 407.5 0 0 1 1056.8 1817.6M1054.9 1813.3A407.5 407.5 0 0 1 1052.8 1808.5M1020.9 1668.7A407.5 407.5 0 0 1 1020.7 1663.5M1024.9 1589.3A407.5 407.5 0 0 1 1025.7 1584.1M1030.4 1560A407.5 407.5 0 0 1 1031.6 1554.8M1161.2 1331.8A414.7 414.7 0 0 1 1165.3 1328.4M1721.2 1942.5A414.7 414.7 0 0 1 1717.4 1946.3M1714 1949.6A414.7 414.7 0 0 1 1710.1 1953.3M1505 2056.9A414.7 414.7 0 0 1 1499.8 2057.8M1319.3 2049.6A414.7 414.7 0 0 1 1314.1 2048.2M1295.1 2042.3A414.7 414.7 0 0 1 1290 2040.5M1195.5 1992.9A414.7 414.7 0 0 1 1191.1 1989.8M1048.2 1816.2A414.7 414.7 0 0 1 1046.1 1811.3M1013.7 1669.1A414.7 414.7 0 0 1 1013.4 1663.7M1013.2 1643.8A414.7 414.7 0 0 1 1013.3 1638.4M1017.7 1588.2A414.7 414.7 0 0 1 1018.6 1583M1023.3 1558.4A414.7 414.7 0 0 1 1024.5 1553.2M1160.5 1323A421.9 421.9 0 0 1 1164.8 1319.6M1168.6 1316.5A421.9 421.9 0 0 1 1172.9 1313.2M1726.4 1947.7A421.9 421.9 0 0 1 1722.5 1951.5M1719 1954.9A421.9 421.9 0 0 1 1715 1958.6M1599.7 2034.8A421.9 421.9 0 0 1 1594.7 2037M1317.4 2056.6A421.9 421.9 0 0 1 1312.2 2055.2M1292.8 2049.1A421.9 421.9 0 0 1 1287.6 2047.3M1191.5 1998.9A421.9 421.9 0 0 1 1187 1995.8M1041.6 1819.1A421.9 421.9 0 0 1 1039.4 1814.1M1010.6 1587.2A421.9 421.9 0 0 1 1011.4 1581.8M1016.3 1556.8A421.9 421.9 0 0 1 1017.5 1551.5M1080.6 1397.3A429.2 429.2 0 0 1 1083.9 1392.8M1155.9 1317.4A429.2 429.2 0 0 1 1160.3 1313.9M1164.1 1310.8A429.2 429.2 0 0 1 1168.5 1307.5M1724 1960.1A429.2 429.2 0 0 1 1719.9 1963.9M1507.7 2071.1A429.2 429.2 0 0 1 1502.3 2072.1M1315.5 2063.6A429.2 429.2 0 0 1 1310.2 2062.1M1280.5 2052.5A429.2 429.2 0 0 1 1275.4 2050.6M1187.4 2004.9A429.2 429.2 0 0 1 1182.8 2001.7M1035 1822A429.2 429.2 0 0 1 1032.8 1817M999.2 1669.8A429.2 429.2 0 0 1 999 1664.2M998.8 1643.6A429.2 429.2 0 0 1 998.9 1638M1003.4 1586.1A429.2 429.2 0 0 1 1004.3 1580.6M1074.7 1393A436.4 436.4 0 0 1 1078.1 1388.5M1151.4 1311.8A436.4 436.4 0 0 1 1155.7 1308.2M1159.7 1305.1A436.4 436.4 0 0 1 1164.2 1301.7M1260.7 1246.3A436.4 436.4 0 0 1 1266 1244.1M1736.6 1957.9A436.4 436.4 0 0 1 1732.6 1961.8M1729 1965.3A436.4 436.4 0 0 1 1724.9 1969.2M1509.1 2078.2A436.4 436.4 0 0 1 1503.5 2079.2M1418.9 2085.7A436.4 436.4 0 0 1 1413.3 2085.6M992 1670.1A436.4 436.4 0 0 1 991.7 1664.5M991.5 1643.5A436.4 436.4 0 0 1 991.6 1637.8M996.3 1585A436.4 436.4 0 0 1 997.1 1579.5M1002.1 1553.6A436.4 436.4 0 0 1 1003.4 1548.1M1146.8 1306.2A443.7 443.7 0 0 1 1151.2 1302.6M1155.2 1299.4A443.7 443.7 0 0 1 1159.8 1295.9M1871.5 1645.4A443.7 443.7 0 0 1 1871.6 1651.1M1741.7 1963A443.7 443.7 0 0 1 1737.6 1967M1734 1970.6A443.7 443.7 0 0 1 1729.8 1974.5M1608.5 2054.6A443.7 443.7 0 0 1 1603.2 2056.9M1285.8 2069.7A443.7 443.7 0 0 1 1280.4 2067.8M1179.3 2016.9A443.7 443.7 0 0 1 1174.6 2013.6M1026.2 1837.7A443.7 443.7 0 0 1 1023.8 1832.5M984.3 1643.4A443.7 443.7 0 0 1 984.4 1637.6M989.1 1584A443.7 443.7 0 0 1 990 1578.3M995.1 1552A443.7 443.7 0 0 1 996.4 1546.4M1063 1384.5A450.9 450.9 0 0 1 1066.5 1379.8M1137.9 1304.1A450.9 450.9 0 0 1 1146.7 1296.9M1150.8 1293.7A450.9 450.9 0 0 1 1155.4 1290.1M1875.6 1595.9A450.9 450.9 0 0 1 1876.3 1601.6M1746.8 1968.1A450.9 450.9 0 0 1 1742.7 1972.2M1739 1975.8A450.9 450.9 0 0 1 1734.7 1979.8M1580.8 2073.6A450.9 450.9 0 0 1 1575.3 2075.5M1309.8 2084.6A450.9 450.9 0 0 1 1304.2 2083M1175.2 2022.9A450.9 450.9 0 0 1 1170.4 2019.6M1015.1 1830.8A450.9 450.9 0 0 1 1012.8 1825.4" stroke="#DFE8F7" stroke-width="7.5" fill="none"/>
<path d="M1279.1 1277.9A400.2 400.2 0 0 1 1284 1276M1602 1289A400.2 400.2 0 0 1 1611 1293.5M1828.1 1645.8A400.2 400.2 0 0 1 1828.1 1650.9M1625.7 1997.3A400.2 400.2 0 0 1 1621.2 1999.8M1563.6 2025.9A400.2 400.2 0 0 1 1558.7 2027.6M1473.3 2047A400.2 400.2 0 0 1 1468.2 2047.6M1098.2 1410A407.5 407.5 0 0 1 1101.3 1405.8M1665 1318A407.5 407.5 0 0 1 1669.2 1321.1M1815.4 1523.4A407.5 407.5 0 0 1 1817 1528.4M1835.3 1645.7A407.5 407.5 0 0 1 1835.4 1651M1629.3 2003.6A407.5 407.5 0 0 1 1624.7 2006.2M1566.1 2032.7A407.5 407.5 0 0 1 1561.1 2034.5M1474.2 2054.2A407.5 407.5 0 0 1 1468.9 2054.8M1321.2 2042.6A407.5 407.5 0 0 1 1316.1 2041.2M1297.4 2035.4A407.5 407.5 0 0 1 1292.4 2033.7M1020.5 1643.9A407.5 407.5 0 0 1 1020.6 1638.6M1092.3 1405.8A414.7 414.7 0 0 1 1095.5 1401.4M1165.1 1328.6A414.7 414.7 0 0 1 1169.3 1325.2M1608.3 1276A414.7 414.7 0 0 1 1613.1 1278.3M1669.2 1312.1A414.7 414.7 0 0 1 1673.5 1315.3M1822.3 1521.1A414.7 414.7 0 0 1 1823.9 1526.2M1842.6 1645.6A414.7 414.7 0 0 1 1842.6 1651M1632.9 2009.9A414.7 414.7 0 0 1 1628.2 2012.5M1568.5 2039.5A414.7 414.7 0 0 1 1563.5 2041.3M1086.5 1401.5A421.9 421.9 0 0 1 1089.7 1397.1M1156.6 1326.3A421.9 421.9 0 0 1 1160.8 1322.8M1360.3 1232.9A421.9 421.9 0 0 1 1365.7 1232.1M1611.4 1269.5A421.9 421.9 0 0 1 1616.3 1271.9M1849.8 1645.6A421.9 421.9 0 0 1 1849.8 1651M1636.4 2016.2A421.9 421.9 0 0 1 1631.7 2018.9M1571 2046.3A421.9 421.9 0 0 1 1565.8 2048.2M1506.4 2064A421.9 421.9 0 0 1 1501 2065M1006 1643.7A421.9 421.9 0 0 1 1006.1 1638.2M1151.9 1320.7A429.2 429.2 0 0 1 1156.2 1317.2M1614.6 1262.9A429.2 429.2 0 0 1 1624.2 1267.7M1857.1 1645.5A429.2 429.2 0 0 1 1857.1 1651M1476.6 2075.8A429.2 429.2 0 0 1 1471.1 2076.4M1290.4 2056A429.2 429.2 0 0 1 1285.2 2054.2M1009.2 1555.2A429.2 429.2 0 0 1 1010.4 1549.8M1147.3 1315.2A436.4 436.4 0 0 1 1151.6 1311.6M1617.7 1256.4A436.4 436.4 0 0 1 1627.5 1261.3M1842.9 1514.4A436.4 436.4 0 0 1 1844.6 1519.8M1864.3 1645.4A436.4 436.4 0 0 1 1864.3 1651.1M1643.6 2028.8A436.4 436.4 0 0 1 1638.7 2031.5M1313.6 2070.6A436.4 436.4 0 0 1 1308.2 2069.1M1288.1 2062.8A436.4 436.4 0 0 1 1282.8 2061M1068.9 1388.7A443.7 443.7 0 0 1 1072.3 1384.1M1142.6 1309.6A443.7 443.7 0 0 1 1147 1306M1620.9 1249.9A443.7 443.7 0 0 1 1630.8 1254.9M1849.8 1512.2A443.7 443.7 0 0 1 1851.5 1517.6M1647.2 2035.1A443.7 443.7 0 0 1 1642.2 2037.9M1578.3 2066.8A443.7 443.7 0 0 1 1572.9 2068.7M1510.4 2085.3A443.7 443.7 0 0 1 1504.8 2086.3M1478.3 2090.2A443.7 443.7 0 0 1 1472.6 2090.8M1311.7 2077.6A443.7 443.7 0 0 1 1306.2 2076M1624 1243.4A450.9 450.9 0 0 1 1634.1 1248.4M1763.9 1348.7A450.9 450.9 0 0 1 1767.8 1353.1M1856.7 1509.9A450.9 450.9 0 0 1 1858.4 1515.5M1878.8 1645.3A450.9 450.9 0 0 1 1878.8 1651.1M1650.8 2041.4A450.9 450.9 0 0 1 1645.7 2044.2M1511.8 2092.4A450.9 450.9 0 0 1 1506 2093.5M1283.5 2076.5A450.9 450.9 0 0 1 1278 2074.6M977 1643.3A450.9 450.9 0 0 1 977.2 1637.4" stroke="#CEDCF3" stroke-width="7.5" fill="none"/>
<path d="M1330.3 1261.3A400.2 400.2 0 0 1 1335.3 1260M1363.8 1254.4A400.2 400.2 0 0 1 1368.9 1253.6M1660.8 1323.9A400.2 400.2 0 0 1 1664.9 1326.9M1726.2 1382.5A400.2 400.2 0 0 1 1729.6 1386.4M1808.5 1525.6A400.2 400.2 0 0 1 1810.1 1530.5M1822.5 1582.5A400.2 400.2 0 0 1 1823.3 1587.6M1183.8 1966.6A400.2 400.2 0 0 1 1179.7 1963.4M1276.5 1271.1A407.5 407.5 0 0 1 1281.3 1269.2M1328.5 1254.3A407.5 407.5 0 0 1 1333.6 1253M1362.6 1247.2A407.5 407.5 0 0 1 1367.8 1246.4M1609.6 1284.7A407.5 407.5 0 0 1 1614.3 1287.1M1731.6 1377.7A407.5 407.5 0 0 1 1735 1381.7M1179.4 1972.3A407.5 407.5 0 0 1 1175.3 1969.1M1273.8 1264.4A414.7 414.7 0 0 1 1278.7 1262.5M1326.7 1247.2A414.7 414.7 0 0 1 1331.9 1246M1361.5 1240.1A414.7 414.7 0 0 1 1366.7 1239.2M1612.8 1278.2A414.7 414.7 0 0 1 1622.1 1283M1737 1372.9A414.7 414.7 0 0 1 1740.5 1376.9M1475 2061.4A414.7 414.7 0 0 1 1469.7 2062M1175 1978.1A414.7 414.7 0 0 1 1170.8 1974.8M1271.1 1257.7A421.9 421.9 0 0 1 1276.1 1255.7M1325 1240.2A421.9 421.9 0 0 1 1330.3 1238.9M1616 1271.7A421.9 421.9 0 0 1 1620.9 1274.2M1673.4 1306.2A421.9 421.9 0 0 1 1677.8 1309.4M1742.3 1368.1A421.9 421.9 0 0 1 1746 1372.1M1829.1 1518.9A421.9 421.9 0 0 1 1830.8 1524.1M1475.8 2068.6A421.9 421.9 0 0 1 1470.4 2069.2M1170.6 1983.8A421.9 421.9 0 0 1 1166.3 1980.4M1268.4 1251A429.2 429.2 0 0 1 1273.5 1248.9M1323.2 1233.2A429.2 429.2 0 0 1 1328.6 1231.9M1359.1 1225.8A429.2 429.2 0 0 1 1364.6 1224.9M1677.6 1300.3A429.2 429.2 0 0 1 1682.1 1303.6M1747.7 1363.2A429.2 429.2 0 0 1 1751.4 1367.4M1836 1516.6A429.2 429.2 0 0 1 1837.7 1521.9M1640 2022.5A429.2 429.2 0 0 1 1635.2 2025.2M1573.4 2053.2A429.2 429.2 0 0 1 1568.2 2055M1166.2 1989.5A429.2 429.2 0 0 1 1161.8 1986.1M1265.7 1244.2A436.4 436.4 0 0 1 1270.9 1242.2M1321.4 1226.2A436.4 436.4 0 0 1 1326.9 1224.8M1358 1218.6A436.4 436.4 0 0 1 1363.5 1217.8M1627.3 1261.2A436.4 436.4 0 0 1 1632.2 1263.8M1681.8 1294.5A436.4 436.4 0 0 1 1686.4 1297.8M1753.1 1358.4A436.4 436.4 0 0 1 1756.9 1362.6M1575.9 2060A436.4 436.4 0 0 1 1570.6 2061.8M1477.5 2083A436.4 436.4 0 0 1 1471.9 2083.6M1161.7 1995.3A436.4 436.4 0 0 1 1157.3 1991.8M1263 1237.5A443.7 443.7 0 0 1 1268.3 1235.4M1319.7 1219.1A443.7 443.7 0 0 1 1325.2 1217.8M1356.8 1211.5A443.7 443.7 0 0 1 1362.5 1210.6M1630.6 1254.7A443.7 443.7 0 0 1 1635.6 1257.4M1686 1288.6A443.7 443.7 0 0 1 1690.7 1291.9M1758.5 1353.6A443.7 443.7 0 0 1 1762.3 1357.9M1157.3 2001A443.7 443.7 0 0 1 1152.8 1997.5M1260.3 1230.8A450.9 450.9 0 0 1 1265.7 1228.7M1317.9 1212.1A450.9 450.9 0 0 1 1323.6 1210.7M1355.7 1204.3A450.9 450.9 0 0 1 1361.4 1203.4M1690.3 1282.7A450.9 450.9 0 0 1 1695 1286.1M1479.1 2097.4A450.9 450.9 0 0 1 1473.3 2098M1152.9 2006.7A450.9 450.9 0 0 1 1148.3 2003.2M988 1550.4A450.9 450.9 0 0 1 989.3 1544.8M993.4 1529.1A450.9 450.9 0 0 1 994.9 1523.5" stroke="#BED0EE" stroke-width="7.5" fill="none"/>
<path d="M1104 1414.3A400.2 400.2 0 0 1 1107.1 1410.1M1610.7 1293.4A400.2 400.2 0 0 1 1615.3 1295.8M1614 1286.9A407.5 407.5 0 0 1 1618.7 1289.4M1216.3 1997.6A407.5 407.5 0 0 1 1211.9 1994.9M1620.6 1274.1A421.9 421.9 0 0 1 1625.5 1276.6M1208.8 2010A421.9 421.9 0 0 1 1204.2 2007.1M1623.9 1267.6A429.2 429.2 0 0 1 1628.9 1270.2M1701.2 1998.9A443.7 443.7 0 0 1 1696.6 2002.4M1633.9 1248.3A450.9 450.9 0 0 1 1639 1251M1853.1 1499.5A450.9 450.9 0 0 1 1855 1505M1705.6 2004.6A450.9 450.9 0 0 1 1701 2008.2M1019.6 1840.8A450.9 450.9 0 0 1 1017.2 1835.5M977.5 1670.8A450.9 450.9 0 0 1 977.3 1665" stroke="#A0BBE8" stroke-width="7.5" fill="none"/>
<path d="M1383.1 1251.7A400.2 400.2 0 0 1 1388.3 1251.1M1674.4 1964.7A400.2 400.2 0 0 1 1670.3 1967.8M1323.1 2035.7A400.2 400.2 0 0 1 1318.1 2034.3M1220.1 1991.4A400.2 400.2 0 0 1 1215.7 1988.7M1028.8 1619.5A400.2 400.2 0 0 1 1029.2 1614.4M1382.3 1244.5A407.5 407.5 0 0 1 1387.6 1243.9M1812.2 1513.9A407.5 407.5 0 0 1 1813.9 1518.9M1678.9 1970.4A407.5 407.5 0 0 1 1674.7 1973.6M1819 1511.5A414.7 414.7 0 0 1 1820.8 1516.6M1683.3 1976.1A414.7 414.7 0 0 1 1679.1 1979.4M1212.6 2003.8A414.7 414.7 0 0 1 1208 2001M1701.8 1328.5A421.9 421.9 0 0 1 1705.9 1332M1825.8 1509.1A421.9 421.9 0 0 1 1827.6 1514.3M1687.8 1981.8A421.9 421.9 0 0 1 1683.5 1985.1M1832.7 1506.7A429.2 429.2 0 0 1 1834.5 1511.9M1692.2 1987.5A429.2 429.2 0 0 1 1687.9 1990.9M1379.1 1215.7A436.4 436.4 0 0 1 1384.7 1215.1M1839.5 1504.3A436.4 436.4 0 0 1 1841.3 1509.6M1696.7 1993.2A436.4 436.4 0 0 1 1692.2 1996.7M1846.3 1501.9A443.7 443.7 0 0 1 1848.2 1507.3M1377.5 1201.3A450.9 450.9 0 0 1 1383.3 1200.7M1193.8 2034.8A450.9 450.9 0 0 1 1188.8 2031.7" stroke="#85A7E2" stroke-width="7.5" fill="none"/>
<path d="M1302.1 1269.5A400.2 400.2 0 0 1 1307 1267.9M1687.7 1345A400.2 400.2 0 0 1 1691.6 1348.4M1805.4 1516.3A400.2 400.2 0 0 1 1807 1521.2M1828 1640.9A400.2 400.2 0 0 1 1828.1 1646M1429.4 2049.6A400.2 400.2 0 0 1 1424.3 2049.6M1046 1769.2A400.2 400.2 0 0 1 1044.5 1764.3M1381.5 1237.3A414.7 414.7 0 0 1 1386.9 1236.7M1697.1 1334A414.7 414.7 0 0 1 1701.2 1337.5M1429.5 2064.1A414.7 414.7 0 0 1 1424.1 2064.1M1380.7 1230.1A421.9 421.9 0 0 1 1386.1 1229.5M1025.3 1775.7A421.9 421.9 0 0 1 1023.7 1770.5M1244.4 1261.4A429.2 429.2 0 0 1 1249.4 1259.1M1379.9 1222.9A429.2 429.2 0 0 1 1385.4 1222.3M1706.5 1323A429.2 429.2 0 0 1 1710.7 1326.6M1857 1640.3A429.2 429.2 0 0 1 1857.1 1645.8M1429.5 2078.6A429.2 429.2 0 0 1 1424 2078.6M1205.1 2016.2A429.2 429.2 0 0 1 1200.3 2013.3M1711.2 1317.4A436.4 436.4 0 0 1 1715.5 1321.1M1201.3 2022.4A436.4 436.4 0 0 1 1196.5 2019.4M1378.3 1208.5A443.7 443.7 0 0 1 1384 1207.9M1871.5 1640A443.7 443.7 0 0 1 1871.5 1645.7M1197.5 2028.6A443.7 443.7 0 0 1 1192.7 2025.6M1004.6 1782.2A443.7 443.7 0 0 1 1002.9 1776.7M1429.6 2100.3A450.9 450.9 0 0 1 1423.8 2100.3" stroke="#6A94DD" stroke-width="7.5" fill="none"/>
<path d="M1215.9 1988.9A400.2 400.2 0 0 1 1211.6 1986.1M1299.8 1262.6A407.5 407.5 0 0 1 1304.8 1261M1692.4 1339.5A407.5 407.5 0 0 1 1696.4 1342.9M1835.3 1640.7A407.5 407.5 0 0 1 1835.3 1646M1212.1 1995A407.5 407.5 0 0 1 1207.7 1992.2M1039.1 1771.4A407.5 407.5 0 0 1 1037.6 1766.4M1021.6 1619A407.5 407.5 0 0 1 1022 1613.7M1250.5 1274.5A414.7 414.7 0 0 1 1255.4 1272.3M1208.3 2001.2A414.7 414.7 0 0 1 1203.7 1998.3M1032.2 1773.6A414.7 414.7 0 0 1 1030.6 1768.4M1014.4 1618.5A414.7 414.7 0 0 1 1014.8 1613.1M1849.7 1640.4A421.9 421.9 0 0 1 1849.8 1645.9M1429.5 2071.3A421.9 421.9 0 0 1 1424.1 2071.3M1007.1 1617.9A421.9 421.9 0 0 1 1007.6 1612.5M1200.6 2013.4A429.2 429.2 0 0 1 1195.9 2010.5M1864.2 1640.1A436.4 436.4 0 0 1 1864.3 1645.7M1862.6 1688A436.4 436.4 0 0 1 1862.1 1693.7M1196.8 2019.6A436.4 436.4 0 0 1 1192 2016.6M1715.9 1311.9A443.7 443.7 0 0 1 1720.3 1315.7M1720.6 1306.4A450.9 450.9 0 0 1 1725 1310.2M1878.7 1639.8A450.9 450.9 0 0 1 1878.8 1645.6" stroke="#5587DA" stroke-width="7.5" fill="none"/>
<path d="M1256.7 1287.6A400.2 400.2 0 0 1 1261.4 1285.4M1826.5 1684.8A400.2 400.2 0 0 1 1826.1 1690M1833.8 1685.5A407.5 407.5 0 0 1 1833.3 1690.7M1429.5 2056.9A407.5 407.5 0 0 1 1424.2 2056.8M1297.5 1255.7A414.7 414.7 0 0 1 1302.6 1254.1M1842.5 1640.6A414.7 414.7 0 0 1 1842.6 1645.9M1247.4 1268A421.9 421.9 0 0 1 1252.4 1265.7M1295.3 1248.8A421.9 421.9 0 0 1 1300.5 1247.2M1652 1291.9A421.9 421.9 0 0 1 1656.6 1294.8M1848.2 1686.8A421.9 421.9 0 0 1 1847.7 1692.2M1839.4 1742.7A421.9 421.9 0 0 1 1838.1 1748M1826.7 1787.3A421.9 421.9 0 0 1 1824.8 1792.5M1204.4 2007.3A421.9 421.9 0 0 1 1199.8 2004.4M1293 1242A429.2 429.2 0 0 1 1298.3 1240.3M1855.4 1687.4A429.2 429.2 0 0 1 1854.9 1692.9M999.9 1617.4A429.2 429.2 0 0 1 1000.4 1611.8M1290.7 1235.1A436.4 436.4 0 0 1 1296.1 1233.4M1659.7 1279.6A436.4 436.4 0 0 1 1664.4 1282.6M1840.3 1792.1A436.4 436.4 0 0 1 1838.5 1797.4M1429.6 2085.8A436.4 436.4 0 0 1 1423.9 2085.8M1011.5 1780.1A436.4 436.4 0 0 1 1009.8 1774.7M992.7 1616.8A436.4 436.4 0 0 1 993.2 1611.2M1288.4 1228.2A443.7 443.7 0 0 1 1293.9 1226.5M1663.5 1273.5A443.7 443.7 0 0 1 1668.4 1276.6M1869.8 1688.7A443.7 443.7 0 0 1 1869.3 1694.4M1429.6 2093.1A443.7 443.7 0 0 1 1423.9 2093M1192.9 2025.7A443.7 443.7 0 0 1 1188.1 2022.7M985.5 1616.3A443.7 443.7 0 0 1 985.9 1610.6M1286.2 1221.4A450.9 450.9 0 0 1 1291.7 1219.6M1877 1689.3A450.9 450.9 0 0 1 1876.5 1695.1M1854 1796.8A450.9 450.9 0 0 1 1852.1 1802.3M1189.1 2031.9A450.9 450.9 0 0 1 1184.2 2028.8" stroke="#417ADB" stroke-width="7.5" fill="none"/>
<path d="M1806.1 1780.2A400.2 400.2 0 0 1 1804.4 1785.1M1253.6 1281.1A407.5 407.5 0 0 1 1258.4 1278.9M1813 1782.6A407.5 407.5 0 0 1 1811.2 1787.6M1841 1686.1A414.7 414.7 0 0 1 1840.5 1691.5M1650.2 1999.5A414.7 414.7 0 0 1 1645.7 2002.3M1655.8 1285.8A429.2 429.2 0 0 1 1660.5 1288.7M1846.4 1744.3A429.2 429.2 0 0 1 1845.2 1749.7M1833.5 1789.7A429.2 429.2 0 0 1 1831.7 1794.9M1018.4 1777.9A429.2 429.2 0 0 1 1016.8 1772.6M1241.3 1254.9A436.4 436.4 0 0 1 1246.4 1252.5M1238.2 1248.4A443.7 443.7 0 0 1 1243.4 1245.9M1847.2 1794.4A443.7 443.7 0 0 1 1845.3 1799.8M1235.1 1241.8A450.9 450.9 0 0 1 1240.3 1239.4M1867.6 1749.1A450.9 450.9 0 0 1 1866.3 1754.8" stroke="#3071DB" stroke-width="7.5" fill="none"/>
<path d="M1640.5 1310.3A400.2 400.2 0 0 1 1644.8 1313.1M1644.3 1304.2A407.5 407.5 0 0 1 1648.7 1307M1648.1 1298A414.7 414.7 0 0 1 1652.7 1300.9M1832.3 1741.1A414.7 414.7 0 0 1 1831.1 1746.4M1819.8 1785A414.7 414.7 0 0 1 1818 1790M1859.4 1714.5A436.4 436.4 0 0 1 1858.6 1720.1M1860.6 1747.5A443.7 443.7 0 0 1 1859.3 1753.1M1667.4 1267.3A450.9 450.9 0 0 1 1672.3 1270.5" stroke="#1D66DB" stroke-width="7.5" fill="none"/>
<path d="M1823.6 1709.1A400.2 400.2 0 0 1 1822.8 1714.2M1818.2 1737.9A400.2 400.2 0 0 1 1817 1743M1642.5 1987.2A400.2 400.2 0 0 1 1638.1 1990M1830.8 1710.2A407.5 407.5 0 0 1 1830 1715.4M1825.3 1739.5A407.5 407.5 0 0 1 1824.1 1744.7M1646.3 1993.4A407.5 407.5 0 0 1 1641.9 1996.1M1838 1711.3A414.7 414.7 0 0 1 1837.1 1716.6M1845.1 1712.3A421.9 421.9 0 0 1 1844.3 1717.7M1654.1 2005.6A421.9 421.9 0 0 1 1649.5 2008.5M1852.3 1713.4A429.2 429.2 0 0 1 1851.4 1718.9M1658 2011.7A429.2 429.2 0 0 1 1653.3 2014.6M1853.5 1745.9A436.4 436.4 0 0 1 1852.2 1751.4M1661.9 2017.8A436.4 436.4 0 0 1 1657.1 2020.8M1866.6 1715.6A443.7 443.7 0 0 1 1865.7 1721.2M1665.8 2023.9A443.7 443.7 0 0 1 1660.9 2027M1873.8 1716.7A450.9 450.9 0 0 1 1872.8 1722.4M1669.6 2030A450.9 450.9 0 0 1 1664.7 2033.1M997.7 1784.4A450.9 450.9 0 0 1 996 1778.8M978.3 1615.7A450.9 450.9 0 0 1 978.7 1609.9" stroke="#0A5AD8" stroke-width="7.5" fill="none"/>
<path d="M1101.3 1462.7A376.2 376.2 0 1 1 1073.7 1522.8" stroke="#F2F2F2" stroke-width="23.4" fill="none"/>
<path d="M1103.5 1458.9A376.2 376.2 0 0 1 1109.5 1449" stroke="#43682E" stroke-width="23.4" fill="none"/>
<path d="M1112.6 1444.1A376.2 376.2 0 0 1 1122.3 1430" stroke="#43682E" stroke-width="23.4" fill="none"/>
<path d="M1122.3 1430A376.2 376.2 0 0 1 1124.7 1426.6" stroke="#87B868" stroke-width="23.4" fill="none"/>
<path d="M1124.7 1426.6A376.2 376.2 0 0 1 1138.1 1409.6" stroke="#43682E" stroke-width="23.4" fill="none"/>
<path d="M1141.5 1405.5A376.2 376.2 0 0 1 1153.3 1392.2" stroke="#43682E" stroke-width="23.4" fill="none"/>
<path d="M1159.7 1385.6A376.2 376.2 0 0 1 1166.2 1379.1" stroke="#43682E" stroke-width="23.4" fill="none"/>
<path d="M1166.2 1379.1A376.2 376.2 0 0 1 1169.5 1376" stroke="#426BB4" stroke-width="23.4" fill="none"/>
<path d="M1169.5 1376A376.2 376.2 0 0 1 1173.1 1372.6" stroke="#87B868" stroke-width="23.4" fill="none"/>
<path d="M1180 1366.5A376.2 376.2 0 0 1 1198.7 1351.1" stroke="#87B868" stroke-width="23.4" fill="none"/>
<path d="M1202.7 1348.1A376.2 376.2 0 0 1 1206 1345.6" stroke="#426BB4" stroke-width="23.4" fill="none"/>
<path d="M1209.8 1342.9A376.2 376.2 0 0 1 1237.5 1324.9" stroke="#43682E" stroke-width="23.4" fill="none"/>
<path d="M1245.8 1320.2A376.2 376.2 0 0 1 1254.5 1315.6" stroke="#5893C8" stroke-width="23.4" fill="none"/>
<path d="M1254.5 1315.6A376.2 376.2 0 0 1 1272 1307" stroke="#43682E" stroke-width="23.4" fill="none"/>
<path d="M1276 1305.2A376.2 376.2 0 0 1 1279.7 1303.6" stroke="#43682E" stroke-width="23.4" fill="none"/>
<path d="M1279.7 1303.6A376.2 376.2 0 0 1 1302.3 1294.8" stroke="#426BB4" stroke-width="23.4" fill="none"/>
<path d="M1302.3 1294.8A376.2 376.2 0 0 1 1310.6 1291.9" stroke="#43682E" stroke-width="23.4" fill="none"/>
<path d="M1310.6 1291.9A376.2 376.2 0 0 1 1402.4 1274.1" stroke="#5893C8" stroke-width="23.4" fill="none"/>
<path d="M1402.4 1274.1A376.2 376.2 0 0 1 1416.6 1273.4" stroke="#255A8A" stroke-width="23.4" fill="none"/>
<path d="M1435.1 1273.3A376.2 376.2 0 0 1 1444.2 1273.6" stroke="#255A8A" stroke-width="23.4" fill="none"/>
<path d="M1463 1274.8A376.2 376.2 0 0 1 1468.4 1275.4" stroke="#E37933" stroke-width="23.4" fill="none"/>
<path d="M1487.1 1277.9A376.2 376.2 0 0 1 1537.1 1289.4" stroke="#255A8A" stroke-width="23.4" fill="none"/>
<path d="M1541.3 1290.7A376.2 376.2 0 0 1 1550.3 1293.7" stroke="#43682E" stroke-width="23.4" fill="none"/>
<path d="M1555.5 1295.5A376.2 376.2 0 0 1 1569.1 1300.7" stroke="#43682E" stroke-width="23.4" fill="none"/>
<path d="M1630.5 1332.4A376.2 376.2 0 0 1 1643 1340.8" stroke="#E37933" stroke-width="23.4" fill="none"/>
<path d="M1646.1 1343A376.2 376.2 0 0 1 1675.5 1366.1" stroke="#426BB4" stroke-width="23.4" fill="none"/>
<path d="M1703 1392.8A376.2 376.2 0 0 1 1712 1402.7" stroke="#F4B81E" stroke-width="23.4" fill="none"/>
<path d="M1712 1402.7A376.2 376.2 0 0 1 1723.7 1417" stroke="#6686C4" stroke-width="23.4" fill="none"/>
<path d="M1787.3 1538.3A376.2 376.2 0 0 1 1789.7 1546.4" stroke="#7BA8D4" stroke-width="23.4" fill="none"/>
<path d="M1791.3 1552.2A376.2 376.2 0 0 1 1792.3 1555.8" stroke="#7BA8D4" stroke-width="23.4" fill="none"/>
<path d="M1792.3 1555.8A376.2 376.2 0 0 1 1794.7 1565.9" stroke="#6686C4" stroke-width="23.4" fill="none"/>
<path d="M1794.7 1565.9A376.2 376.2 0 0 1 1797.4 1578.8" stroke="#7BA8D4" stroke-width="23.4" fill="none"/>
<path d="M1797.4 1578.8A376.2 376.2 0 0 1 1798.4 1584" stroke="#6686C4" stroke-width="23.4" fill="none"/>
<path d="M1798.4 1584A376.2 376.2 0 0 1 1799.1 1588.3" stroke="#7BA8D4" stroke-width="23.4" fill="none"/>
<path d="M1799.1 1588.3A376.2 376.2 0 0 1 1801.1 1601.9" stroke="#6686C4" stroke-width="23.4" fill="none"/>
<path d="M1801.7 1607.4A376.2 376.2 0 0 1 1803.3 1625.3" stroke="#7BA8D4" stroke-width="23.4" fill="none"/>
<path d="M1803.3 1625.3A376.2 376.2 0 0 1 1803.8 1635" stroke="#6686C4" stroke-width="23.4" fill="none"/>
<path d="M1803.8 1635A376.2 376.2 0 0 1 1779.7 1782.8" stroke="#636363" stroke-width="23.4" fill="none"/>
<path d="M1779.7 1782.8A376.2 376.2 0 0 1 1776.2 1791.7" stroke="#F4B81E" stroke-width="23.4" fill="none"/>
<path d="M1774.6 1795.5A376.2 376.2 0 0 1 1770.6 1804.6" stroke="#F4B81E" stroke-width="23.4" fill="none"/>
<path d="M1678.9 1929.6A376.2 376.2 0 0 1 1676.7 1931.6" stroke="#A5A5A5" stroke-width="23.4" fill="none"/>
<path d="M1669.5 1937.8A376.2 376.2 0 0 1 1654.6 1949.6" stroke="#A5A5A5" stroke-width="23.4" fill="none"/>
<path d="M1511.1 2016.3A376.2 376.2 0 0 1 1506.4 2017.3" stroke="#F4B81E" stroke-width="23.4" fill="none"/>
<path d="M1506.4 2017.3A376.2 376.2 0 0 1 1501 2018.4" stroke="#E37933" stroke-width="23.4" fill="none"/>
<path d="M1501 2018.4A376.2 376.2 0 0 1 1492.6 2020" stroke="#E8925C" stroke-width="23.4" fill="none"/>
<path d="M1473.6 2022.8A376.2 376.2 0 0 1 1469 2023.3" stroke="#B7B7B7" stroke-width="23.4" fill="none"/>
<path d="M1441.2 2025.4A376.2 376.2 0 0 1 1417.1 2025.4" stroke="#F5C342" stroke-width="23.4" fill="none"/>
<path d="M1311.4 2007.1A376.2 376.2 0 0 1 1306.6 2005.5" stroke="#263F72" stroke-width="23.4" fill="none"/>
<path d="M1302.2 2004A376.2 376.2 0 0 1 1293.8 2000.9" stroke="#263F72" stroke-width="23.4" fill="none"/>
<path d="M1238.1 1974.2A376.2 376.2 0 0 1 1215.1 1959.7" stroke="#6AA646" stroke-width="23.4" fill="none"/>
<path d="M1207.2 1954.1A376.2 376.2 0 0 1 1203.1 1951" stroke="#974623" stroke-width="23.4" fill="none"/>
<path d="M1199.8 1948.6A376.2 376.2 0 0 1 1192.6 1943" stroke="#974623" stroke-width="23.4" fill="none"/>
<path d="M1052.6 1674.9A376.2 376.2 0 0 1 1073.7 1522.8" stroke="#917226" stroke-width="23.4" fill="none"/>
<path d="M1005.3 1408.7A486.4 486.4 0 1 1 1771.8 1993.3" stroke="#5893C8" stroke-width="9.3" fill="none"/>
<path d="M1771.8 1993.3A486.4 486.4 0 0 1 1753.3 2010.8" stroke="#F2F2F2" stroke-width="9.3" fill="none"/>
<path d="M1753.3 2010.8A486.4 486.4 0 0 1 1577.4 2112.2" stroke="#5893C8" stroke-width="9.3" fill="none"/>
<path d="M1577.4 2112.2A486.4 486.4 0 0 1 1559.5 2117.6" stroke="#F2F2F2" stroke-width="9.3" fill="none"/>
<path d="M1559.5 2117.6A486.4 486.4 0 0 1 1329.3 2125.6" stroke="#5893C8" stroke-width="9.3" fill="none"/>
<path d="M1329.3 2125.6A486.4 486.4 0 0 1 1293.8 2116.9" stroke="#F2F2F2" stroke-width="9.3" fill="none"/>
<path d="M1293.8 2116.9A486.4 486.4 0 0 1 1230.9 2094" stroke="#F4B81E" stroke-width="9.3" fill="none"/>
<path d="M1230.9 2094A486.4 486.4 0 0 1 1204.1 2081.2" stroke="#F2F2F2" stroke-width="9.3" fill="none"/>
<path d="M1204.1 2081.2A486.4 486.4 0 0 1 1069.9 1978.6" stroke="#E37933" stroke-width="9.3" fill="none"/>
<path d="M1069.9 1978.6A486.4 486.4 0 0 1 970.3 1484.7" stroke="#A5A5A5" stroke-width="9.3" fill="none"/>
<path d="M1411.9 1636.8L1419.7 1643M1410.3 1639A20.4 20.4 0 0 1 1416.5 1632.5M1410.3 1639L1137.6 1477.9M1136 1480.5A337.2 337.2 0 0 1 1139.2 1475.2M1136 1480.5L1118.9 1470.6M1139.2 1475.2L1130.7 1470.1M1129.6 1471.9A347.1 347.1 0 0 1 1131.8 1468.3M1129.6 1471.9L1121.1 1466.9M1131.8 1468.3L1123.3 1463.1M1410.7 1638.4L1135.2 1462.9M1134 1464.7A347.1 347.1 0 0 1 1136.3 1461.1M1134 1464.7L1125.6 1459.4M1136.3 1461.1L1128 1455.7M1411 1638L1148.6 1460.5M1146.9 1463A337.2 337.2 0 0 1 1150.3 1457.9M1146.9 1463L1130.4 1452.1M1150.3 1457.9L1142.2 1452.3M1141 1454.1A347.1 347.1 0 0 1 1143.4 1450.6M1141 1454.1L1132.8 1448.5M1143.4 1450.6L1135.3 1444.9M1416.5 1632.5L1411 1624.3M1403.4 1631.6A30.3 30.3 0 0 1 1420.7 1620M1403.4 1631.6L1147.1 1445.4M1145.8 1447.1A347.1 347.1 0 0 1 1148.3 1443.7M1145.8 1447.1L1137.8 1441.3M1148.3 1443.7L1140.4 1437.8M1420.7 1620L1418.3 1610.4M1399.1 1621.4A40.2 40.2 0 0 1 1440.5 1611.2M1399.1 1621.4L1285.5 1511M1273.2 1524.9A198.6 198.6 0 0 1 1299.1 1498.3M1273.2 1524.9L1196.1 1462.8M1192 1467.9A297.6 297.6 0 0 1 1200.2 1457.7M1192 1467.9L1160.7 1443.8M1158.8 1446.2A337.2 337.2 0 0 1 1162.5 1441.3M1158.8 1446.2L1143 1434.3M1162.5 1441.3L1154.8 1435.2M1153.5 1436.9A347.1 347.1 0 0 1 1156.1 1433.6M1153.5 1436.9L1145.6 1430.8M1156.1 1433.6L1148.3 1427.4M1200.2 1457.7L1192.7 1451.4M1189.4 1455.3A307.5 307.5 0 0 1 1195.9 1447.5M1189.4 1455.3L1151 1424M1195.9 1447.5L1188.5 1441M1185.5 1444.5A317.4 317.4 0 0 1 1191.5 1437.6M1185.5 1444.5L1162.8 1425.4M1161.4 1427A347.1 347.1 0 0 1 1164.2 1423.7M1161.4 1427L1153.8 1420.6M1164.2 1423.7L1156.6 1417.3M1191.5 1437.6L1184.1 1431M1181.8 1433.6A327.3 327.3 0 0 1 1186.5 1428.4M1181.8 1433.6L1159.5 1414M1186.5 1428.4L1179.2 1421.7M1177.1 1424A337.2 337.2 0 0 1 1181.3 1419.4M1177.1 1424L1162.4 1410.8M1181.3 1419.4L1174 1412.7M1172.6 1414.2A347.1 347.1 0 0 1 1175.5 1411.1M1172.6 1414.2L1165.3 1407.5M1175.5 1411.1L1168.3 1404.3M1299.1 1498.3L1292.6 1490.7M1281.1 1501.4A208.5 208.5 0 0 1 1305 1481M1281.1 1501.4L1204.4 1424.1M1201.1 1427.3A317.4 317.4 0 0 1 1207.7 1420.8M1201.1 1427.3L1179.9 1406.5M1178.4 1408.1A347.1 347.1 0 0 1 1181.4 1405M1178.4 1408.1L1171.3 1401.2M1181.4 1405L1174.4 1398.1M1207.7 1420.8L1200.8 1413.7M1198.3 1416.2A327.3 327.3 0 0 1 1203.3 1411.3M1198.3 1416.2L1177.5 1395M1203.3 1411.3L1196.5 1404.1M1194.3 1406.2A337.2 337.2 0 0 1 1198.8 1402M1194.3 1406.2L1180.6 1391.9M1198.8 1402L1192.1 1394.7M1190.5 1396.2A347.1 347.1 0 0 1 1193.6 1393.3M1190.5 1396.2L1183.7 1388.9M1193.6 1393.3L1186.9 1386M1305 1481L1299.2 1473M1285.2 1484.1A218.4 218.4 0 0 1 1314 1463M1285.2 1484.1L1226.9 1416.7M1223.1 1420A307.5 307.5 0 0 1 1230.8 1413.4M1223.1 1420L1190.2 1383.1M1230.8 1413.4L1224.4 1405.8M1220.9 1408.8A317.4 317.4 0 0 1 1228 1402.9M1220.9 1408.8L1201.6 1386.3M1200 1387.6A347.1 347.1 0 0 1 1203.2 1384.9M1200 1387.6L1193.5 1380.2M1203.2 1384.9L1196.8 1377.3M1228 1402.9L1221.8 1395.2M1219.1 1397.4A327.3 327.3 0 0 1 1224.5 1393M1219.1 1397.4L1200.1 1374.5M1224.5 1393L1218.3 1385.2M1215.9 1387.2A337.2 337.2 0 0 1 1220.8 1383.3M1215.9 1387.2L1203.5 1371.8M1220.8 1383.3L1214.7 1375.5M1213 1376.8A347.1 347.1 0 0 1 1216.4 1374.2M1213 1376.8L1206.9 1369M1216.4 1374.2L1210.3 1366.4M1314 1463L1308.8 1454.6M1295.2 1463.6A228.3 228.3 0 0 1 1323.1 1446.6M1295.2 1463.6L1237.7 1383.1M1234 1385.7A327.3 327.3 0 0 1 1241.3 1380.5M1234 1385.7L1228.2 1377.7M1225.7 1379.6A337.2 337.2 0 0 1 1230.7 1375.9M1225.7 1379.6L1213.8 1363.7M1230.7 1375.9L1224.9 1367.9M1223.1 1369.1A347.1 347.1 0 0 1 1226.6 1366.6M1223.1 1369.1L1217.3 1361.1M1226.6 1366.6L1220.8 1358.6M1241.3 1380.5L1224.4 1356.1M1323.1 1446.6L1318.6 1437.8M1300.2 1448.3A238.2 238.2 0 0 1 1337.7 1428.9M1300.2 1448.3L1263.1 1389.8M1258.1 1393.1A307.5 307.5 0 0 1 1268.2 1386.6M1258.1 1393.1L1241.7 1368.3M1239.1 1370A337.2 337.2 0 0 1 1244.2 1366.6M1239.1 1370L1228 1353.6M1244.2 1366.6L1238.9 1358.3M1237.1 1359.5A347.1 347.1 0 0 1 1240.6 1357.1M1237.1 1359.5L1231.6 1351.2M1240.6 1357.1L1235.3 1348.8M1268.2 1386.6L1263 1378.2M1259.9 1380.1A317.4 317.4 0 0 1 1266.2 1376.3M1259.9 1380.1L1239 1346.5M1266.2 1376.3L1261.1 1367.8M1258.1 1369.6A327.3 327.3 0 0 1 1264.1 1366M1258.1 1369.6L1242.7 1344.2M1264.1 1366L1259.2 1357.4M1256.5 1359A337.2 337.2 0 0 1 1261.9 1355.9M1256.5 1359L1246.4 1342M1261.9 1355.9L1257 1347.3M1255.1 1348.3A347.1 347.1 0 0 1 1258.8 1346.3M1255.1 1348.3L1250.2 1339.8M1258.8 1346.3L1254 1337.6M1337.7 1428.9L1334 1419.8M1315.9 1428A248.1 248.1 0 0 1 1352.7 1413M1315.9 1428L1284.6 1366.2M1279.3 1369A317.4 317.4 0 0 1 1290.1 1363.5M1279.3 1369L1270 1351.5M1267.3 1352.9A337.2 337.2 0 0 1 1272.7 1350M1267.3 1352.9L1257.8 1335.5M1272.7 1350L1268.2 1341.2M1266.3 1342.2A347.1 347.1 0 0 1 1270.1 1340.3M1266.3 1342.2L1261.7 1333.5M1270.1 1340.3L1265.5 1331.5M1290.1 1363.5L1285.8 1354.6M1282.6 1356.1A327.3 327.3 0 0 1 1288.9 1353.1M1282.6 1356.1L1269.4 1329.5M1288.9 1353.1L1284.7 1344.1M1281.9 1345.4A337.2 337.2 0 0 1 1287.5 1342.8M1281.9 1345.4L1273.4 1327.6M1287.5 1342.8L1283.4 1333.8M1281.5 1334.7A347.1 347.1 0 0 1 1285.3 1332.9M1281.5 1334.7L1277.3 1325.7M1285.3 1332.9L1281.3 1323.9M1352.7 1413L1349.7 1403.5M1333.1 1409.5A258 258 0 0 1 1366.6 1398.8M1333.1 1409.5L1314.9 1363.4M1306.8 1366.8A307.5 307.5 0 0 1 1323.1 1360.3M1306.8 1366.8L1291.2 1330.4M1289.2 1331.2A347.1 347.1 0 0 1 1293.1 1329.5M1289.2 1331.2L1285.3 1322.1M1293.1 1329.5L1289.3 1320.4M1323.1 1360.3L1319.8 1351M1313.6 1353.3A317.4 317.4 0 0 1 1325.9 1348.8M1313.6 1353.3L1306.5 1334.8M1302.7 1336.3A337.2 337.2 0 0 1 1310.4 1333.3M1302.7 1336.3L1299 1327.1M1297 1327.9A347.1 347.1 0 0 1 1301 1326.3M1297 1327.9L1293.3 1318.7M1301 1326.3L1297.3 1317.1M1310.4 1333.3L1306.9 1324.1M1304.9 1324.8A347.1 347.1 0 0 1 1308.9 1323.3M1304.9 1324.8L1301.4 1315.6M1308.9 1323.3L1305.5 1314M1325.9 1348.8L1322.8 1339.4M1319.5 1340.6A327.3 327.3 0 0 1 1326.1 1338.3M1319.5 1340.6L1309.6 1312.6M1326.1 1338.3L1323 1328.9M1320.1 1329.9A337.2 337.2 0 0 1 1325.9 1328M1320.1 1329.9L1313.7 1311.1M1325.9 1328L1322.9 1318.5M1320.9 1319.2A347.1 347.1 0 0 1 1325 1317.9M1320.9 1319.2L1317.9 1309.8M1325 1317.9L1322 1308.5M1366.6 1398.8L1364.3 1389.2M1353.2 1392.1A267.9 267.9 0 0 1 1375.5 1386.7M1353.2 1392.1L1331.1 1316.1M1329 1316.7A347.1 347.1 0 0 1 1333.1 1315.5M1329 1316.7L1326.2 1307.2M1333.1 1315.5L1330.4 1306M1375.5 1386.7L1373.6 1377M1362.2 1379.5A277.8 277.8 0 0 1 1385.1 1374.9M1362.2 1379.5L1355.2 1350.6M1349.4 1352.1A307.5 307.5 0 0 1 1361 1349.3M1349.4 1352.1L1339.2 1313.8M1337.2 1314.4A347.1 347.1 0 0 1 1341.3 1313.3M1337.2 1314.4L1334.6 1304.8M1341.3 1313.3L1338.8 1303.7M1361 1349.3L1358.8 1339.6M1354.3 1340.6A317.4 317.4 0 0 1 1363.3 1338.6M1354.3 1340.6L1347.5 1311.7M1345.4 1312.2A347.1 347.1 0 0 1 1349.5 1311.3M1345.4 1312.2L1343 1302.6M1349.5 1311.3L1347.3 1301.6M1363.3 1338.6L1361.3 1328.9M1357.9 1329.7A327.3 327.3 0 0 1 1364.7 1328.3M1357.9 1329.7L1351.5 1300.7M1364.7 1328.3L1362.8 1318.5M1359.8 1319.1A337.2 337.2 0 0 1 1365.9 1318M1359.8 1319.1L1355.8 1299.8M1365.9 1318L1364.1 1308.2M1362 1308.6A347.1 347.1 0 0 1 1366.1 1307.8M1362 1308.6L1360.1 1298.9M1366.1 1307.8L1364.4 1298.1M1385.1 1374.9L1383.6 1365.1M1380.2 1365.7A287.7 287.7 0 0 1 1387.1 1364.6M1380.2 1365.7L1368.7 1297.3M1387.1 1364.6L1385.7 1354.8M1382.1 1355.3A297.6 297.6 0 0 1 1389.2 1354.3M1382.1 1355.3L1373 1296.7M1389.2 1354.3L1387.9 1344.5M1384.3 1345A307.5 307.5 0 0 1 1391.5 1344.1M1384.3 1345L1377.3 1296M1391.5 1344.1L1390.4 1334.2M1386.7 1334.7A317.4 317.4 0 0 1 1394 1333.8M1386.7 1334.7L1381.6 1295.4M1394 1333.8L1392.9 1324M1389.4 1324.4A327.3 327.3 0 0 1 1396.4 1323.6M1389.4 1324.4L1385.9 1294.9M1396.4 1323.6L1395.4 1313.8M1392.4 1314.1A337.2 337.2 0 0 1 1398.5 1313.5M1392.4 1314.1L1390.3 1294.4M1398.5 1313.5L1397.6 1303.6M1395.5 1303.8A347.1 347.1 0 0 1 1399.8 1303.4M1395.5 1303.8L1394.6 1294M1399.8 1303.4L1399 1293.6M1440.5 1611.2L1443.6 1601.8M1428 1599.3A50.1 50.1 0 0 1 1457.5 1609M1428 1599.3L1428.6 1391.4M1415.4 1391.7A258 258 0 0 1 1441.8 1391.8M1415.4 1391.7L1412.6 1332.4M1408 1332.6A317.4 317.4 0 0 1 1417.2 1332.2M1408 1332.6L1406.1 1303M1404 1303.1A347.1 347.1 0 0 1 1408.2 1302.9M1404 1303.1L1403.3 1293.2M1408.2 1302.9L1407.7 1293M1417.2 1332.2L1416.8 1322.3M1413.3 1322.4A327.3 327.3 0 0 1 1420.3 1322.2M1413.3 1322.4L1412 1292.8M1420.3 1322.2L1420.1 1312.3M1417 1312.4A337.2 337.2 0 0 1 1423.2 1312.2M1417 1312.4L1416.4 1292.6M1423.2 1312.2L1423.1 1302.3M1420.9 1302.4A347.1 347.1 0 0 1 1425.2 1302.3M1420.9 1302.4L1420.7 1292.5M1425.2 1302.3L1425.1 1292.4M1441.8 1391.8L1442.4 1381.9M1430.7 1381.5A267.9 267.9 0 0 1 1454 1382.8M1430.7 1381.5L1431.5 1302.3M1429.4 1302.3A347.1 347.1 0 0 1 1433.7 1302.3M1429.4 1302.3L1429.5 1292.4M1433.7 1302.3L1433.8 1292.4M1454 1382.8L1454.9 1372.9M1438.9 1371.8A277.8 277.8 0 0 1 1470.9 1375M1438.9 1371.8L1440.8 1322.4M1437.3 1322.2A327.3 327.3 0 0 1 1444.3 1322.5M1437.3 1322.2L1438.2 1292.5M1444.3 1322.5L1444.8 1312.6M1441.7 1312.5A337.2 337.2 0 0 1 1447.9 1312.8M1441.7 1312.5L1442.5 1292.7M1447.9 1312.8L1448.5 1302.9M1446.4 1302.8A347.1 347.1 0 0 1 1450.6 1303M1446.4 1302.8L1446.9 1292.9M1450.6 1303L1451.2 1293.2M1470.9 1375L1472.5 1365.2M1456.4 1363.1A287.7 287.7 0 0 1 1488.4 1368.1M1456.4 1363.1L1457.4 1353.3M1451 1352.7A297.6 297.6 0 0 1 1463.8 1354M1451 1352.7L1455.6 1293.5M1463.8 1354L1465 1344.1M1457.4 1343.3A307.5 307.5 0 0 1 1472.5 1345.2M1457.4 1343.3L1461.2 1303.9M1459.1 1303.7A347.1 347.1 0 0 1 1463.3 1304.1M1459.1 1303.7L1459.9 1293.8M1463.3 1304.1L1464.3 1294.3M1472.5 1345.2L1474 1335.4M1468.9 1334.7A317.4 317.4 0 0 1 1479 1336.1M1468.9 1334.7L1471.5 1315M1468.4 1314.6A337.2 337.2 0 0 1 1474.5 1315.4M1468.4 1314.6L1469.6 1304.8M1467.5 1304.6A347.1 347.1 0 0 1 1471.7 1305.1M1467.5 1304.6L1468.6 1294.7M1471.7 1305.1L1473 1295.3M1474.5 1315.4L1477.3 1295.8M1479 1336.1L1480.6 1326.4M1477.1 1325.8A327.3 327.3 0 0 1 1484 1326.9M1477.1 1325.8L1481.6 1296.5M1484 1326.9L1485.7 1317.2M1482.7 1316.7A337.2 337.2 0 0 1 1488.8 1317.7M1482.7 1316.7L1485.9 1297.1M1488.8 1317.7L1490.6 1308M1488.5 1307.6A347.1 347.1 0 0 1 1492.6 1308.4M1488.5 1307.6L1490.2 1297.9M1492.6 1308.4L1494.5 1298.7M1488.4 1368.1L1490.5 1358.5M1487 1357.7A297.6 297.6 0 0 1 1494 1359.2M1487 1357.7L1498.8 1299.5M1494 1359.2L1496.2 1349.6M1492.6 1348.8A307.5 307.5 0 0 1 1499.7 1350.4M1492.6 1348.8L1503 1300.4M1499.7 1350.4L1502 1340.8M1498.5 1339.9A317.4 317.4 0 0 1 1505.6 1341.6M1498.5 1339.9L1507.3 1301.3M1505.6 1341.6L1508 1332M1504.6 1331.2A327.3 327.3 0 0 1 1511.4 1332.9M1504.6 1331.2L1511.5 1302.3M1511.4 1332.9L1513.9 1323.3M1510.9 1322.6A337.2 337.2 0 0 1 1516.9 1324.2M1510.9 1322.6L1515.8 1303.4M1516.9 1324.2L1519.5 1314.6M1517.4 1314A347.1 347.1 0 0 1 1521.5 1315.2M1517.4 1314L1520 1304.5M1521.5 1315.2L1524.2 1305.6M1457.5 1609L1463.4 1601M1447.6 1592.7A60 60 0 0 1 1476 1613.6M1447.6 1592.7L1506.2 1424.4M1497 1421.5A238.2 238.2 0 0 1 1515.2 1427.8M1497 1421.5L1525.8 1326.7M1522.8 1325.8A337.2 337.2 0 0 1 1528.7 1327.6M1522.8 1325.8L1528.4 1306.8M1528.7 1327.6L1531.7 1318.2M1529.7 1317.6A347.1 347.1 0 0 1 1533.7 1318.8M1529.7 1317.6L1532.6 1308.1M1533.7 1318.8L1536.7 1309.4M1515.2 1427.8L1518.9 1418.6M1508.9 1414.9A248.1 248.1 0 0 1 1528.7 1422.7M1508.9 1414.9L1534.8 1340M1531.5 1338.9A327.3 327.3 0 0 1 1538.1 1341.2M1531.5 1338.9L1540.9 1310.7M1538.1 1341.2L1541.4 1331.9M1538.5 1330.9A337.2 337.2 0 0 1 1544.3 1332.9M1538.5 1330.9L1545 1312.2M1544.3 1332.9L1547.8 1323.6M1545.8 1322.9A347.1 347.1 0 0 1 1549.7 1324.4M1545.8 1322.9L1549.1 1313.6M1549.7 1324.4L1553.2 1315.1M1528.7 1422.7L1532.7 1413.6M1525.1 1410.4A258 258 0 0 1 1540.2 1417.1M1525.1 1410.4L1554.9 1337M1552 1335.9A337.2 337.2 0 0 1 1557.8 1338.2M1552 1335.9L1555.7 1326.7M1553.7 1325.9A347.1 347.1 0 0 1 1557.6 1327.5M1553.7 1325.9L1557.3 1316.7M1557.6 1327.5L1561.3 1318.3M1557.8 1338.2L1565.4 1319.9M1540.2 1417.1L1544.5 1408.2M1536.3 1404.4A267.9 267.9 0 0 1 1552.5 1412.3M1536.3 1404.4L1564.4 1341.1M1561.5 1339.8A337.2 337.2 0 0 1 1567.2 1342.3M1561.5 1339.8L1569.4 1321.6M1567.2 1342.3L1571.3 1333.3M1569.4 1332.4A347.1 347.1 0 0 1 1573.2 1334.2M1569.4 1332.4L1573.4 1323.4M1573.2 1334.2L1577.4 1325.2M1552.5 1412.3L1557.1 1403.5M1551.9 1400.8A277.8 277.8 0 0 1 1562.3 1406.3M1551.9 1400.8L1578.4 1347.6M1574.7 1345.8A337.2 337.2 0 0 1 1582 1349.5M1574.7 1345.8L1579 1336.9M1577.1 1336A347.1 347.1 0 0 1 1580.9 1337.8M1577.1 1336L1581.3 1327M1580.9 1337.8L1585.2 1328.9M1582 1349.5L1586.6 1340.7M1584.7 1339.7A347.1 347.1 0 0 1 1588.4 1341.7M1584.7 1339.7L1589.1 1330.9M1588.4 1341.7L1593 1332.9M1562.3 1406.3L1567.1 1397.6M1564.1 1396A287.7 287.7 0 0 1 1570.2 1399.3M1564.1 1396L1596.9 1334.9M1570.2 1399.3L1575.1 1390.7M1572 1389A297.6 297.6 0 0 1 1578.2 1392.5M1572 1389L1600.7 1337M1578.2 1392.5L1583.2 1384M1580 1382.2A307.5 307.5 0 0 1 1586.3 1385.8M1580 1382.2L1604.5 1339.1M1586.3 1385.8L1591.4 1377.4M1588.3 1375.5A317.4 317.4 0 0 1 1594.5 1379.2M1588.3 1375.5L1608.3 1341.3M1594.5 1379.2L1599.7 1370.8M1596.7 1369A327.3 327.3 0 0 1 1602.7 1372.7M1596.7 1369L1612 1343.6M1602.7 1372.7L1608 1364.3M1605.3 1362.7A337.2 337.2 0 0 1 1610.6 1366M1605.3 1362.7L1615.8 1345.8M1610.6 1366L1615.9 1357.6M1614.1 1356.5A347.1 347.1 0 0 1 1617.7 1358.8M1614.1 1356.5L1619.5 1348.1M1617.7 1358.8L1623.1 1350.5M1476 1613.6L1484 1607.6M1468.7 1592.7A69.9 69.9 0 0 1 1493.9 1626.5M1468.7 1592.7L1584.4 1432M1578.5 1427.8A267.9 267.9 0 0 1 1590.3 1436.3M1578.5 1427.8L1623 1362.3M1621.2 1361.1A347.1 347.1 0 0 1 1624.7 1363.5M1621.2 1361.1L1626.8 1352.9M1624.7 1363.5L1630.4 1355.4M1590.3 1436.3L1596.3 1428.4M1590.6 1424.3A277.8 277.8 0 0 1 1601.8 1432.7M1590.6 1424.3L1619.6 1384.1M1616.8 1382.1A327.3 327.3 0 0 1 1622.5 1386.2M1616.8 1382.1L1633.9 1357.9M1622.5 1386.2L1628.4 1378.3M1625.9 1376.4A337.2 337.2 0 0 1 1630.8 1380.1M1625.9 1376.4L1637.5 1360.4M1630.8 1380.1L1636.8 1372.2M1635.1 1370.9A347.1 347.1 0 0 1 1638.5 1373.5M1635.1 1370.9L1641 1363M1638.5 1373.5L1644.5 1365.6M1601.8 1432.7L1608 1425M1605.2 1422.8A287.7 287.7 0 0 1 1610.7 1427.2M1605.2 1422.8L1647.9 1368.3M1610.7 1427.2L1617 1419.6M1614.2 1417.3A297.6 297.6 0 0 1 1619.7 1421.9M1614.2 1417.3L1651.4 1371M1619.7 1421.9L1626.1 1414.3M1623.3 1412A307.5 307.5 0 0 1 1628.9 1416.6M1623.3 1412L1654.7 1373.7M1628.9 1416.6L1635.3 1409.2M1632.6 1406.8A317.4 317.4 0 0 1 1638.1 1411.5M1632.6 1406.8L1658.1 1376.5M1638.1 1411.5L1644.6 1404.1M1642 1401.8A327.3 327.3 0 0 1 1647.2 1406.5M1642 1401.8L1661.4 1379.4M1647.2 1406.5L1653.9 1399.1M1651.6 1397A337.2 337.2 0 0 1 1656.1 1401.2M1651.6 1397L1664.7 1382.2M1656.1 1401.2L1662.8 1393.9M1661.3 1392.5A347.1 347.1 0 0 1 1664.4 1395.3M1661.3 1392.5L1667.9 1385.1M1664.4 1395.3L1671.1 1388.1M1493.9 1626.5L1503.3 1623.3M1483.5 1592.2A79.8 79.8 0 0 1 1507 1660M1483.5 1592.2L1662.9 1407.6M1660.7 1405.4A337.2 337.2 0 0 1 1665.1 1409.7M1660.7 1405.4L1674.3 1391.1M1665.1 1409.7L1672 1402.7M1670.5 1401.2A347.1 347.1 0 0 1 1673.6 1404.2M1670.5 1401.2L1677.5 1394.1M1673.6 1404.2L1680.6 1397.2M1507 1660L1516.8 1661.3M1499.2 1595A89.7 89.7 0 0 1 1482.4 1720.6M1499.2 1595L1530.7 1571M1521.9 1560.6A129.3 129.3 0 0 1 1538.4 1582.2M1521.9 1560.6L1665.8 1424.6M1662.3 1421A327.3 327.3 0 0 1 1669.2 1428.3M1662.3 1421L1683.6 1400.3M1669.2 1428.3L1676.5 1421.6M1673.7 1418.6A337.2 337.2 0 0 1 1679.3 1424.6M1673.7 1418.6L1680.9 1411.8M1679.5 1410.3A347.1 347.1 0 0 1 1682.4 1413.3M1679.5 1410.3L1686.6 1403.4M1682.4 1413.3L1689.6 1406.6M1679.3 1424.6L1686.7 1418M1685.2 1416.5A347.1 347.1 0 0 1 1688.1 1419.6M1685.2 1416.5L1692.6 1409.8M1688.1 1419.6L1695.5 1413.1M1538.4 1582.2L1546.8 1577.1M1535.2 1560.8A139.2 139.2 0 0 1 1556 1594.9M1535.2 1560.8L1611.6 1497.7M1608.4 1493.9A238.2 238.2 0 0 1 1614.7 1501.6M1608.4 1493.9L1698.4 1416.4M1614.7 1501.6L1622.5 1495.4M1619.3 1491.5A248.1 248.1 0 0 1 1625.6 1499.5M1619.3 1491.5L1688 1434.8M1686 1432.4A337.2 337.2 0 0 1 1690 1437.2M1686 1432.4L1701.2 1419.7M1690 1437.2L1697.6 1431M1696.3 1429.3A347.1 347.1 0 0 1 1699 1432.6M1696.3 1429.3L1704 1423M1699 1432.6L1706.7 1426.4M1625.6 1499.5L1633.4 1493.5M1631.3 1490.7A258 258 0 0 1 1635.5 1496.2M1631.3 1490.7L1709.4 1429.9M1635.5 1496.2L1643.5 1490.3M1641.1 1487.2A267.9 267.9 0 0 1 1645.8 1493.5M1641.1 1487.2L1712.1 1433.3M1645.8 1493.5L1653.8 1487.7M1651.1 1484A277.8 277.8 0 0 1 1656.5 1491.5M1651.1 1484L1714.7 1436.8M1656.5 1491.5L1664.6 1485.9M1662.1 1482.3A287.7 287.7 0 0 1 1667.1 1489.5M1662.1 1482.3L1710.5 1447.8M1709.2 1446.1A347.1 347.1 0 0 1 1711.7 1449.6M1709.2 1446.1L1717.3 1440.3M1711.7 1449.6L1719.8 1443.9M1667.1 1489.5L1675.3 1484M1673.3 1481.1A297.6 297.6 0 0 1 1677.3 1487M1673.3 1481.1L1722.3 1447.4M1677.3 1487L1685.6 1481.6M1683.6 1478.6A307.5 307.5 0 0 1 1687.5 1484.7M1683.6 1478.6L1724.7 1451.1M1687.5 1484.7L1695.9 1479.4M1693.9 1476.3A317.4 317.4 0 0 1 1697.8 1482.4M1693.9 1476.3L1727.1 1454.7M1697.8 1482.4L1706.3 1477.2M1704.4 1474.3A327.3 327.3 0 0 1 1708.1 1480.2M1704.4 1474.3L1729.5 1458.4M1708.1 1480.2L1716.6 1475.1M1714.9 1472.5A337.2 337.2 0 0 1 1718.1 1477.8M1714.9 1472.5L1731.8 1462.1M1718.1 1477.8L1726.7 1472.7M1725.6 1470.9A347.1 347.1 0 0 1 1727.7 1474.5M1725.6 1470.9L1734.1 1465.8M1727.7 1474.5L1736.3 1469.6M1556 1594.9L1565.1 1591M1558.1 1576.7A149.1 149.1 0 0 1 1570.6 1606.1M1558.1 1576.7L1730.9 1480.1M1729.9 1478.2A347.1 347.1 0 0 1 1731.9 1481.9M1729.9 1478.2L1738.5 1473.3M1731.9 1481.9L1740.6 1477.1M1570.6 1606.1L1580 1603.2M1570.9 1580A159 159 0 0 1 1585.4 1627.6M1570.9 1580L1668.9 1532.4M1665.4 1525.5A267.9 267.9 0 0 1 1672.1 1539.3M1665.4 1525.5L1718.1 1498.1M1716.5 1495A327.3 327.3 0 0 1 1719.7 1501.2M1716.5 1495L1742.7 1481M1719.7 1501.2L1728.5 1496.7M1727.1 1494A337.2 337.2 0 0 1 1729.9 1499.5M1727.1 1494L1744.7 1484.8M1729.9 1499.5L1738.8 1495.1M1737.9 1493.2A347.1 347.1 0 0 1 1739.7 1497M1737.9 1493.2L1746.7 1488.7M1739.7 1497L1748.6 1492.6M1672.1 1539.3L1681.2 1535.3M1679 1530.5A277.8 277.8 0 0 1 1683.3 1540.1M1679 1530.5L1750.5 1496.6M1683.3 1540.1L1692.4 1536.2M1690.1 1531A287.7 287.7 0 0 1 1694.6 1541.5M1690.1 1531L1744.2 1506.6M1743.4 1504.6A347.1 347.1 0 0 1 1745.1 1508.5M1743.4 1504.6L1752.4 1500.5M1745.1 1508.5L1754.2 1504.5M1694.6 1541.5L1703.8 1537.7M1702 1533.6A297.6 297.6 0 0 1 1705.4 1541.9M1702 1533.6L1747.6 1514.3M1746.8 1512.4A347.1 347.1 0 0 1 1748.5 1516.3M1746.8 1512.4L1755.9 1508.5M1748.5 1516.3L1757.6 1512.5M1705.4 1541.9L1714.6 1538.3M1713.3 1535A307.5 307.5 0 0 1 1715.9 1541.7M1713.3 1535L1759.3 1516.5M1715.9 1541.7L1725.2 1538.3M1723.9 1534.9A317.4 317.4 0 0 1 1726.5 1541.7M1723.9 1534.9L1760.9 1520.6M1726.5 1541.7L1735.8 1538.3M1734.6 1535A327.3 327.3 0 0 1 1736.9 1541.6M1734.6 1535L1762.4 1524.7M1736.9 1541.6L1746.3 1538.4M1745.3 1535.5A337.2 337.2 0 0 1 1747.3 1541.3M1745.3 1535.5L1763.9 1528.8M1747.3 1541.3L1756.7 1538.1M1756 1536.1A347.1 347.1 0 0 1 1757.4 1540.1M1756 1536.1L1765.3 1532.9M1757.4 1540.1L1766.7 1537M1585.4 1627.6L1595.2 1626.3M1590.3 1603A168.9 168.9 0 0 1 1596.8 1650M1590.3 1603L1695 1573.1M1693.1 1566.8A277.8 277.8 0 0 1 1696.7 1579.4M1693.1 1566.8L1759.3 1546.2M1758.7 1544.2A347.1 347.1 0 0 1 1759.9 1548.2M1758.7 1544.2L1768.1 1541.2M1759.9 1548.2L1769.4 1545.3M1696.7 1579.4L1706.3 1576.9M1704.8 1571.4A287.7 287.7 0 0 1 1707.7 1582.4M1704.8 1571.4L1752.5 1558M1751.6 1555A337.2 337.2 0 0 1 1753.3 1561M1751.6 1555L1770.6 1549.5M1753.3 1561L1762.9 1558.4M1762.3 1556.3A347.1 347.1 0 0 1 1763.4 1560.4M1762.3 1556.3L1771.8 1553.7M1763.4 1560.4L1773 1557.9M1707.7 1582.4L1717.3 1580.1M1716.5 1576.6A297.6 297.6 0 0 1 1718.1 1583.6M1716.5 1576.6L1774.1 1562.1M1718.1 1583.6L1727.8 1581.4M1727 1577.9A307.5 307.5 0 0 1 1728.6 1585M1727 1577.9L1775.1 1566.4M1728.6 1585L1738.3 1582.9M1737.5 1579.4A317.4 317.4 0 0 1 1739 1586.5M1737.5 1579.4L1776.1 1570.6M1739 1586.5L1748.7 1584.5M1748 1581.1A327.3 327.3 0 0 1 1749.4 1587.9M1748 1581.1L1777 1574.9M1749.4 1587.9L1759.1 1586.1M1758.5 1583A337.2 337.2 0 0 1 1759.7 1589.1M1758.5 1583L1777.9 1579.1M1759.7 1589.1L1769.4 1587.3M1769 1585.3A347.1 347.1 0 0 1 1769.8 1589.4M1769 1585.3L1778.8 1583.4M1769.8 1589.4L1779.5 1587.7M1596.8 1650L1606.7 1650M1604.8 1623.6A178.8 178.8 0 0 1 1604.6 1676.4M1604.8 1623.6L1712.6 1607.9M1711.9 1603.2A287.7 287.7 0 0 1 1713.2 1612.7M1711.9 1603.2L1780.3 1592M1713.2 1612.7L1723.1 1611.4M1722.5 1607A297.6 297.6 0 0 1 1723.6 1615.9M1722.5 1607L1771.5 1599.9M1771.1 1597.8A347.1 347.1 0 0 1 1771.7 1602M1771.1 1597.8L1780.9 1596.3M1771.7 1602L1781.6 1600.6M1723.6 1615.9L1733.4 1614.7M1733 1611.1A307.5 307.5 0 0 1 1733.8 1618.4M1733 1611.1L1782.1 1605M1733.8 1618.4L1743.7 1617.4M1743.3 1613.7A317.4 317.4 0 0 1 1744 1621M1743.3 1613.7L1782.6 1609.3M1744 1621L1753.9 1620.1M1753.6 1616.6A327.3 327.3 0 0 1 1754.2 1623.6M1753.6 1616.6L1783.1 1613.6M1754.2 1623.6L1764 1622.8M1763.8 1619.7A337.2 337.2 0 0 1 1764.3 1625.9M1763.8 1619.7L1783.5 1618M1764.3 1625.9L1774.2 1625.2M1774 1623.1A347.1 347.1 0 0 1 1774.3 1627.3M1774 1623.1L1783.9 1622.3M1774.3 1627.3L1784.2 1626.7M1604.6 1676.4L1614.4 1677.9M1616.6 1647.1A188.7 188.7 0 0 1 1607.3 1708M1616.6 1647.1L1676 1646.4M1675.7 1638.1A248.1 248.1 0 0 1 1675.9 1654.6M1675.7 1638.1L1774.6 1633.7M1774.5 1631.5A347.1 347.1 0 0 1 1774.7 1635.8M1774.5 1631.5L1784.4 1631M1774.7 1635.8L1784.6 1635.4M1675.9 1654.6L1685.8 1654.8M1685.9 1646.4A258 258 0 0 1 1685.5 1663.2M1685.9 1646.4L1765.1 1645.4M1765 1642.3A337.2 337.2 0 0 1 1765.1 1648.5M1765 1642.3L1774.9 1642.1M1774.9 1640A347.1 347.1 0 0 1 1775 1644.3M1774.9 1640L1784.8 1639.7M1775 1644.3L1784.9 1644.1M1765.1 1648.5L1784.9 1648.5M1685.5 1663.2L1695.4 1663.8M1695.8 1654.4A267.9 267.9 0 0 1 1694.7 1673.1M1695.8 1654.4L1765 1655.7M1765.1 1652.6A337.2 337.2 0 0 1 1765 1658.8M1765.1 1652.6L1784.9 1652.8M1765 1658.8L1774.9 1659.1M1774.9 1657A347.1 347.1 0 0 1 1774.8 1661.2M1774.9 1657L1784.8 1657.2M1774.8 1661.2L1784.7 1661.5M1694.7 1673.1L1704.6 1674M1705.2 1665.4A277.8 277.8 0 0 1 1703.7 1682.5M1705.2 1665.4L1744.8 1667.7M1745 1664.1A317.4 317.4 0 0 1 1744.5 1671.3M1745 1664.1L1784.5 1665.9M1744.5 1671.3L1754.4 1672M1754.6 1668.5A327.3 327.3 0 0 1 1754.2 1675.5M1754.6 1668.5L1784.3 1670.3M1754.2 1675.5L1764 1676.3M1764.3 1673.2A337.2 337.2 0 0 1 1763.8 1679.4M1764.3 1673.2L1784 1674.6M1763.8 1679.4L1773.6 1680.3M1773.8 1678.1A347.1 347.1 0 0 1 1773.4 1682.4M1773.8 1678.1L1783.7 1679M1773.4 1682.4L1783.3 1683.3M1703.7 1682.5L1713.5 1683.7M1713.9 1680.2A287.7 287.7 0 0 1 1713.1 1687.1M1713.9 1680.2L1782.8 1687.6M1713.1 1687.1L1722.9 1688.4M1723.4 1684.9A297.6 297.6 0 0 1 1722.4 1692M1723.4 1684.9L1782.4 1692M1722.4 1692L1732.2 1693.4M1732.7 1689.8A307.5 307.5 0 0 1 1731.7 1697M1732.7 1689.8L1781.8 1696.3M1731.7 1697L1741.5 1698.5M1742 1694.9A317.4 317.4 0 0 1 1740.9 1702.1M1742 1694.9L1781.2 1700.6M1740.9 1702.1L1750.7 1703.8M1751.2 1700.3A327.3 327.3 0 0 1 1750.1 1707.2M1751.2 1700.3L1780.6 1704.9M1750.1 1707.2L1759.8 1709M1760.3 1705.9A337.2 337.2 0 0 1 1759.2 1712M1760.3 1705.9L1779.8 1709.2M1759.2 1712L1769 1713.8M1769.4 1711.8A347.1 347.1 0 0 1 1768.6 1715.9M1769.4 1711.8L1779.1 1713.5M1768.6 1715.9L1778.3 1717.8M1607.3 1708L1616.7 1711.1M1621.8 1692.2A198.6 198.6 0 0 1 1609.7 1729.3M1621.8 1692.2L1631.5 1694.3M1632 1691.9A208.5 208.5 0 0 1 1630.9 1696.8M1632 1691.9L1777.4 1722.1M1630.9 1696.8L1640.6 1699.1M1641.2 1696.5A218.4 218.4 0 0 1 1640 1701.7M1641.2 1696.5L1776.5 1726.4M1640 1701.7L1649.6 1704.1M1650.2 1701.3A228.3 228.3 0 0 1 1648.9 1706.8M1650.2 1701.3L1775.5 1730.6M1648.9 1706.8L1658.5 1709.2M1659.2 1706.4A238.2 238.2 0 0 1 1657.7 1712.1M1659.2 1706.4L1774.5 1734.9M1657.7 1712.1L1667.3 1714.7M1668 1711.7A248.1 248.1 0 0 1 1666.4 1717.6M1668 1711.7L1773.5 1739.1M1666.4 1717.6L1676 1720.3M1676.8 1717.3A258 258 0 0 1 1675.1 1723.3M1676.8 1717.3L1772.3 1743.3M1675.1 1723.3L1684.6 1726.2M1685.5 1723A267.9 267.9 0 0 1 1683.6 1729.3M1685.5 1723L1771.2 1747.5M1683.6 1729.3L1693.1 1732.2M1694.1 1729A277.8 277.8 0 0 1 1692 1735.5M1694.1 1729L1769.9 1751.7M1692 1735.5L1701.4 1738.5M1702.5 1735.2A287.7 287.7 0 0 1 1700.3 1741.8M1702.5 1735.2L1768.7 1755.9M1700.3 1741.8L1709.7 1745M1710.9 1741.6A297.6 297.6 0 0 1 1708.6 1748.4M1710.9 1741.6L1767.3 1760M1708.6 1748.4L1717.9 1751.7M1719.1 1748.2A307.5 307.5 0 0 1 1716.7 1755.1M1719.1 1748.2L1766 1764.2M1716.7 1755.1L1726 1758.5M1727.2 1755.1A317.4 317.4 0 0 1 1724.7 1761.9M1727.2 1755.1L1764.5 1768.3M1724.7 1761.9L1733.9 1765.4M1735.2 1762.1A327.3 327.3 0 0 1 1732.7 1768.7M1735.2 1762.1L1763 1772.4M1732.7 1768.7L1741.9 1772.3M1743 1769.4A337.2 337.2 0 0 1 1740.8 1775.2M1743 1769.4L1761.5 1776.5M1740.8 1775.2L1750 1778.9M1750.7 1776.9A347.1 347.1 0 0 1 1749.2 1780.8M1750.7 1776.9L1759.9 1780.5M1749.2 1780.8L1758.3 1784.6M1609.7 1729.3L1727.5 1781.2M1729.3 1777A327.3 327.3 0 0 1 1725.7 1785.3M1729.3 1777L1756.6 1788.6M1725.7 1785.3L1734.7 1789.4M1735.9 1786.6A337.2 337.2 0 0 1 1733.4 1792.2M1735.9 1786.6L1745 1790.6M1745.8 1788.6A347.1 347.1 0 0 1 1744.1 1792.5M1745.8 1788.6L1754.9 1792.6M1744.1 1792.5L1753.1 1796.6M1733.4 1792.2L1751.3 1800.6M1482.4 1720.6L1488.5 1728.5M1513.4 1700.6A99.6 99.6 0 0 1 1455 1745.2M1513.4 1700.6L1632.3 1771.8M1639.3 1759.2A238.2 238.2 0 0 1 1624.5 1783.9M1639.3 1759.2L1692 1786.6M1695.2 1780.3A297.6 297.6 0 0 1 1688.7 1792.7M1695.2 1780.3L1739.6 1802.1M1740.5 1800.2A347.1 347.1 0 0 1 1738.7 1804M1740.5 1800.2L1749.4 1804.5M1738.7 1804L1747.5 1808.4M1688.7 1792.7L1697.4 1797.5M1700.2 1792.2A307.5 307.5 0 0 1 1694.5 1802.7M1700.2 1792.2L1726.5 1806M1727.9 1803.3A337.2 337.2 0 0 1 1725.1 1808.7M1727.9 1803.3L1745.6 1812.3M1725.1 1808.7L1733.8 1813.4M1734.8 1811.6A347.1 347.1 0 0 1 1732.8 1815.3M1734.8 1811.6L1743.5 1816.2M1732.8 1815.3L1741.5 1820M1694.5 1802.7L1703 1807.7M1704.8 1804.5A317.4 317.4 0 0 1 1701.2 1810.8M1704.8 1804.5L1739.4 1823.8M1701.2 1810.8L1709.7 1815.8M1711.5 1812.8A327.3 327.3 0 0 1 1707.9 1818.8M1711.5 1812.8L1737.2 1827.6M1707.9 1818.8L1716.4 1824M1718 1821.3A337.2 337.2 0 0 1 1714.8 1826.6M1718 1821.3L1735 1831.4M1714.8 1826.6L1723.2 1831.8M1724.3 1830A347.1 347.1 0 0 1 1722.1 1833.6M1724.3 1830L1732.8 1835.1M1722.1 1833.6L1730.5 1838.8M1624.5 1783.9L1632.7 1789.5M1636.6 1783.6A248.1 248.1 0 0 1 1628.6 1795.2M1636.6 1783.6L1728.2 1842.5M1628.6 1795.2L1636.6 1801.1M1641.9 1793.6A258 258 0 0 1 1631.1 1808.4M1641.9 1793.6L1707.5 1837.8M1709.2 1835.3A337.2 337.2 0 0 1 1705.8 1840.4M1709.2 1835.3L1725.8 1846.2M1705.8 1840.4L1714 1846M1715.1 1844.2A347.1 347.1 0 0 1 1712.7 1847.7M1715.1 1844.2L1723.3 1849.8M1712.7 1847.7L1720.9 1853.4M1631.1 1808.4L1638.9 1814.5M1644.4 1807.2A267.9 267.9 0 0 1 1633.2 1821.6M1644.4 1807.2L1700.4 1848M1702.2 1845.5A337.2 337.2 0 0 1 1698.6 1850.4M1702.2 1845.5L1718.4 1857M1698.6 1850.4L1706.6 1856.3M1707.8 1854.6A347.1 347.1 0 0 1 1705.3 1858M1707.8 1854.6L1715.8 1860.5M1705.3 1858L1713.2 1864M1633.2 1821.6L1640.7 1827.9M1646.3 1821.1A277.8 277.8 0 0 1 1635 1834.6M1646.3 1821.1L1693 1857.8M1694.9 1855.4A337.2 337.2 0 0 1 1691.1 1860.2M1694.9 1855.4L1710.6 1867.5M1691.1 1860.2L1698.8 1866.4M1700.1 1864.8A347.1 347.1 0 0 1 1697.5 1868.1M1700.1 1864.8L1707.9 1870.9M1697.5 1868.1L1705.1 1874.3M1635 1834.6L1642.4 1841.2M1647.1 1835.7A287.7 287.7 0 0 1 1637.5 1846.5M1647.1 1835.7L1677.3 1861.4M1679.5 1858.7A327.3 327.3 0 0 1 1675 1864M1679.5 1858.7L1702.4 1877.7M1675 1864L1682.5 1870.5M1684.5 1868.2A337.2 337.2 0 0 1 1680.4 1872.8M1684.5 1868.2L1699.6 1881M1680.4 1872.8L1687.9 1879.4M1689.3 1877.8A347.1 347.1 0 0 1 1686.5 1881M1689.3 1877.8L1696.7 1884.3M1686.5 1881L1693.8 1887.6M1637.5 1846.5L1644.7 1853.3M1647.1 1850.6A297.6 297.6 0 0 1 1642.2 1855.9M1647.1 1850.6L1690.9 1890.8M1642.2 1855.9L1649.4 1862.7M1651.9 1860.1A307.5 307.5 0 0 1 1646.8 1865.3M1651.9 1860.1L1687.9 1894M1646.8 1865.3L1653.9 1872.3M1656.4 1869.7A317.4 317.4 0 0 1 1651.3 1874.9M1656.4 1869.7L1684.9 1897.2M1651.3 1874.9L1658.3 1881.9M1660.7 1879.4A327.3 327.3 0 0 1 1655.8 1884.3M1660.7 1879.4L1681.9 1900.3M1655.8 1884.3L1662.7 1891.4M1664.9 1889.3A337.2 337.2 0 0 1 1660.4 1893.6M1664.9 1889.3L1678.8 1903.4M1660.4 1893.6L1667.3 1900.8M1668.8 1899.3A347.1 347.1 0 0 1 1665.7 1902.2M1668.8 1899.3L1675.7 1906.4M1665.7 1902.2L1672.5 1909.4M1455 1745.2L1457.7 1754.8M1494.7 1736.2A109.5 109.5 0 0 1 1416.5 1758.3M1494.7 1736.2L1585.3 1853.8M1600.6 1841.1A258 258 0 0 1 1569.1 1865.3M1600.6 1841.1L1653.6 1899.9M1655.9 1897.8A337.2 337.2 0 0 1 1651.3 1901.9M1655.9 1897.8L1669.3 1912.4M1651.3 1901.9L1657.9 1909.4M1659.5 1908A347.1 347.1 0 0 1 1656.3 1910.8M1659.5 1908L1666.1 1915.3M1656.3 1910.8L1662.8 1918.2M1569.1 1865.3L1574.5 1873.6M1594.9 1858.9A267.9 267.9 0 0 1 1552.8 1886.4M1594.9 1858.9L1625.8 1897.6M1631.6 1892.8A317.4 317.4 0 0 1 1619.9 1902.2M1631.6 1892.8L1644.3 1908M1646.7 1906A337.2 337.2 0 0 1 1641.9 1910M1646.7 1906L1659.5 1921.1M1641.9 1910L1648.2 1917.6M1649.8 1916.3A347.1 347.1 0 0 1 1646.6 1919M1649.8 1916.3L1656.2 1923.9M1646.6 1919L1652.8 1926.6M1619.9 1902.2L1625.8 1910.1M1629.4 1907.3A327.3 327.3 0 0 1 1622.2 1912.8M1629.4 1907.3L1641.6 1922.9M1643.3 1921.6A347.1 347.1 0 0 1 1639.9 1924.2M1643.3 1921.6L1649.4 1929.4M1639.9 1924.2L1646 1932.1M1622.2 1912.8L1628.1 1920.7M1630.6 1918.9A337.2 337.2 0 0 1 1625.6 1922.5M1630.6 1918.9L1642.5 1934.7M1625.6 1922.5L1631.4 1930.6M1633.1 1929.3A347.1 347.1 0 0 1 1629.7 1931.8M1633.1 1929.3L1639 1937.3M1629.7 1931.8L1635.5 1939.9M1552.8 1886.4L1557.4 1895.2M1581.8 1880.7A277.8 277.8 0 0 1 1531.6 1907.1M1581.8 1880.7L1598.3 1905.4M1602.1 1902.8A307.5 307.5 0 0 1 1594.4 1907.9M1602.1 1902.8L1624.5 1935.5M1626.2 1934.2A347.1 347.1 0 0 1 1622.7 1936.6M1626.2 1934.2L1631.9 1942.4M1622.7 1936.6L1628.3 1944.8M1594.4 1907.9L1599.8 1916.2M1602.9 1914.2A317.4 317.4 0 0 1 1596.7 1918.2M1602.9 1914.2L1624.7 1947.3M1596.7 1918.2L1602 1926.5M1605 1924.7A327.3 327.3 0 0 1 1599 1928.4M1605 1924.7L1621 1949.7M1599 1928.4L1604.2 1936.8M1606.8 1935.2A337.2 337.2 0 0 1 1601.6 1938.4M1606.8 1935.2L1617.3 1952M1601.6 1938.4L1606.7 1946.9M1608.5 1945.8A347.1 347.1 0 0 1 1604.8 1948M1608.5 1945.8L1613.6 1954.3M1604.8 1948L1609.9 1956.5M1531.6 1907.1L1535.3 1916.3M1552.1 1908.9A287.7 287.7 0 0 1 1518 1922.6M1552.1 1908.9L1556.4 1917.8M1568.4 1911.7A297.6 297.6 0 0 1 1544 1923.4M1568.4 1911.7L1573.1 1920.5M1579 1917.2A307.5 307.5 0 0 1 1567.2 1923.6M1579 1917.2L1593.6 1943.1M1596.2 1941.6A337.2 337.2 0 0 1 1590.9 1944.6M1596.2 1941.6L1606.1 1958.7M1590.9 1944.6L1595.6 1953.3M1597.5 1952.2A347.1 347.1 0 0 1 1593.8 1954.3M1597.5 1952.2L1602.3 1960.9M1593.8 1954.3L1598.5 1963M1567.2 1923.6L1571.7 1932.4M1576.2 1930A317.4 317.4 0 0 1 1567.1 1934.6M1576.2 1930L1594.7 1965M1567.1 1934.6L1571.4 1943.5M1575.5 1941.5A327.3 327.3 0 0 1 1567.4 1945.5M1575.5 1941.5L1584.4 1959.2M1586.3 1958.3A347.1 347.1 0 0 1 1582.5 1960.2M1586.3 1958.3L1590.8 1967.1M1582.5 1960.2L1586.9 1969M1567.4 1945.5L1571.6 1954.4M1574.4 1953.1A337.2 337.2 0 0 1 1568.8 1955.7M1574.4 1953.1L1583 1970.9M1568.8 1955.7L1572.9 1964.7M1574.9 1963.9A347.1 347.1 0 0 1 1571 1965.6M1574.9 1963.9L1579.1 1972.8M1571 1965.6L1575.1 1974.6M1544 1923.4L1547.9 1932.5M1551.3 1931.1A307.5 307.5 0 0 1 1544.6 1933.9M1551.3 1931.1L1571.1 1976.4M1544.6 1933.9L1548.3 1943.1M1551.7 1941.7A317.4 317.4 0 0 1 1544.9 1944.4M1551.7 1941.7L1567.1 1978.1M1544.9 1944.4L1548.6 1953.6M1551.8 1952.3A327.3 327.3 0 0 1 1545.3 1954.9M1551.8 1952.3L1563.1 1979.8M1545.3 1954.9L1548.9 1964.2M1551.8 1963A337.2 337.2 0 0 1 1546 1965.2M1551.8 1963L1559 1981.4M1546 1965.2L1549.5 1974.5M1551.4 1973.8A347.1 347.1 0 0 1 1547.5 1975.3M1551.4 1973.8L1555 1983M1547.5 1975.3L1550.9 1984.5M1518 1922.6L1524.2 1941.4M1530.3 1939.4A307.5 307.5 0 0 1 1518 1943.4M1530.3 1939.4L1546.8 1986M1518 1943.4L1520.9 1952.9M1526.7 1951A317.4 317.4 0 0 1 1515.1 1954.6M1526.7 1951L1529.8 1960.4M1533.1 1959.3A327.3 327.3 0 0 1 1526.5 1961.5M1533.1 1959.3L1542.7 1987.5M1526.5 1961.5L1529.4 1970.9M1532.4 1970A337.2 337.2 0 0 1 1526.5 1971.9M1532.4 1970L1538.5 1988.8M1526.5 1971.9L1529.4 1981.3M1531.4 1980.7A347.1 347.1 0 0 1 1527.4 1981.9M1531.4 1980.7L1534.4 1990.2M1527.4 1981.9L1530.2 1991.4M1515.1 1954.6L1526 1992.7M1416.5 1758.3L1415.5 1768.1M1448.2 1767.1A119.4 119.4 0 0 1 1383.7 1760.3M1448.2 1767.1L1468.3 1884.1M1486.8 1880.2A238.2 238.2 0 0 1 1449.7 1886.6M1486.8 1880.2L1503.9 1947.4M1508.8 1946.1A307.5 307.5 0 0 1 1499 1948.6M1508.8 1946.1L1521.8 1993.8M1499 1948.6L1501.3 1958.2M1505.8 1957.1A317.4 317.4 0 0 1 1496.8 1959.2M1505.8 1957.1L1513 1985.9M1515.1 1985.4A347.1 347.1 0 0 1 1511 1986.4M1515.1 1985.4L1517.6 1995M1511 1986.4L1513.4 1996M1496.8 1959.2L1498.9 1968.9M1502.4 1968.1A327.3 327.3 0 0 1 1495.5 1969.6M1502.4 1968.1L1509.1 1997M1495.5 1969.6L1497.6 1979.3M1500.6 1978.7A337.2 337.2 0 0 1 1494.6 1979.9M1500.6 1978.7L1504.9 1998M1494.6 1979.9L1496.5 1989.7M1498.6 1989.2A347.1 347.1 0 0 1 1494.4 1990.1M1498.6 1989.2L1500.6 1998.9M1494.4 1990.1L1496.3 1999.8M1449.7 1886.6L1450.6 1896.5M1467.3 1894.3A248.1 248.1 0 0 1 1433.7 1897.4M1467.3 1894.3L1476.8 1953M1483.1 1951.9A307.5 307.5 0 0 1 1470.4 1953.9M1483.1 1951.9L1492 2000.6M1470.4 1953.9L1471.8 1963.8M1477.8 1962.9A317.4 317.4 0 0 1 1465.8 1964.5M1477.8 1962.9L1479.3 1972.6M1482.8 1972.1A327.3 327.3 0 0 1 1475.9 1973.2M1482.8 1972.1L1487.7 2001.3M1475.9 1973.2L1477.3 1983M1480.4 1982.5A337.2 337.2 0 0 1 1474.2 1983.4M1480.4 1982.5L1483.4 2002.1M1474.2 1983.4L1475.6 1993.2M1477.7 1992.9A347.1 347.1 0 0 1 1473.5 1993.5M1477.7 1992.9L1479.1 2002.7M1473.5 1993.5L1474.8 2003.3M1465.8 1964.5L1470.5 2003.9M1433.7 1897.4L1433.9 1907.3M1454 1906.1A258 258 0 0 1 1413.9 1907M1454 1906.1L1463 1994.7M1465.1 1994.5A347.1 347.1 0 0 1 1460.9 1994.9M1465.1 1994.5L1466.1 2004.3M1460.9 1994.9L1461.8 2004.8M1413.9 1907L1413.3 1916.9M1432 1917.3A267.9 267.9 0 0 1 1394.8 1915.2M1432 1917.3L1432.1 1927.2M1443.8 1926.7A277.8 277.8 0 0 1 1420.4 1927.1M1443.8 1926.7L1445.5 1956.4M1451.5 1956A307.5 307.5 0 0 1 1439.5 1956.7M1451.5 1956L1454.5 1995.5M1456.6 1995.3A347.1 347.1 0 0 1 1452.4 1995.6M1456.6 1995.3L1457.5 2005.2M1452.4 1995.6L1453.1 2005.5M1439.5 1956.7L1439.9 1966.6M1444.5 1966.4A317.4 317.4 0 0 1 1435.3 1966.7M1444.5 1966.4L1446.1 1996M1448.2 1995.9A347.1 347.1 0 0 1 1443.9 1996.1M1448.2 1995.9L1448.8 2005.8M1443.9 1996.1L1444.4 2006M1435.3 1966.7L1435.5 1976.6M1439 1976.5A327.3 327.3 0 0 1 1432 1976.7M1439 1976.5L1440 2006.2M1432 1976.7L1432.2 1986.6M1435.3 1986.5A337.2 337.2 0 0 1 1429.1 1986.6M1435.3 1986.5L1435.7 2006.3M1429.1 1986.6L1429.1 1996.5M1431.2 1996.5A347.1 347.1 0 0 1 1427 1996.5M1431.2 1996.5L1431.3 2006.4M1427 1996.5L1427 2006.4M1420.4 1927.1L1420.1 1937M1423.6 1937.1A287.7 287.7 0 0 1 1416.7 1936.9M1423.6 1937.1L1422.6 2006.4M1416.7 1936.9L1416.3 1946.8M1419.9 1946.9A297.6 297.6 0 0 1 1412.7 1946.6M1419.9 1946.9L1418.2 2006.3M1412.7 1946.6L1412.2 1956.5M1415.8 1956.7A307.5 307.5 0 0 1 1408.6 1956.3M1415.8 1956.7L1413.9 2006.1M1408.6 1956.3L1407.9 1966.2M1411.6 1966.4A317.4 317.4 0 0 1 1404.3 1965.9M1411.6 1966.4L1409.5 2005.9M1404.3 1965.9L1403.6 1975.8M1407.1 1976A327.3 327.3 0 0 1 1400.1 1975.5M1407.1 1976L1405.2 2005.7M1400.1 1975.5L1399.2 1985.4M1402.3 1985.6A337.2 337.2 0 0 1 1396.2 1985.1M1402.3 1985.6L1400.8 2005.4M1396.2 1985.1L1395.2 1995M1397.3 1995.2A347.1 347.1 0 0 1 1393.1 1994.8M1397.3 1995.2L1396.5 2005M1393.1 1994.8L1392.1 2004.6M1394.8 1915.2L1388.6 1964.4M1392.2 1964.8A317.4 317.4 0 0 1 1385 1963.9M1392.2 1964.8L1387.8 2004.1M1385 1963.9L1383.7 1973.7M1387.2 1974.2A327.3 327.3 0 0 1 1380.2 1973.2M1387.2 1974.2L1383.5 2003.6M1380.2 1973.2L1378.8 1983M1381.8 1983.4A337.2 337.2 0 0 1 1375.7 1982.5M1381.8 1983.4L1379.1 2003.1M1375.7 1982.5L1374.2 1992.3M1376.3 1992.6A347.1 347.1 0 0 1 1372.1 1992M1376.3 1992.6L1374.8 2002.4M1372.1 1992L1370.5 2001.8M1383.7 1760.3L1380 1769.5M1402.5 1776.2A129.3 129.3 0 0 1 1359.1 1758.9M1402.5 1776.2L1363.5 1970.3M1369.4 1971.4A327.3 327.3 0 0 1 1357.6 1969.1M1369.4 1971.4L1365.8 1990.9M1367.9 1991.3A347.1 347.1 0 0 1 1363.8 1990.5M1367.9 1991.3L1366.2 2001M1363.8 1990.5L1361.9 2000.3M1357.6 1969.1L1355.5 1978.7M1359.5 1979.6A337.2 337.2 0 0 1 1351.5 1977.8M1359.5 1979.6L1357.5 1989.3M1359.6 1989.7A347.1 347.1 0 0 1 1355.4 1988.9M1359.6 1989.7L1357.6 1999.4M1355.4 1988.9L1353.4 1998.5M1351.5 1977.8L1349.2 1987.5M1351.3 1987.9A347.1 347.1 0 0 1 1347.2 1987M1351.3 1987.9L1349.1 1997.6M1347.2 1987L1344.9 1996.6M1359.1 1758.9L1353.9 1767.3M1383.1 1781.2A139.2 139.2 0 0 1 1328.6 1747M1383.1 1781.2L1329 1940.6M1341 1944.4A307.5 307.5 0 0 1 1317.2 1936.3M1341 1944.4L1338.2 1953.8M1347 1956.3A317.4 317.4 0 0 1 1329.4 1951.1M1347 1956.3L1344.5 1965.9M1347.9 1966.8A327.3 327.3 0 0 1 1341.1 1965M1347.9 1966.8L1340.6 1995.6M1341.1 1965L1338.5 1974.5M1341.5 1975.3A337.2 337.2 0 0 1 1335.5 1973.7M1341.5 1975.3L1336.4 1994.5M1335.5 1973.7L1332.8 1983.2M1334.8 1983.8A347.1 347.1 0 0 1 1330.8 1982.6M1334.8 1983.8L1332.2 1993.3M1330.8 1982.6L1328 1992.1M1329.4 1951.1L1326.3 1960.5M1330.6 1961.9A327.3 327.3 0 0 1 1322 1959.1M1330.6 1961.9L1324.7 1980.8M1326.7 1981.4A347.1 347.1 0 0 1 1322.7 1980.2M1326.7 1981.4L1323.8 1990.9M1322.7 1980.2L1319.7 1989.6M1322 1959.1L1318.8 1968.5M1321.7 1969.5A337.2 337.2 0 0 1 1315.9 1967.5M1321.7 1969.5L1315.5 1988.2M1315.9 1967.5L1312.6 1976.8M1314.6 1977.5A347.1 347.1 0 0 1 1310.6 1976.1M1314.6 1977.5L1311.4 1986.8M1310.6 1976.1L1307.3 1985.4M1317.2 1936.3L1313.6 1945.5M1317 1946.8A317.4 317.4 0 0 1 1310.2 1944.2M1317 1946.8L1303.2 1983.9M1310.2 1944.2L1306.6 1953.4M1309.8 1954.7A327.3 327.3 0 0 1 1303.3 1952.1M1309.8 1954.7L1299.1 1982.4M1303.3 1952.1L1299.5 1961.2M1302.4 1962.4A337.2 337.2 0 0 1 1296.7 1960M1302.4 1962.4L1295 1980.8M1296.7 1960L1292.8 1969.1M1294.8 1970A347.1 347.1 0 0 1 1290.9 1968.3M1294.8 1970L1291 1979.1M1290.9 1968.3L1287 1977.4M1328.6 1747L1321.6 1753.9M1353 1778.3A149.1 149.1 0 0 1 1297.7 1722M1353 1778.3L1293.4 1881.1M1312.9 1891.4A267.9 267.9 0 0 1 1274.7 1869.2M1312.9 1891.4L1295.9 1927.1M1301.4 1929.7A307.5 307.5 0 0 1 1290.5 1924.5M1301.4 1929.7L1285.1 1965.7M1287 1966.6A347.1 347.1 0 0 1 1283.1 1964.9M1287 1966.6L1283 1975.7M1283.1 1964.9L1279 1973.9M1290.5 1924.5L1286.1 1933.4M1290.3 1935.4A317.4 317.4 0 0 1 1282 1931.3M1290.3 1935.4L1277.4 1962.2M1279.3 1963.1A347.1 347.1 0 0 1 1275.5 1961.2M1279.3 1963.1L1275.1 1972M1275.5 1961.2L1271.1 1970.1M1282 1931.3L1277.5 1940.1M1280.6 1941.7A327.3 327.3 0 0 1 1274.4 1938.5M1280.6 1941.7L1267.2 1968.2M1274.4 1938.5L1269.7 1947.2M1272.5 1948.6A337.2 337.2 0 0 1 1267 1945.7M1272.5 1948.6L1263.3 1966.2M1267 1945.7L1262.3 1954.4M1264.1 1955.4A347.1 347.1 0 0 1 1260.4 1953.4M1264.1 1955.4L1259.5 1964.2M1260.4 1953.4L1255.6 1962.1M1274.7 1869.2L1269.1 1877.3M1284.8 1887.5A277.8 277.8 0 0 1 1254.1 1866.1M1284.8 1887.5L1269.5 1912.9M1274.6 1916A307.5 307.5 0 0 1 1264.4 1909.8M1274.6 1916L1254.9 1950.3M1256.7 1951.4A347.1 347.1 0 0 1 1253 1949.2M1256.7 1951.4L1251.8 1960M1253 1949.2L1248.1 1957.8M1264.4 1909.8L1259.1 1918.2M1263 1920.6A317.4 317.4 0 0 1 1255.2 1915.7M1263 1920.6L1247.6 1946M1249.4 1947.1A347.1 347.1 0 0 1 1245.8 1944.9M1249.4 1947.1L1244.3 1955.6M1245.8 1944.9L1240.6 1953.3M1255.2 1915.7L1249.8 1924M1252.8 1925.9A327.3 327.3 0 0 1 1246.9 1922.1M1252.8 1925.9L1236.9 1951M1246.9 1922.1L1241.4 1930.3M1244 1932A337.2 337.2 0 0 1 1238.9 1928.6M1244 1932L1233.2 1948.6M1238.9 1928.6L1233.3 1936.8M1235.1 1938A347.1 347.1 0 0 1 1231.6 1935.6M1235.1 1938L1229.6 1946.2M1231.6 1935.6L1225.9 1943.8M1254.1 1866.1L1247.9 1873.8M1258.5 1882A287.7 287.7 0 0 1 1237.7 1865.2M1258.5 1882L1241 1906M1245.2 1908.9A317.4 317.4 0 0 1 1236.9 1902.9M1245.2 1908.9L1222.4 1941.3M1236.9 1902.9L1231 1910.8M1234.6 1913.5A327.3 327.3 0 0 1 1227.4 1908.1M1234.6 1913.5L1222.9 1929.5M1224.6 1930.7A347.1 347.1 0 0 1 1221.2 1928.2M1224.6 1930.7L1218.8 1938.8M1221.2 1928.2L1215.3 1936.2M1227.4 1908.1L1221.3 1915.9M1223.8 1917.8A337.2 337.2 0 0 1 1218.9 1914M1223.8 1917.8L1211.8 1933.6M1218.9 1914L1212.8 1921.8M1214.4 1923.1A347.1 347.1 0 0 1 1211.1 1920.5M1214.4 1923.1L1208.4 1930.9M1211.1 1920.5L1204.9 1928.2M1237.7 1865.2L1231.1 1872.6M1236.8 1877.5A297.6 297.6 0 0 1 1225.6 1867.7M1236.8 1877.5L1217.7 1900.3M1220.4 1902.5A327.3 327.3 0 0 1 1215 1898M1220.4 1902.5L1201.5 1925.5M1215 1898L1208.6 1905.5M1210.9 1907.5A337.2 337.2 0 0 1 1206.2 1903.5M1210.9 1907.5L1198.2 1922.7M1206.2 1903.5L1199.7 1911M1201.3 1912.4A347.1 347.1 0 0 1 1198.1 1909.6M1201.3 1912.4L1194.9 1919.9M1198.1 1909.6L1191.6 1917M1225.6 1867.7L1218.9 1874.9M1221.5 1877.4A307.5 307.5 0 0 1 1216.2 1872.4M1221.5 1877.4L1188.3 1914.1M1216.2 1872.4L1209.4 1879.6M1212 1882.1A317.4 317.4 0 0 1 1206.8 1877.1M1212 1882.1L1185.1 1911.1M1206.8 1877.1L1199.9 1884.2M1202.4 1886.6A327.3 327.3 0 0 1 1197.4 1881.7M1202.4 1886.6L1181.9 1908.1M1197.4 1881.7L1190.4 1888.8M1192.6 1890.9A337.2 337.2 0 0 1 1188.2 1886.6M1192.6 1890.9L1178.8 1905.1M1188.2 1886.6L1181.2 1893.5M1182.7 1895.1A347.1 347.1 0 0 1 1179.7 1892M1182.7 1895.1L1175.7 1902.1M1179.7 1892L1172.6 1899M1297.7 1722L1289 1726.8M1304.9 1750.1A159 159 0 0 1 1277.6 1701.2M1304.9 1750.1L1189.9 1844.2M1202.2 1858.2A307.5 307.5 0 0 1 1178.6 1829.4M1202.2 1858.2L1187.7 1871.7M1191.1 1875.3A327.3 327.3 0 0 1 1184.3 1868M1191.1 1875.3L1169.6 1895.8M1184.3 1868L1176.9 1874.6M1179.7 1877.6A337.2 337.2 0 0 1 1174.2 1871.5M1179.7 1877.6L1172.4 1884.3M1173.8 1885.9A347.1 347.1 0 0 1 1171 1882.8M1173.8 1885.9L1166.6 1892.6M1171 1882.8L1163.6 1889.4M1174.2 1871.5L1166.7 1878M1168.1 1879.6A347.1 347.1 0 0 1 1165.3 1876.4M1168.1 1879.6L1160.7 1886.2M1165.3 1876.4L1157.9 1882.9M1178.6 1829.4L1170.5 1835.1M1176.8 1843.5A317.4 317.4 0 0 1 1164.6 1826.6M1176.8 1843.5L1168.9 1849.6M1173.9 1855.8A327.3 327.3 0 0 1 1164.1 1843.2M1173.9 1855.8L1166.2 1862.1M1168.8 1865.2A337.2 337.2 0 0 1 1163.6 1858.9M1168.8 1865.2L1161.2 1871.6M1162.6 1873.2A347.1 347.1 0 0 1 1159.9 1869.9M1162.6 1873.2L1155 1879.6M1159.9 1869.9L1152.2 1876.2M1163.6 1858.9L1155.9 1865M1157.2 1866.7A347.1 347.1 0 0 1 1154.6 1863.3M1157.2 1866.7L1149.5 1872.9M1154.6 1863.3L1146.8 1869.4M1164.1 1843.2L1156.1 1849M1158.6 1852.3A337.2 337.2 0 0 1 1153.7 1845.7M1158.6 1852.3L1150.7 1858.3M1152 1860A347.1 347.1 0 0 1 1149.4 1856.6M1152 1860L1144.1 1866M1149.4 1856.6L1141.5 1862.5M1153.7 1845.7L1145.7 1851.5M1146.9 1853.2A347.1 347.1 0 0 1 1144.4 1849.7M1146.9 1853.2L1138.9 1859M1144.4 1849.7L1136.4 1855.4M1164.6 1826.6L1156.4 1832.1M1158.3 1835A327.3 327.3 0 0 1 1154.4 1829.2M1158.3 1835L1133.9 1851.9M1154.4 1829.2L1146.1 1834.7M1147.9 1837.2A337.2 337.2 0 0 1 1144.5 1832.1M1147.9 1837.2L1131.4 1848.3M1144.5 1832.1L1136.1 1837.4M1137.3 1839.2A347.1 347.1 0 0 1 1135 1835.6M1137.3 1839.2L1129 1844.6M1135 1835.6L1126.6 1841M1277.6 1701.2L1268.2 1704.4M1283.2 1736.5A168.9 168.9 0 0 1 1260.2 1669.8M1283.2 1736.5L1274.7 1741.6M1275.9 1743.5A178.8 178.8 0 0 1 1273.6 1739.7M1275.9 1743.5L1124.3 1837.3M1273.6 1739.7L1265.1 1744.7M1266.2 1746.7A188.7 188.7 0 0 1 1263.9 1742.7M1266.2 1746.7L1122.1 1833.5M1263.9 1742.7L1255.3 1747.6M1256.5 1749.7A198.6 198.6 0 0 1 1254.1 1745.5M1256.5 1749.7L1119.8 1829.8M1254.1 1745.5L1245.4 1750.3M1246.7 1752.5A208.5 208.5 0 0 1 1244.2 1748.1M1246.7 1752.5L1117.6 1826M1244.2 1748.1L1235.5 1752.8M1236.8 1755.1A218.4 218.4 0 0 1 1234.2 1750.4M1236.8 1755.1L1115.5 1822.2M1234.2 1750.4L1225.5 1755M1226.8 1757.5A228.3 228.3 0 0 1 1224.2 1752.5M1226.8 1757.5L1113.4 1818.4M1224.2 1752.5L1215.3 1756.9M1216.7 1759.6A238.2 238.2 0 0 1 1214 1754.3M1216.7 1759.6L1111.4 1814.5M1214 1754.3L1205.1 1758.6M1206.5 1761.5A248.1 248.1 0 0 1 1203.7 1755.7M1206.5 1761.5L1109.4 1810.6M1203.7 1755.7L1194.8 1760M1196.3 1763.1A258 258 0 0 1 1193.3 1756.8M1196.3 1763.1L1107.4 1806.7M1193.3 1756.8L1184.3 1761M1186 1764.5A267.9 267.9 0 0 1 1182.7 1757.4M1186 1764.5L1105.5 1802.8M1182.7 1757.4L1173.7 1761.4M1175.6 1765.7A277.8 277.8 0 0 1 1171.8 1757M1175.6 1765.7L1103.7 1798.9M1171.8 1757L1162.7 1760.9M1165.2 1766.6A287.7 287.7 0 0 1 1160.3 1755.1M1165.2 1766.6L1101.9 1794.9M1160.3 1755.1L1151.1 1758.7M1154.7 1767.4A297.6 297.6 0 0 1 1147.8 1749.9M1154.7 1767.4L1100.1 1790.9M1147.8 1749.9L1138.5 1753.3M1144.1 1767.8A307.5 307.5 0 0 1 1133.6 1738.4M1144.1 1767.8L1098.4 1786.9M1133.6 1738.4L1124.1 1741.3M1128.7 1755.4A317.4 317.4 0 0 1 1120.1 1727.1M1128.7 1755.4L1119.4 1758.7M1122.1 1766.2A327.3 327.3 0 0 1 1116.8 1751.1M1122.1 1766.2L1112.9 1769.7M1114.4 1773.5A337.2 337.2 0 0 1 1111.4 1765.8M1114.4 1773.5L1105.2 1777.2M1106 1779.1A347.1 347.1 0 0 1 1104.4 1775.2M1106 1779.1L1096.8 1782.8M1104.4 1775.2L1095.2 1778.8M1111.4 1765.8L1102.1 1769.3M1102.9 1771.2A347.1 347.1 0 0 1 1101.4 1767.3M1102.9 1771.2L1093.6 1774.7M1101.4 1767.3L1092.1 1770.6M1116.8 1751.1L1107.4 1754.2M1108.7 1758.1A337.2 337.2 0 0 1 1106.1 1750.2M1108.7 1758.1L1099.3 1761.3M1100 1763.3A347.1 347.1 0 0 1 1098.6 1759.2M1100 1763.3L1090.7 1766.5M1098.6 1759.2L1089.2 1762.4M1106.1 1750.2L1096.7 1753.2M1097.3 1755.2A347.1 347.1 0 0 1 1096.1 1751.2M1097.3 1755.2L1087.9 1758.2M1096.1 1751.2L1086.6 1754.1M1120.1 1727.1L1110.5 1729.5M1112.2 1735.8A327.3 327.3 0 0 1 1109 1723.2M1112.2 1735.8L1102.7 1738.4M1103.8 1742.3A337.2 337.2 0 0 1 1101.6 1734.4M1103.8 1742.3L1094.2 1745.1M1094.8 1747.1A347.1 347.1 0 0 1 1093.7 1743M1094.8 1747.1L1085.3 1749.9M1093.7 1743L1084.1 1745.7M1101.6 1734.4L1092 1736.9M1092.5 1738.9A347.1 347.1 0 0 1 1091.5 1734.8M1092.5 1738.9L1083 1741.5M1091.5 1734.8L1081.9 1737.3M1109 1723.2L1099.4 1725.4M1100.1 1728.4A337.2 337.2 0 0 1 1098.7 1722.4M1100.1 1728.4L1080.8 1733M1098.7 1722.4L1089 1724.5M1089.5 1726.6A347.1 347.1 0 0 1 1088.6 1722.5M1089.5 1726.6L1079.8 1728.8M1088.6 1722.5L1078.9 1724.5M1260.2 1669.8L1201.3 1677M1203.7 1692.7A228.3 228.3 0 0 1 1199.9 1661.2M1203.7 1692.7L1096.8 1713.3M1097.4 1716.3A337.2 337.2 0 0 1 1096.2 1710.3M1097.4 1716.3L1078 1720.3M1096.2 1710.3L1086.5 1712.1M1086.9 1714.1A347.1 347.1 0 0 1 1086.1 1710M1086.9 1714.1L1077.2 1716M1086.1 1710L1076.4 1711.7M1199.9 1661.2L1190 1661.7M1192.1 1683.3A238.2 238.2 0 0 1 1189.9 1640.1M1192.1 1683.3L1133.3 1691.7M1134.3 1697.7A297.6 297.6 0 0 1 1132.5 1685.7M1134.3 1697.7L1075.6 1707.4M1132.5 1685.7L1122.7 1686.9M1123.5 1692.9A307.5 307.5 0 0 1 1122 1681M1123.5 1692.9L1094.1 1697.1M1094.5 1700.1A337.2 337.2 0 0 1 1093.7 1694M1094.5 1700.1L1075 1703.1M1093.7 1694L1083.8 1695.3M1084.1 1697.4A347.1 347.1 0 0 1 1083.6 1693.2M1084.1 1697.4L1074.3 1698.8M1083.6 1693.2L1073.8 1694.5M1122 1681L1112.2 1682M1112.6 1685.6A317.4 317.4 0 0 1 1111.8 1678.4M1112.6 1685.6L1073.2 1690.1M1111.8 1678.4L1102 1679.3M1102.3 1682.8A327.3 327.3 0 0 1 1101.7 1675.8M1102.3 1682.8L1072.8 1685.8M1101.7 1675.8L1091.8 1676.6M1092.1 1679.7A337.2 337.2 0 0 1 1091.6 1673.5M1092.1 1679.7L1072.3 1681.4M1091.6 1673.5L1081.7 1674.2M1081.8 1676.3A347.1 347.1 0 0 1 1081.5 1672.1M1081.8 1676.3L1072 1677.1M1081.5 1672.1L1071.7 1672.7M1189.9 1640.1L1180 1639.7M1180 1660A248.1 248.1 0 0 1 1181.6 1619.5M1180 1660L1100.9 1663.3M1101.1 1666.8A327.3 327.3 0 0 1 1100.8 1659.8M1101.1 1666.8L1071.4 1668.4M1100.8 1659.8L1090.9 1660.1M1091 1663.2A337.2 337.2 0 0 1 1090.8 1657.1M1091 1663.2L1071.2 1664M1090.8 1657.1L1080.9 1657.3M1080.9 1659.4A347.1 347.1 0 0 1 1080.8 1655.2M1080.9 1659.4L1071 1659.7M1080.8 1655.2L1070.9 1655.3M1181.6 1619.5L1171.8 1618.3M1170 1641.7A258 258 0 0 1 1175.7 1595.2M1170 1641.7L1160.1 1641.4M1160 1646.5A267.9 267.9 0 0 1 1160.3 1636.3M1160 1646.5L1090.7 1645.7M1090.7 1648.8A337.2 337.2 0 0 1 1090.8 1642.6M1090.7 1648.8L1080.8 1648.8M1080.8 1650.9A347.1 347.1 0 0 1 1080.8 1646.7M1080.8 1650.9L1070.9 1651M1080.8 1646.7L1070.9 1646.6M1090.8 1642.6L1071 1642.2M1160.3 1636.3L1150.4 1635.8M1150.2 1640.4A277.8 277.8 0 0 1 1150.7 1631.1M1150.2 1640.4L1071.1 1637.9M1150.7 1631.1L1140.8 1630.5M1140.6 1634.8A287.7 287.7 0 0 1 1141.1 1626.1M1140.6 1634.8L1081.2 1631.8M1081.1 1634A347.1 347.1 0 0 1 1081.4 1629.7M1081.1 1634L1071.3 1633.5M1081.4 1629.7L1071.5 1629.2M1141.1 1626.1L1131.3 1625.3M1131 1628.9A297.6 297.6 0 0 1 1131.6 1621.8M1131 1628.9L1071.7 1624.8M1131.6 1621.8L1121.7 1620.8M1121.4 1624.5A307.5 307.5 0 0 1 1122.1 1617.2M1121.4 1624.5L1072.1 1620.5M1122.1 1617.2L1112.2 1616.2M1111.9 1619.8A317.4 317.4 0 0 1 1112.6 1612.6M1111.9 1619.8L1072.5 1616.1M1112.6 1612.6L1102.8 1611.4M1102.4 1614.9A327.3 327.3 0 0 1 1103.2 1608M1102.4 1614.9L1072.9 1611.8M1103.2 1608L1093.4 1606.7M1093 1609.8A337.2 337.2 0 0 1 1093.8 1603.6M1093 1609.8L1073.4 1607.4M1093.8 1603.6L1084 1602.3M1083.7 1604.4A347.1 347.1 0 0 1 1084.3 1600.2M1083.7 1604.4L1073.9 1603.1M1084.3 1600.2L1074.5 1598.8M1175.7 1595.2L1166 1593.1M1163.9 1603.8A267.9 267.9 0 0 1 1168.5 1582.6M1163.9 1603.8L1134.6 1598.7M1133.8 1603.6A297.6 297.6 0 0 1 1135.5 1593.9M1133.8 1603.6L1075.2 1594.5M1135.5 1593.9L1125.8 1592M1124.7 1598.4A307.5 307.5 0 0 1 1127.1 1585.7M1124.7 1598.4L1075.8 1590.2M1127.1 1585.7L1117.4 1583.6M1116.2 1589.6A317.4 317.4 0 0 1 1118.7 1577.7M1116.2 1589.6L1106.5 1587.7M1105.8 1591.2A327.3 327.3 0 0 1 1107.1 1584.3M1105.8 1591.2L1076.6 1585.9M1107.1 1584.3L1097.4 1582.3M1096.8 1585.3A337.2 337.2 0 0 1 1098.1 1579.3M1096.8 1585.3L1077.4 1581.6M1098.1 1579.3L1088.4 1577.2M1088 1579.3A347.1 347.1 0 0 1 1088.8 1575.2M1088 1579.3L1078.3 1577.3M1088.8 1575.2L1079.2 1573M1118.7 1577.7L1080.1 1568.8M1168.5 1582.6L1158.9 1580.1M1158.1 1583.4A277.8 277.8 0 0 1 1159.7 1576.8M1158.1 1583.4L1081.1 1564.5M1159.7 1576.8L1150.2 1574.2M1149.3 1577.6A287.7 287.7 0 0 1 1151.1 1570.9M1149.3 1577.6L1082.2 1560.3M1151.1 1570.9L1141.6 1568.2M1140.6 1571.6A297.6 297.6 0 0 1 1142.6 1564.7M1140.6 1571.6L1083.3 1556.1M1142.6 1564.7L1133.1 1561.9M1132.1 1565.4A307.5 307.5 0 0 1 1134.2 1558.4M1132.1 1565.4L1084.5 1551.9M1134.2 1558.4L1124.7 1555.5M1123.6 1559A317.4 317.4 0 0 1 1125.8 1552M1123.6 1559L1085.7 1547.7M1125.8 1552L1116.4 1549M1115.3 1552.3A327.3 327.3 0 0 1 1117.5 1545.7M1115.3 1552.3L1087 1543.5M1117.5 1545.7L1108.1 1542.5M1107.1 1545.5A337.2 337.2 0 0 1 1109.1 1539.6M1107.1 1545.5L1088.3 1539.4M1109.1 1539.6L1099.7 1536.4M1099 1538.4A347.1 347.1 0 0 1 1100.4 1534.4M1099 1538.4L1089.6 1535.2M1100.4 1534.4L1091.1 1531.1" stroke="#222" stroke-width="0.75" fill="none"/>
<polygon points="1028.2,1399.6 1030.7,1400.1 1032.1,1398 1032.4,1400.5 1034.8,1401.3 1032.5,1402.3 1032.6,1404.8 1030.9,1403 1028.5,1403.8 1029.7,1401.6" fill="#fff" stroke="#222" stroke-width="0.7"/>
<polygon points="1025.1,1405.2 1027.6,1405.7 1029,1403.6 1029.3,1406.1 1031.7,1406.8 1029.4,1407.9 1029.5,1410.4 1027.8,1408.6 1025.4,1409.5 1026.6,1407.2" fill="#fff" stroke="#222" stroke-width="0.7"/>
<polygon points="1050.1,1370.7 1052.6,1371.4 1054.2,1369.5 1054.3,1372 1056.6,1372.9 1054.3,1373.8 1054.1,1376.3 1052.6,1374.3 1050.1,1375 1051.5,1372.9" fill="#fff" stroke="#222" stroke-width="0.7"/>
<polygon points="1234.6,1220.8 1236.3,1222.6 1238.7,1221.7 1237.5,1223.9 1239.2,1225.9 1236.7,1225.5 1235.3,1227.6 1234.9,1225.1 1232.5,1224.5 1234.7,1223.4" fill="#fff" stroke="#222" stroke-width="0.7"/>
<polygon points="1294.8,1198.9 1296.3,1200.9 1298.8,1200.3 1297.3,1202.4 1298.6,1204.5 1296.2,1203.8 1294.6,1205.7 1294.5,1203.2 1292.2,1202.2 1294.6,1201.4" fill="#fff" stroke="#222" stroke-width="0.7"/>
<polygon points="1364.4,1183.8 1365.6,1186.1 1368.1,1185.8 1366.4,1187.7 1367.4,1190 1365.1,1188.9 1363.2,1190.6 1363.5,1188 1361.3,1186.7 1363.8,1186.3" fill="#fff" stroke="#222" stroke-width="0.7"/>
<polygon points="1428.4,1179.4 1429.3,1181.8 1431.8,1181.9 1429.8,1183.5 1430.5,1185.9 1428.4,1184.5 1426.2,1185.9 1426.9,1183.5 1424.9,1181.9 1427.5,1181.8" fill="#fff" stroke="#222" stroke-width="0.7"/>
<polygon points="1487.3,1183.2 1487.9,1185.7 1490.4,1186.1 1488.2,1187.4 1488.6,1189.9 1486.7,1188.3 1484.4,1189.4 1485.4,1187 1483.6,1185.2 1486.1,1185.4" fill="#fff" stroke="#222" stroke-width="0.7"/>
<polygon points="1526.8,1190.1 1527.2,1192.6 1529.7,1193.2 1527.4,1194.4 1527.5,1196.9 1525.8,1195.1 1523.4,1196 1524.6,1193.8 1523,1191.8 1525.5,1192.2" fill="#fff" stroke="#222" stroke-width="0.7"/>
<polygon points="1616.5,1219.6 1616.4,1222.1 1618.7,1223.2 1616.2,1223.9 1615.9,1226.4 1614.5,1224.3 1612,1224.7 1613.6,1222.7 1612.4,1220.5 1614.8,1221.4" fill="#fff" stroke="#222" stroke-width="0.7"/>
<polygon points="1856.2,1458.5 1854.3,1460.3 1855.3,1462.7 1853,1461.5 1851.1,1463.1 1851.5,1460.6 1849.3,1459.3 1851.8,1458.9 1852.5,1456.4 1853.6,1458.7" fill="#fff" stroke="#222" stroke-width="0.7"/>
<polygon points="1884.4,1749 1881.9,1749.3 1881.2,1751.8 1880.1,1749.5 1877.6,1749.6 1879.4,1747.9 1878.5,1745.5 1880.7,1746.7 1882.7,1745.1 1882.3,1747.6" fill="#fff" stroke="#222" stroke-width="0.7"/>
<polygon points="1881.3,1762.1 1878.7,1762.4 1878,1764.9 1877,1762.6 1874.4,1762.6 1876.3,1760.9 1875.4,1758.5 1877.7,1759.8 1879.7,1758.2 1879.2,1760.7" fill="#fff" stroke="#222" stroke-width="0.7"/>
<polygon points="1510.5,2110.9 1509.2,2108.7 1506.7,2109 1508.4,2107.1 1507.3,2104.8 1509.6,2105.9 1511.5,2104.1 1511.2,2106.6 1513.5,2107.8 1511,2108.4" fill="#fff" stroke="#222" stroke-width="0.7"/>
<polygon points="1329.9,2108.4 1329.5,2105.9 1327.1,2105.2 1329.3,2104.1 1329.2,2101.6 1331,2103.4 1333.3,2102.4 1332.1,2104.7 1333.8,2106.7 1331.3,2106.2" fill="#fff" stroke="#222" stroke-width="0.7"/>
<polygon points="1257.1,2086.4 1257.2,2083.9 1254.8,2082.9 1257.3,2082.1 1257.5,2079.6 1259,2081.7 1261.5,2081.1 1259.9,2083.2 1261.2,2085.3 1258.8,2084.5" fill="#fff" stroke="#222" stroke-width="0.7"/>
<polygon points="1224.5,2072.6 1224.7,2070.1 1222.5,2068.9 1225,2068.3 1225.4,2065.8 1226.7,2068 1229.2,2067.7 1227.6,2069.6 1228.7,2071.9 1226.3,2070.9" fill="#fff" stroke="#222" stroke-width="0.7"/>
<polygon points="1174.3,2044.4 1174.9,2041.9 1172.8,2040.5 1175.3,2040.2 1176.1,2037.8 1177.1,2040.1 1179.6,2040.1 1177.7,2041.7 1178.6,2044.2 1176.4,2042.9" fill="#fff" stroke="#222" stroke-width="0.7"/>
<polygon points="1065.2,1947.8 1066.5,1945.6 1064.9,1943.6 1067.4,1944.1 1068.9,1942 1069.1,1944.5 1071.6,1945.3 1069.2,1946.3 1069.3,1948.9 1067.6,1947" fill="#fff" stroke="#222" stroke-width="0.7"/>
<polygon points="1050.1,1927.1 1051.5,1925 1050.1,1922.9 1052.6,1923.5 1054.1,1921.5 1054.3,1924.1 1056.6,1924.9 1054.3,1925.9 1054.2,1928.4 1052.6,1926.4" fill="#fff" stroke="#222" stroke-width="0.7"/>
<polygon points="962.3,1708.2 964.6,1707 964.4,1704.5 966.2,1706.3 968.5,1705.3 967.4,1707.6 969.1,1709.5 966.5,1709.1 965.2,1711.3 964.8,1708.8" fill="#fff" stroke="#222" stroke-width="0.7"/>
<polygon points="963,1713.2 965.2,1712 965,1709.5 966.8,1711.2 969.1,1710.2 968,1712.5 969.7,1714.4 967.2,1714.1 965.9,1716.3 965.4,1713.8" fill="#fff" stroke="#222" stroke-width="0.7"/>
<polygon points="963.6,1718.2 965.8,1717 965.5,1714.5 967.4,1716.2 969.7,1715.2 968.6,1717.5 970.3,1719.4 967.8,1719.1 966.5,1721.2 966.1,1718.8" fill="#fff" stroke="#222" stroke-width="0.7"/>
<polygon points="964.2,1723.2 966.4,1722 966.1,1719.5 968,1721.2 970.3,1720.1 969.3,1722.4 971,1724.3 968.5,1724 967.2,1726.2 966.7,1723.7" fill="#fff" stroke="#222" stroke-width="0.7"/>
<polygon points="958.6,1667.4 960.9,1666.4 960.9,1663.9 962.6,1665.8 965,1665.1 963.7,1667.2 965.2,1669.3 962.7,1668.7 961.2,1670.7 961,1668.2" fill="#fff" stroke="#222" stroke-width="0.7"/>
<polygon points="958.6,1614.7 961,1614 961.3,1611.5 962.7,1613.6 965.2,1613.1 963.7,1615.1 964.9,1617.3 962.5,1616.5 960.8,1618.3 960.9,1615.8" fill="#fff" stroke="#222" stroke-width="0.7"/>
<polygon points="973.6,1528.2 976.1,1527.9 976.9,1525.5 977.9,1527.8 980.5,1527.8 978.6,1529.5 979.4,1531.9 977.2,1530.6 975.1,1532.1 975.7,1529.6" fill="#fff" stroke="#222" stroke-width="0.7"/>
<polygon points="979.3,1510.6 981.8,1510.5 982.7,1508.1 983.6,1510.4 986.1,1510.5 984.1,1512.1 984.9,1514.6 982.7,1513.2 980.6,1514.6 981.3,1512.2" fill="#fff" stroke="#222" stroke-width="0.7"/>
<polygon points="1112.2,1300.5 1114.5,1301.7 1116.4,1300 1116,1302.5 1118.2,1303.9 1115.7,1304.3 1115,1306.7 1113.9,1304.5 1111.4,1304.6 1113.2,1302.8" fill="#000" stroke="#000" stroke-width="0.5"/>
<polygon points="1318.6,1192.6 1320,1194.7 1322.5,1194.2 1320.9,1196.2 1322.2,1198.4 1319.8,1197.6 1318.1,1199.4 1318.1,1196.9 1315.8,1195.8 1318.3,1195.1" fill="#000" stroke="#000" stroke-width="0.5"/>
<polygon points="1876.2,1513.1 1874.2,1514.7 1874.8,1517.1 1872.8,1515.7 1870.6,1517 1871.3,1514.6 1869.4,1513 1871.9,1512.9 1872.8,1510.6 1873.7,1513" fill="#000" stroke="#000" stroke-width="0.5"/>
<polygon points="1876.9,1784.1 1874.3,1784.3 1873.5,1786.7 1872.5,1784.3 1870,1784.2 1872,1782.6 1871.2,1780.2 1873.4,1781.5 1875.5,1780.1 1874.8,1782.6" fill="#000" stroke="#000" stroke-width="0.5"/>
<polygon points="1831.7,1886.3 1829.2,1885.9 1827.8,1888 1827.5,1885.5 1825,1884.9 1827.3,1883.7 1827.1,1881.2 1828.9,1883 1831.3,1882.1 1830.1,1884.4" fill="#000" stroke="#000" stroke-width="0.5"/>
<polygon points="1617.2,2078.3 1615.4,2076.5 1613,2077.4 1614.2,2075.1 1612.6,2073.2 1615.1,2073.6 1616.5,2071.5 1616.8,2074 1619.3,2074.6 1617,2075.7" fill="#000" stroke="#000" stroke-width="0.5"/>
<polygon points="1573.3,2095.2 1571.7,2093.2 1569.2,2093.9 1570.6,2091.8 1569.2,2089.7 1571.7,2090.3 1573.3,2088.4 1573.4,2090.9 1575.7,2091.8 1573.4,2092.7" fill="#000" stroke="#000" stroke-width="0.5"/>
<polygon points="1521.8,2109 1520.5,2106.9 1518,2107.3 1519.6,2105.3 1518.4,2103 1520.8,2104 1522.6,2102.2 1522.4,2104.7 1524.7,2105.9 1522.2,2106.5" fill="#000" stroke="#000" stroke-width="0.5"/>
<polygon points="1353.7,2112.8 1353.2,2110.3 1350.7,2109.8 1352.9,2108.5 1352.7,2106 1354.5,2107.7 1356.8,2106.7 1355.8,2109 1357.5,2110.8 1355,2110.6" fill="#000" stroke="#000" stroke-width="0.5"/>
<polygon points="1365,2114 1364.5,2111.5 1362,2111.1 1364.1,2109.8 1363.8,2107.3 1365.7,2109 1368,2107.9 1367,2110.2 1368.7,2112 1366.2,2111.8" fill="#000" stroke="#000" stroke-width="0.5"/>
<polygon points="1109.1,1993.6 1110.1,1991.2 1108.3,1989.4 1110.8,1989.6 1112,1987.4 1112.6,1989.8 1115.1,1990.2 1112.9,1991.6 1113.3,1994.1 1111.4,1992.4" fill="#000" stroke="#000" stroke-width="0.5"/>
<polygon points="1069,1951.6 1070.2,1949.4 1068.7,1947.3 1071.1,1947.8 1072.6,1945.7 1072.9,1948.3 1075.3,1949 1073,1950 1073.1,1952.6 1071.3,1950.7" fill="#000" stroke="#000" stroke-width="0.5"/>
<polygon points="1073.3,1954.1 1074.6,1951.9 1073,1949.9 1075.5,1950.3 1076.9,1948.2 1077.2,1950.7 1079.7,1951.4 1077.4,1952.5 1077.5,1955.1 1075.7,1953.2" fill="#000" stroke="#000" stroke-width="0.5"/>
<polygon points="1046.4,1924 1047.8,1921.9 1046.4,1919.7 1048.8,1920.4 1050.4,1918.4 1050.5,1921 1052.9,1921.9 1050.5,1922.8 1050.4,1925.3 1048.8,1923.3" fill="#000" stroke="#000" stroke-width="0.5"/>
<polygon points="1001.2,1848.1 1003,1846.3 1002,1843.9 1004.3,1845 1006.2,1843.4 1005.9,1845.9 1008,1847.2 1005.5,1847.6 1004.9,1850.1 1003.8,1847.9" fill="#000" stroke="#000" stroke-width="0.5"/>
<polygon points="1005,1852.5 1006.7,1850.6 1005.7,1848.3 1008,1849.4 1009.9,1847.7 1009.6,1850.2 1011.8,1851.5 1009.3,1852 1008.7,1854.5 1007.5,1852.2" fill="#000" stroke="#000" stroke-width="0.5"/>
<polygon points="989.9,1821.7 991.8,1820 991,1817.6 993.2,1818.9 995.2,1817.4 994.7,1819.8 996.8,1821.3 994.2,1821.6 993.5,1824 992.5,1821.7" fill="#000" stroke="#000" stroke-width="0.5"/>
<polygon points="965.5,1729.5 967.7,1728.2 967.3,1725.7 969.2,1727.4 971.5,1726.3 970.5,1728.6 972.2,1730.5 969.7,1730.2 968.5,1732.5 968,1730" fill="#000" stroke="#000" stroke-width="0.5"/>
<path d="M994.2 1202.9V1404.6L1083.8 1456.8" stroke="#000" stroke-width="1.7" fill="none"/>
<text transform="translate(985.2 1220.3) scale(1.06 1)" font-size="22.9" text-anchor="end">≥37w</text>
<text transform="translate(985.2 1246.5) scale(1.06 1)" font-size="22.9" text-anchor="end">33-36w</text>
<text transform="translate(985.2 1272.6) scale(1.06 1)" font-size="22.9" text-anchor="end">29-32w</text>
<text transform="translate(985.2 1298.8) scale(1.06 1)" font-size="22.9" text-anchor="end">25-28w</text>
<text transform="translate(985.2 1324.9) scale(1.06 1)" font-size="22.9" text-anchor="end">21-24w</text>
<text transform="translate(985.2 1351.1) scale(1.06 1)" font-size="22.9" text-anchor="end">17-20w</text>
<text transform="translate(985.2 1377.3) scale(1.06 1)" font-size="22.9" text-anchor="end">13-16w</text>
<text transform="translate(985.2 1403.4) scale(1.06 1)" font-size="22.9" text-anchor="end">9-12w</text>
<text transform="translate(1907.3 1469.7) rotate(71)" font-size="28.6" text-anchor="middle">Firmicutes</text>
<text transform="translate(937.7 1813.2) rotate(-108.8)" font-size="28.6" text-anchor="middle">Bacteroidetes</text>
<text transform="translate(1091.6 2045.3) rotate(221)" font-size="28.6" text-anchor="middle">Actinobacteria</text>
<text transform="translate(1290 2145.5) rotate(197.6)" font-size="28.6" text-anchor="middle">Proteobacteria</text>
<text transform="translate(1000 2221.2) scale(1.03 1)" font-size="27.7">Genus</text>
<rect x="1000.8" y="2243.5" width="18" height="17.4" fill="#5893C8"/>
<text transform="translate(1017.2 2280.8) rotate(-90)" font-size="20.4" font-style="italic" text-anchor="end">Blautia</text>
<rect x="1025.3" y="2243.5" width="18" height="17.4" fill="#E37933"/>
<text transform="translate(1041.7 2280.8) rotate(-90)" font-size="20.4" font-style="italic" text-anchor="end">Clostridiales*</text>
<rect x="1049.8" y="2243.5" width="18" height="17.4" fill="#A5A5A5"/>
<text transform="translate(1066.2 2280.8) rotate(-90)" font-size="20.4" font-style="italic" text-anchor="end">Phascolarctobacterium</text>
<rect x="1074.3" y="2243.5" width="18" height="17.4" fill="#F4B81E"/>
<text transform="translate(1090.7 2280.8) rotate(-90)" font-size="20.4" font-style="italic" text-anchor="end">Clostridium</text>
<rect x="1098.8" y="2243.5" width="18" height="17.4" fill="#426BB4"/>
<text transform="translate(1115.2 2280.8) rotate(-90)" font-size="20.4" font-style="italic" text-anchor="end">[Ruminococcus]</text>
<rect x="1123.3" y="2243.5" width="18" height="17.4" fill="#6AA646"/>
<text transform="translate(1139.7 2280.8) rotate(-90)" font-size="20.4" font-style="italic" text-anchor="end">Bifidobacterium</text>
<rect x="1147.8" y="2243.5" width="18" height="17.4" fill="#255A8A"/>
<text transform="translate(1164.2 2280.8) rotate(-90)" font-size="20.4" font-style="italic" text-anchor="end">Coprococcus</text>
<rect x="1172.3" y="2243.5" width="18" height="17.4" fill="#974623"/>
<text transform="translate(1188.7 2280.8) rotate(-90)" font-size="20.4" font-style="italic" text-anchor="end">Collinsella</text>
<rect x="1196.8" y="2243.5" width="18" height="17.4" fill="#636363"/>
<text transform="translate(1213.2 2280.8) rotate(-90)" font-size="20.4" font-style="italic" text-anchor="end">Faecalibacterium</text>
<rect x="1221.3" y="2243.5" width="18" height="17.4" fill="#917226"/>
<text transform="translate(1237.7 2280.8) rotate(-90)" font-size="20.4" font-style="italic" text-anchor="end">Bacteroides</text>
<rect x="1245.8" y="2243.5" width="18" height="17.4" fill="#263F72"/>
<text transform="translate(1262.2 2280.8) rotate(-90)" font-size="20.4" font-style="italic" text-anchor="end">Enterobacteriaceae*</text>
<rect x="1270.3" y="2243.5" width="18" height="17.4" fill="#43682E"/>
<text transform="translate(1286.7 2280.8) rotate(-90)" font-size="20.4" font-style="italic" text-anchor="end">Lachnospiraceae*</text>
<rect x="1294.8" y="2243.5" width="18" height="17.4" fill="#7BA8D4"/>
<text transform="translate(1311.2 2280.8) rotate(-90)" font-size="20.4" font-style="italic" text-anchor="end">Ruminococcaceae*</text>
<rect x="1319.3" y="2243.5" width="18" height="17.4" fill="#E8925C"/>
<text transform="translate(1335.7 2280.8) rotate(-90)" font-size="20.4" font-style="italic" text-anchor="end">Clostridiaceae_SMB53</text>
<rect x="1343.8" y="2243.5" width="18" height="17.4" fill="#B7B7B7"/>
<text transform="translate(1360.2 2280.8) rotate(-90)" font-size="20.4" font-style="italic" text-anchor="end">Erysipelotrichaceae*</text>
<rect x="1368.3" y="2243.5" width="18" height="17.4" fill="#F5C342"/>
<text transform="translate(1384.7 2280.8) rotate(-90)" font-size="20.4" font-style="italic" text-anchor="end">Streptococcus</text>
<rect x="1392.8" y="2243.5" width="18" height="17.4" fill="#6686C4"/>
<text transform="translate(1409.2 2280.8) rotate(-90)" font-size="20.4" font-style="italic" text-anchor="end">Ruminococcaceae+</text>
<rect x="1417.3" y="2243.5" width="18" height="17.4" fill="#87B868"/>
<text transform="translate(1433.7 2280.8) rotate(-90)" font-size="20.4" font-style="italic" text-anchor="end">Dorea</text>
<rect x="1441.8" y="2243.5" width="18" height="17.4" fill="#F2F2F2"/>
<text transform="translate(1458.2 2280.8) rotate(-90)" font-size="20.4" font-style="italic" text-anchor="end">Others</text>
<text transform="translate(1524.5 2220.8) scale(1.077 1)" font-size="26.6">Avg. relative abundance</text>
<rect x="1549.6" y="2244.1" width="24" height="23.8" fill="#DFE8F7"/>
<rect x="1574.1" y="2244.1" width="24" height="23.8" fill="#BED0EE"/>
<rect x="1598.5" y="2244.1" width="24" height="23.8" fill="#A0BBE8"/>
<rect x="1623" y="2244.1" width="24" height="23.8" fill="#85A7E2"/>
<rect x="1647.5" y="2244.1" width="24" height="23.8" fill="#6A94DD"/>
<rect x="1671.9" y="2244.1" width="24" height="23.8" fill="#5587DA"/>
<rect x="1696.4" y="2244.1" width="24" height="23.8" fill="#417ADB"/>
<rect x="1720.9" y="2244.1" width="24" height="23.8" fill="#3071DB"/>
<rect x="1745.4" y="2244.1" width="24" height="23.8" fill="#1D66DB"/>
<rect x="1769.8" y="2244.1" width="24" height="23.8" fill="#0A5AD8"/>
<text transform="translate(1544.4 2272) rotate(-90)" font-size="19.5" text-anchor="end">0</text>
<text transform="translate(1593.3 2272) rotate(-90)" font-size="19.5" text-anchor="end">0.01</text>
<text transform="translate(1642.3 2272) rotate(-90)" font-size="19.5" text-anchor="end">0.02</text>
<text transform="translate(1691.2 2272) rotate(-90)" font-size="19.5" text-anchor="end">0.03</text>
<text transform="translate(1740.2 2272) rotate(-90)" font-size="19.5" text-anchor="end">0.04</text>
<text transform="translate(1789.1 2272) rotate(-90)" font-size="19.5" text-anchor="end">0.05</text>
<text transform="translate(1524.5 2400.9) scale(1.077 1)" font-size="27.1">ANOVA</text>
<polygon points="1535.1,2425.5 1537.8,2432.8 1545.6,2433.1 1539.5,2437.9 1541.6,2445.4 1535.1,2441.1 1528.6,2445.4 1530.7,2437.9 1524.6,2433.1 1532.4,2432.8" fill="#fff" stroke="#000" stroke-width="1.6"/>
<polygon points="1535.1,2452.9 1537.6,2459.7 1544.9,2460 1539.2,2464.5 1541.2,2471.5 1535.1,2467.5 1529,2471.5 1531,2464.5 1525.3,2460 1532.6,2459.7" fill="#000" stroke="#000" stroke-width="0.5"/>
<text x="1562.5" y="2443.6" font-size="24">P &lt; 0.05</text>
<text x="1562.5" y="2471.2" font-size="24">P &lt; 0.01</text>
</svg>
</body></html>
